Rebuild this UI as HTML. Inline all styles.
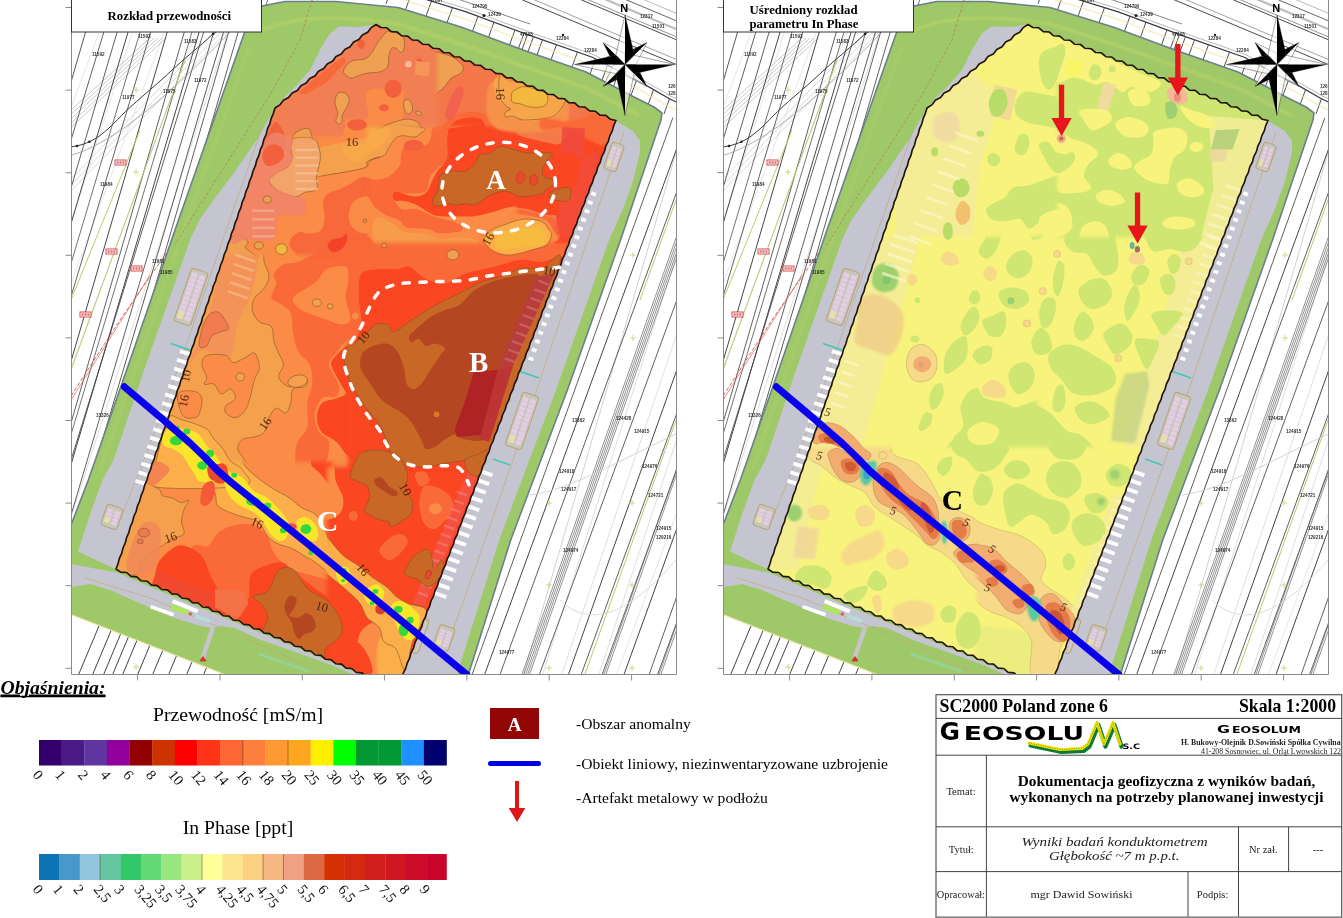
<!DOCTYPE html>
<html lang="pl"><head><meta charset="utf-8"><title>Wyniki badań konduktometrem</title>
<style>html,body{margin:0;padding:0;background:#fff}body{width:1343px;height:918px;overflow:hidden;font-family:"Liberation Serif",serif}svg{display:block}text{font-family:"Liberation Serif",serif}.sans{font-family:"Liberation Sans",sans-serif}</style>
</head><body>
<svg width="1343" height="918" viewBox="0 0 1343 918">
<defs>
<clipPath id="frameL"><rect x="71.5" y="0" width="605.0" height="674.5"/></clipPath>
<clipPath id="frameR"><rect x="723.5" y="0" width="605.0" height="674.5"/></clipPath>
<clipPath id="survL"><polygon points="376.0,24.5 616.0,120.5 397.5,689.0 116.0,569.0 275.0,108.0"/></clipPath>
<clipPath id="survR"><polygon points="1028.0,24.5 1268.0,120.5 1049.5,689.0 768.0,569.0 927.0,108.0"/></clipPath>
<filter id="b1" x="-20%" y="-20%" width="140%" height="140%"><feGaussianBlur stdDeviation="1"/></filter>
<filter id="b2" x="-20%" y="-20%" width="140%" height="140%"><feGaussianBlur stdDeviation="2"/></filter>
<filter id="b3" x="-30%" y="-30%" width="160%" height="160%"><feGaussianBlur stdDeviation="3.5"/></filter>
<filter id="b05" x="-5%" y="-5%" width="110%" height="110%"><feGaussianBlur stdDeviation="0.5"/></filter>
<filter id="b04" filterUnits="userSpaceOnUse" x="0" y="0" width="700" height="700"><feGaussianBlur stdDeviation="0.4"/></filter>
</defs>
<rect width="1343" height="918" fill="#fff"/>
<g clip-path="url(#frameL)">
<g transform="translate(0,0)" filter="url(#b04)">
<rect x="71.5" y="0" width="605.0" height="674.5" fill="#fff"/><g filter="url(#b05)"><path d="M75,0L-161.4,680" stroke="#d6d6d6" stroke-width="0.8" fill="none"/><path d="M111.3,0L-143.8,680" stroke="#dcdcdc" stroke-width="0.7" fill="none"/><path d="M142.8,0L-75.9,680" stroke="#dcdcdc" stroke-width="0.7" fill="none"/><path d="M176.3,0L-76.3,680" stroke="#dcdcdc" stroke-width="0.7" fill="none"/><path d="M207.4,0L-44.9,680" stroke="#dcdcdc" stroke-width="0.7" fill="none"/><path d="M238.3,0L18.4,680" stroke="#d6d6d6" stroke-width="0.8" fill="none"/><path d="M278.4,0L59.7,680" stroke="#d6d6d6" stroke-width="0.8" fill="none"/><path d="M317.6,0L86.2,680" stroke="#d6d6d6" stroke-width="0.8" fill="none"/><path d="M348.4,0L148.4,680" stroke="#d6d6d6" stroke-width="0.8" fill="none"/><path d="M385.1,0L163.5,680" stroke="#dcdcdc" stroke-width="0.7" fill="none"/><path d="M420,0L217.1,680" stroke="#d6d6d6" stroke-width="0.8" fill="none"/><path d="M451.7,0L232.1,680" stroke="#d6d6d6" stroke-width="0.8" fill="none"/><path d="M487.6,0L266.5,680" stroke="#d6d6d6" stroke-width="0.8" fill="none"/><path d="M526.7,0L310.4,680" stroke="#dcdcdc" stroke-width="0.7" fill="none"/><path d="M567.6,0L338.2,680" stroke="#d6d6d6" stroke-width="0.8" fill="none"/><path d="M605,0L409.4,680" stroke="#d6d6d6" stroke-width="0.8" fill="none"/><path d="M639.8,0L435.4,680" stroke="#cccccc" stroke-width="0.9" fill="none"/><path d="M682.3,0L429.4,680" stroke="#d6d6d6" stroke-width="0.8" fill="none"/><path d="M720.7,0L521.8,680" stroke="#cccccc" stroke-width="0.9" fill="none"/><path d="M757.9,0L540.9,680" stroke="#d6d6d6" stroke-width="0.8" fill="none"/><path d="M789.8,0L559.8,680" stroke="#d6d6d6" stroke-width="0.8" fill="none"/><path d="M822.2,0L597,680" stroke="#d6d6d6" stroke-width="0.8" fill="none"/><path d="M867.6,0L614.5,680" stroke="#dcdcdc" stroke-width="0.7" fill="none"/><path d="M60,120.0L150,38" stroke="#c4c4c4" stroke-width="0.9" fill="none"/><path d="M60,124.5L154,38" stroke="#c4c4c4" stroke-width="0.9" fill="none"/><path d="M60,129.0L158,38" stroke="#c4c4c4" stroke-width="0.9" fill="none"/><path d="M60,133.5L162,38" stroke="#c4c4c4" stroke-width="0.9" fill="none"/><path d="M60,138.0L166,38" stroke="#c4c4c4" stroke-width="0.9" fill="none"/><path d="M60,190L215,32" stroke="#cfcfcf" stroke-width="0.8" fill="none"/><path d="M60,196L221,32" stroke="#cfcfcf" stroke-width="0.8" fill="none"/><path d="M60,202L227,32" stroke="#cfcfcf" stroke-width="0.8" fill="none"/><path d="M94.9,0L-103.3,680" stroke="#5a5a5a" stroke-width="1.0" fill="none"/><path d="M113.6,0L-93.3,680" stroke="#454545" stroke-width="0.85" fill="none"/><path d="M126.6,0L-74.4,680" stroke="#454545" stroke-width="0.85" fill="none"/><path d="M137.6,0L-64.9,680" stroke="#454545" stroke-width="1.0" fill="none"/><path d="M149.6,0L-53.2,680" stroke="#5a5a5a" stroke-width="0.85" fill="none"/><path d="M160.3,0L-44.4,680" stroke="#454545" stroke-width="0.85" fill="none"/><path d="M176.6,0L-22.1,680" stroke="#454545" stroke-width="1.0" fill="none"/><path d="M193.6,0L-3.5,680" stroke="#454545" stroke-width="0.85" fill="none"/><path d="M201.6,0L-2.8,680" stroke="#5a5a5a" stroke-width="0.85" fill="none"/><path d="M208.6,0L7.2,680" stroke="#454545" stroke-width="1.0" fill="none"/><path d="M213.6,0L2.8,680" stroke="#454545" stroke-width="0.85" fill="none"/><path d="M223.2,0L22.3,680" stroke="#454545" stroke-width="0.85" fill="none"/><path d="M233,0L31.3,680" stroke="#5a5a5a" stroke-width="1.0" fill="none"/><path d="M237.9,0L41.6,680" stroke="#454545" stroke-width="0.85" fill="none"/><path d="M247.6,0L48.6,680" stroke="#454545" stroke-width="0.85" fill="none"/><path d="M256.6,0L49.3,680" stroke="#454545" stroke-width="1.0" fill="none"/><path d="M267.6,0L61.8,680" stroke="#5a5a5a" stroke-width="0.85" fill="none"/><path d="M690,0L447,680" stroke="#444" stroke-width="1.0" fill="none"/><path d="M703,0L453,680" stroke="#444" stroke-width="0.85" fill="none"/><path d="M715.3,0L470.1,680" stroke="#444" stroke-width="0.85" fill="none"/><path d="M731,0L482.6,680" stroke="#444" stroke-width="1.0" fill="none"/><path d="M747,0L498,680" stroke="#444" stroke-width="0.85" fill="none"/><path d="M787,0L537.4,680" stroke="#444" stroke-width="0.85" fill="none"/><path d="M808.4,0L566.5,680" stroke="#444" stroke-width="1.0" fill="none"/><path d="M828,0L579.2,680" stroke="#444" stroke-width="0.85" fill="none"/><path d="M847.7,0L600.2,680" stroke="#444" stroke-width="0.85" fill="none"/><path d="M868,0L622,680" stroke="#444" stroke-width="1.0" fill="none"/><path d="M888,0L647.2,680" stroke="#444" stroke-width="0.85" fill="none"/><path d="M905,0L655.6,680" stroke="#444" stroke-width="0.85" fill="none"/><path d="M760,0L520,680" stroke="#666" stroke-width="0.7" fill="none"/><path d="M761.9,0L521.9,680" stroke="#666" stroke-width="0.7" fill="none"/><path d="M763.8,0L523.8,680" stroke="#666" stroke-width="0.7" fill="none"/><path d="M765.7,0L525.7,680" stroke="#666" stroke-width="0.7" fill="none"/><path d="M767.6,0L527.6,680" stroke="#666" stroke-width="0.7" fill="none"/><path d="M842,0L602,680" stroke="#666" stroke-width="0.7" fill="none"/><path d="M843.9,0L603.9,680" stroke="#666" stroke-width="0.7" fill="none"/><path d="M897,0L657,680" stroke="#666" stroke-width="0.7" fill="none"/><path d="M898.9,0L658.9,680" stroke="#666" stroke-width="0.7" fill="none"/><path d="M530,495C570,490 620,460 676,434" stroke="#cfcfcf" stroke-width="0.9" fill="none"/><path d="M560,600C600,640 650,590 676,560" stroke="#d8d8d8" stroke-width="0.9" fill="none"/><path d="M71,300L140,130" stroke="#b9cc6a" stroke-width="1" fill="none"/><path d="M71,370L185,60" stroke="#b9cc6a" stroke-width="1" fill="none"/><path d="M100,674L250,260" stroke="#b9cc6a" stroke-width="1" fill="none"/><path d="M585,674L676,420" stroke="#b9cc6a" stroke-width="1" fill="none"/><path d="M640,300L676,200" stroke="#b9cc6a" stroke-width="1" fill="none"/><path d="M60,148C75,147 82,145 89.4,141.8C104,135 115,122 125.4,111.6C140,98 155,86 167.8,74C185,58 200,46 212,34.8L222,28" stroke="#3a3a3a" stroke-width="1" fill="none"/><circle cx="89.4" cy="141.8" r="1.3" fill="#222"/><circle cx="77" cy="146" r="1.3" fill="#222"/><circle cx="213" cy="34" r="1.3" fill="#222"/><path d="M60,158C105,150 160,105 230,32" stroke="#9a9a9a" stroke-width="0.8" fill="none"/><path d="M71,396L120,320L172,245L262,110L300,40L312,0" stroke="#c8584a" stroke-width="0.9" stroke-dasharray="4 2" fill="none"/><path d="M71,400L150,275" stroke="#d46a5a" stroke-width="0.7" fill="none"/></g><g filter="url(#b05)"><polygon points="336.0,-5.0 690.0,-5.0 690.0,125.0 662.0,113.0 636.0,98.0 586.0,72.0 523.0,50.0 461.0,27.0 398.0,7.5 336.0,1.5" fill="#fff"/><path d="M384.7,-13.3 L402.7,-7.8 L466.2,11.9 L528.4,34.9 L592.3,57.3 L643.6,83.9 L669.4,98.8 L696.7,111.5" stroke="#3a3a3a" stroke-width="1.2" fill="none"/><path d="M385.6,-16.2 L403.6,-10.7 L467.1,9 L529.4,32.1 L593.4,54.5 L645,81.3 L670.7,96.1 L698,108.8" stroke="#9a9a9a" stroke-width="0.7" fill="none"/><path d="M386,3.8l5.6,-15.4M405.5,9.8l5.6,-15.4M426,16.2l5.6,-15.4M447,22.7l5.6,-15.4M472.5,31.3l5.6,-15.4M488.5,37.2l5.6,-15.4M509.5,45l5.6,-15.4M518.5,48.3l5.6,-15.4M522,49.6l5.6,-15.4M528,51.7l5.6,-15.4M537,54.9l5.6,-15.4M551,59.8l5.6,-15.4M572,67.1l5.6,-15.4M590,74.1l5.6,-15.4M602,80.3l5.6,-15.4M613.5,86.3l5.6,-15.4M631,95.4l5.6,-15.4M648,104.9l5.6,-15.4M664,113.9l5.6,-15.4" stroke="#505050" stroke-width="1" fill="none"/><path d="M518,-2L688,69.4" stroke="#4a4a4a" stroke-width="1.0" fill="none"/><path d="M530,-2L700,69.4" stroke="#8a8a8a" stroke-width="0.8" fill="none"/><path d="M577,-2L747,69.4" stroke="#4a4a4a" stroke-width="1.0" fill="none"/><path d="M584,-2L754,69.4" stroke="#777" stroke-width="0.8" fill="none"/><path d="M602,-2L772,69.4" stroke="#bdbdbd" stroke-width="2.2" fill="none"/><path d="M622,-2L792,69.4" stroke="#555" stroke-width="0.9" fill="none"/><path d="M640,-2L810,69.4" stroke="#999" stroke-width="0.7" fill="none"/><path d="M455,-2L530,24" stroke="#666" stroke-width="0.8" fill="none"/><circle cx="484" cy="15.5" r="1.6" fill="#222"/><circle cx="563" cy="35" r="1.2" fill="#222"/><path d="M382.6,-6.6 L400.7,-1.1 L463.9,18.5 L526,41.5 L589.5,63.7 L640.3,90.1 L666.1,105 L693.8,117.8" stroke="#f0e6a8" stroke-width="1.6" fill="none" opacity="0.6"/></g><polygon points="60.0,560.0 72.0,522.5 88.3,480.0 95.5,459.5 133.6,350.0 175.0,230.0 244.0,34.0 252.0,16.0 262.0,6.0 285.0,1.5 336.0,1.5 398.0,7.5 461.0,27.0 523.0,50.0 586.0,72.0 636.0,98.0 654.0,107.0 662.0,113.0 661.0,120.0 620.5,240.0 567.4,390.0 539.0,465.0 510.7,540.0 468.2,675.0 455.0,710.0 60.0,710.0" fill="#9fc868" stroke="#6d7f8c" stroke-width="1.6" stroke-linejoin="round"/><path d="M262,30C300,14 350,16 398,24L461,44L523,66L586,88L640,116" stroke="#c6d86a" stroke-width="3.5" fill="none" opacity="0.45" filter="url(#b1)"/><path d="M250,45L180,240L100,470" stroke="#b4d070" stroke-width="3" fill="none" opacity="0.4" filter="url(#b1)"/><polygon points="60.0,610.0 71.0,614.5 225.0,674.5 260.0,700.0 60.0,700.0" fill="#fff"/><g filter="url(#b05)"><clipPath id="wedgeL"><polygon points="60.0,610.0 71.0,614.5 225.0,674.5 260.0,700.0 60.0,700.0"/></clipPath><path d="M78,676l30.2,-72M92,676l30.2,-72M103,676l30.2,-72M112,676l30.2,-72M122,676l30.2,-72M137,676l30.2,-72M152,676l30.2,-72M168,676l30.2,-72M186,676l30.2,-72M203,676l30.2,-72M220,676l30.2,-72M238,676l30.2,-72" stroke="#444" stroke-width="1" fill="none" clip-path="url(#wedgeL)"/><path d="M60,610L71,614.5L225,674.5" stroke="#e8e39a" stroke-width="1.2" fill="none"/></g><polygon points="275.0,108.0 116.7,569.5 100.0,562.0 78.0,551.5 89.7,515.4 102.5,480.0 113.8,459.5 144.1,370.0 190.0,240.0 200.0,219.0 215.0,198.0 236.0,170.0 256.7,140.0 268.5,119.0 281.0,100.5 295.5,86.5 310.0,70.0 321.0,48.0 329.5,34.0 339.0,26.5 359.0,27.0 376.0,24.5" fill="#c5c5d2"/><polygon points="616.0,120.5 397.5,689.0 440.0,710.0 456.8,675.0 499.3,540.0 527.5,465.0 556.0,390.0 609.1,240.0 623.0,209.0 633.0,181.0 640.0,152.5 640.0,141.0 633.0,131.0 619.0,122.7" fill="#c5c5d2"/><polygon points="60.0,562.0 116.7,572.5 160.0,591.0 398.0,690.0 420.0,712.0 400.0,712.0 360.0,677.5 330.0,664.5 291.0,650.5 261.0,640.0 235.0,628.0 220.8,626.0 212.8,628.0 200.7,626.0 180.6,620.0 164.5,614.0 146.5,606.0 130.0,599.0 110.0,590.0 90.0,584.0 60.0,589.0" fill="#c5c5d2"/><path d="M520,84L616,122" stroke="#c5c5d2" stroke-width="3" fill="none"/><g fill="none" stroke="#c2a877" stroke-width="0.8" opacity="0.9"><path d="M262,128L215,262L188,340L163,410L140,470L120,520"/><path d="M624,132L590,232L520,440L478,560L446,650"/><path d="M85,578L150,598L240,636L330,676"/></g><path d="M312,0L300,40L270,95L235,150L200,205L175,245" stroke="#b08a55" stroke-width="0.9" stroke-dasharray="3 2" fill="none"/><g transform="translate(191,297) rotate(-71)"><rect x="-28.0" y="-8.75" width="56" height="17.5" rx="3" fill="#c9c6c0" stroke="#b7a46a" stroke-width="1"/><rect x="-24.0" y="-6.8" width="48" height="5.75" fill="#e3cfe3"/><rect x="-24.0" y="1" width="48" height="5.75" fill="#e3cfe3"/><path d="M-19.2,-6.75V6.75M-14.4,-6.75V6.75M-9.6,-6.75V6.75M-4.8,-6.75V6.75M0,-6.75V6.75M4.8,-6.75V6.75M9.6,-6.75V6.75M14.4,-6.75V6.75M19.2,-6.75V6.75" stroke="#cdb2cf" stroke-width="0.5" fill="none"/><rect x="-24.0" y="-6.75" width="7.2" height="5.75" fill="#e6e0a8"/></g><g transform="translate(522,421) rotate(-71)"><rect x="-28.0" y="-8.5" width="56" height="17" rx="3" fill="#c9c6c0" stroke="#b7a46a" stroke-width="1"/><rect x="-24.0" y="-6.5" width="48" height="5.5" fill="#e3cfe3"/><rect x="-24.0" y="1" width="48" height="5.5" fill="#e3cfe3"/><path d="M-19.2,-6.5V6.5M-14.4,-6.5V6.5M-9.6,-6.5V6.5M-4.8,-6.5V6.5M0,-6.5V6.5M4.8,-6.5V6.5M9.6,-6.5V6.5M14.4,-6.5V6.5M19.2,-6.5V6.5" stroke="#cdb2cf" stroke-width="0.5" fill="none"/><rect x="-24.0" y="-6.5" width="7.2" height="5.5" fill="#e6e0a8"/></g><g transform="translate(614,157) rotate(-71)"><rect x="-14.0" y="-6.5" width="28" height="13" rx="3" fill="#c9c6c0" stroke="#b7a46a" stroke-width="1"/><rect x="-10.0" y="-4.5" width="20" height="3.5" fill="#e3cfe3"/><rect x="-10.0" y="1" width="20" height="3.5" fill="#e3cfe3"/><path d="M-6,-4.5V4.5M-2,-4.5V4.5M2,-4.5V4.5M6,-4.5V4.5" stroke="#cdb2cf" stroke-width="0.5" fill="none"/><rect x="-10.0" y="-4.5" width="6.0" height="3.5" fill="#e6e0a8"/></g><g transform="translate(112,517) rotate(-71)"><rect x="-11.0" y="-8.5" width="22" height="17" rx="3" fill="#c9c6c0" stroke="#b7a46a" stroke-width="1"/><rect x="-7.0" y="-6.5" width="14" height="5.5" fill="#e3cfe3"/><rect x="-7.0" y="1" width="14" height="5.5" fill="#e3cfe3"/><path d="M-3.5,-6.5V6.5M0,-6.5V6.5M3.5,-6.5V6.5" stroke="#cdb2cf" stroke-width="0.5" fill="none"/><rect x="-7.0" y="-6.5" width="5.2" height="5.5" fill="#e6e0a8"/></g><g transform="translate(444,638) rotate(-71)"><rect x="-12.0" y="-8.0" width="24" height="16" rx="3" fill="#c9c6c0" stroke="#b7a46a" stroke-width="1"/><rect x="-8.0" y="-6" width="16" height="5.0" fill="#e3cfe3"/><rect x="-8.0" y="1" width="16" height="5.0" fill="#e3cfe3"/><path d="M-4.8,-6.0V6.0M-1.6,-6.0V6.0M1.6,-6.0V6.0M4.8,-6.0V6.0" stroke="#cdb2cf" stroke-width="0.5" fill="none"/><rect x="-8.0" y="-6.0" width="4.8" height="5.0" fill="#e6e0a8"/></g><g transform="translate(420,636) rotate(-71)"><rect x="-18.0" y="-3.75" width="36" height="7.5" rx="3" fill="#c9c6c0" stroke="#b7a46a" stroke-width="1"/><rect x="-14.0" y="-1.8" width="28" height="0.75" fill="#e3cfe3"/><rect x="-14.0" y="1" width="28" height="0.75" fill="#e3cfe3"/><path d="M-10.5,-1.75V1.75M-7,-1.75V1.75M-3.5,-1.75V1.75M0,-1.75V1.75M3.5,-1.75V1.75M7,-1.75V1.75M10.5,-1.75V1.75" stroke="#cdb2cf" stroke-width="0.5" fill="none"/><rect x="-14.0" y="-1.75" width="5.2" height="0.75" fill="#e6e0a8"/></g><path d="M180,351.2l10,3.1" stroke="#fff" stroke-width="3.8" fill="none"/><path d="M177,359.8l10,3.1" stroke="#fff" stroke-width="3.8" fill="none"/><path d="M174.1,368.5l10,3.1" stroke="#fff" stroke-width="3.8" fill="none"/><path d="M171.1,377.1l10,3.1" stroke="#fff" stroke-width="3.8" fill="none"/><path d="M168.1,385.8l10,3.1" stroke="#fff" stroke-width="3.8" fill="none"/><path d="M165.2,394.4l10,3.1" stroke="#fff" stroke-width="3.8" fill="none"/><path d="M162.2,403l10,3.1" stroke="#fff" stroke-width="3.8" fill="none"/><path d="M159.2,411.7l10,3.1" stroke="#fff" stroke-width="3.8" fill="none"/><path d="M156.2,420.3l10,3.1" stroke="#fff" stroke-width="3.8" fill="none"/><path d="M153.3,429l10,3.1" stroke="#fff" stroke-width="3.8" fill="none"/><path d="M150.3,437.6l10,3.1" stroke="#fff" stroke-width="3.8" fill="none"/><path d="M147.3,446.2l10,3.1" stroke="#fff" stroke-width="3.8" fill="none"/><path d="M144.4,454.9l10,3.1" stroke="#fff" stroke-width="3.8" fill="none"/><path d="M141.4,463.5l10,3.1" stroke="#fff" stroke-width="3.8" fill="none"/><path d="M138.4,472.2l10,3.1" stroke="#fff" stroke-width="3.8" fill="none"/><path d="M135.4,480.8l10,3.1" stroke="#fff" stroke-width="3.8" fill="none"/><path d="M591.2,193l4.7,1.7" stroke="#fff" stroke-width="3.6" fill="none"/><path d="M587.9,201.7l4.7,1.7" stroke="#fff" stroke-width="3.6" fill="none"/><path d="M584.6,210.4l4.7,1.7" stroke="#fff" stroke-width="3.6" fill="none"/><path d="M581.3,219l4.7,1.7" stroke="#fff" stroke-width="3.6" fill="none"/><path d="M578,227.7l4.7,1.7" stroke="#fff" stroke-width="3.6" fill="none"/><path d="M574.7,236.4l4.7,1.7" stroke="#fff" stroke-width="3.6" fill="none"/><path d="M571.4,245.1l4.7,1.7" stroke="#fff" stroke-width="3.6" fill="none"/><path d="M568.1,253.8l4.7,1.7" stroke="#fff" stroke-width="3.6" fill="none"/><path d="M564.8,262.4l4.7,1.7" stroke="#fff" stroke-width="3.6" fill="none"/><path d="M561.5,271.1l4.7,1.7" stroke="#fff" stroke-width="3.6" fill="none"/><path d="M558.2,279.8l4.7,1.7" stroke="#fff" stroke-width="3.6" fill="none"/><path d="M554.9,288.5l4.7,1.7" stroke="#fff" stroke-width="3.6" fill="none"/><path d="M551.6,297.2l4.7,1.7" stroke="#fff" stroke-width="3.6" fill="none"/><path d="M548.3,305.8l4.7,1.7" stroke="#fff" stroke-width="3.6" fill="none"/><path d="M545,314.5l4.7,1.7" stroke="#fff" stroke-width="3.6" fill="none"/><path d="M541.7,323.2l4.7,1.7" stroke="#fff" stroke-width="3.6" fill="none"/><path d="M538.4,331.9l4.7,1.7" stroke="#fff" stroke-width="3.6" fill="none"/><path d="M535.1,340.6l4.7,1.7" stroke="#fff" stroke-width="3.6" fill="none"/><path d="M531.8,349.2l4.7,1.7" stroke="#fff" stroke-width="3.6" fill="none"/><path d="M528.5,357.9l4.7,1.7" stroke="#fff" stroke-width="3.6" fill="none"/><path d="M480.2,471l12.2,4.4" stroke="#fff" stroke-width="3.8" fill="none"/><path d="M476.9,479.7l12.2,4.4" stroke="#fff" stroke-width="3.8" fill="none"/><path d="M473.6,488.4l12.2,4.4" stroke="#fff" stroke-width="3.8" fill="none"/><path d="M470.3,497.1l12.2,4.4" stroke="#fff" stroke-width="3.8" fill="none"/><path d="M467,505.8l12.2,4.4" stroke="#fff" stroke-width="3.8" fill="none"/><path d="M463.7,514.5l12.2,4.4" stroke="#fff" stroke-width="3.8" fill="none"/><path d="M460.4,523.2l12.2,4.4" stroke="#fff" stroke-width="3.8" fill="none"/><path d="M457.1,531.9l12.2,4.4" stroke="#fff" stroke-width="3.8" fill="none"/><path d="M453.8,540.6l12.2,4.4" stroke="#fff" stroke-width="3.8" fill="none"/><path d="M450.5,549.3l12.2,4.4" stroke="#fff" stroke-width="3.8" fill="none"/><path d="M447.2,558l12.2,4.4" stroke="#fff" stroke-width="3.8" fill="none"/><path d="M443.9,566.7l12.2,4.4" stroke="#fff" stroke-width="3.8" fill="none"/><path d="M440.6,575.4l12.2,4.4" stroke="#fff" stroke-width="3.8" fill="none"/><path d="M437.3,584.1l12.2,4.4" stroke="#fff" stroke-width="3.8" fill="none"/><path d="M434,592.8l12.2,4.4" stroke="#fff" stroke-width="3.8" fill="none"/><path d="M171,343.5l20,7" stroke="#43c8b0" stroke-width="1.8" fill="none"/><path d="M519,371l20,7" stroke="#43c8b0" stroke-width="1.8" fill="none"/><path d="M493,459l17,6" stroke="#43c8b0" stroke-width="1.8" fill="none"/><path d="M150.5,606.6L173.6,614.7" stroke="#fff" stroke-width="3.6" fill="none"/><path d="M172.6,601.2L197.7,611.3" stroke="#fff" stroke-width="4" fill="none"/><path d="M171,606.5L187,612.5" stroke="#aee65a" stroke-width="5.5" fill="none"/><path d="M195,616L210,621.5" stroke="#aee6e0" stroke-width="3.5" fill="none" opacity="0.8"/><circle cx="190.3" cy="613.9" r="1.7" fill="#e06030"/><path d="M212.8,628L207,645L202.7,658" stroke="#c4c4c9" stroke-width="4.5" fill="none"/><path d="M203,656.5l-3,4.5 6,0z" fill="#d03030" stroke="#d03030" stroke-width="0.8"/><path d="M259,654l50,17.5" stroke="#8fdcc8" stroke-width="3" fill="none" opacity="0.7" stroke-dasharray="2 1"/><polygon points="376.0,24.5 616.0,120.5 397.5,689.0 116.0,569.0 275.0,108.0" fill="#d8d8d8"/><text x="92" y="56" font-size="4.6" fill="#1c1c1c" text-anchor="start" font-weight="bold" class="sans" opacity="0.9">11592</text><text x="138" y="38" font-size="4.6" fill="#1c1c1c" text-anchor="start" font-weight="bold" class="sans" opacity="0.9">11593</text><text x="184" y="43" font-size="4.6" fill="#1c1c1c" text-anchor="start" font-weight="bold" class="sans" opacity="0.9">11583</text><text x="194" y="82" font-size="4.6" fill="#1c1c1c" text-anchor="start" font-weight="bold" class="sans" opacity="0.9">11972</text><text x="122" y="99" font-size="4.6" fill="#1c1c1c" text-anchor="start" font-weight="bold" class="sans" opacity="0.9">11977</text><text x="163" y="93" font-size="4.6" fill="#1c1c1c" text-anchor="start" font-weight="bold" class="sans" opacity="0.9">11975</text><text x="100" y="186" font-size="4.6" fill="#1c1c1c" text-anchor="start" font-weight="bold" class="sans" opacity="0.9">11984</text><text x="160" y="274" font-size="4.6" fill="#1c1c1c" text-anchor="start" font-weight="bold" class="sans" opacity="0.9">11985</text><text x="152" y="263" font-size="4.6" fill="#1c1c1c" text-anchor="start" font-weight="bold" class="sans" opacity="0.9">11981</text><text x="96" y="417" font-size="4.6" fill="#1c1c1c" text-anchor="start" font-weight="bold" class="sans" opacity="0.9">13326</text><text x="561" y="491" font-size="4.6" fill="#1c1c1c" text-anchor="start" font-weight="bold" class="sans" opacity="0.9">124917</text><text x="559" y="473" font-size="4.6" fill="#1c1c1c" text-anchor="start" font-weight="bold" class="sans" opacity="0.9">124918</text><text x="563" y="552" font-size="4.6" fill="#1c1c1c" text-anchor="start" font-weight="bold" class="sans" opacity="0.9">124974</text><text x="572" y="422" font-size="4.6" fill="#1c1c1c" text-anchor="start" font-weight="bold" class="sans" opacity="0.9">13362</text><text x="616" y="420" font-size="4.6" fill="#1c1c1c" text-anchor="start" font-weight="bold" class="sans" opacity="0.9">124428</text><text x="634" y="433" font-size="4.6" fill="#1c1c1c" text-anchor="start" font-weight="bold" class="sans" opacity="0.9">124915</text><text x="642" y="468" font-size="4.6" fill="#1c1c1c" text-anchor="start" font-weight="bold" class="sans" opacity="0.9">124976</text><text x="648" y="497" font-size="4.6" fill="#1c1c1c" text-anchor="start" font-weight="bold" class="sans" opacity="0.9">124721</text><text x="656" y="530" font-size="4.6" fill="#1c1c1c" text-anchor="start" font-weight="bold" class="sans" opacity="0.9">124915</text><text x="656" y="539" font-size="4.6" fill="#1c1c1c" text-anchor="start" font-weight="bold" class="sans" opacity="0.9">129216</text><text x="499" y="654" font-size="4.6" fill="#1c1c1c" text-anchor="start" font-weight="bold" class="sans" opacity="0.9">124977</text><text x="472" y="8" font-size="4.6" fill="#1c1c1c" text-anchor="start" font-weight="bold" class="sans" opacity="0.9">124790</text><text x="520" y="36" font-size="4.6" fill="#1c1c1c" text-anchor="start" font-weight="bold" class="sans" opacity="0.9">47808</text><text x="488" y="16" font-size="4.6" fill="#1c1c1c" text-anchor="start" font-weight="bold" class="sans" opacity="0.9">12439</text><text x="556" y="40" font-size="4.6" fill="#1c1c1c" text-anchor="start" font-weight="bold" class="sans" opacity="0.9">12284</text><text x="584" y="52" font-size="4.6" fill="#1c1c1c" text-anchor="start" font-weight="bold" class="sans" opacity="0.9">12284</text><text x="607" y="60" font-size="4.6" fill="#1c1c1c" text-anchor="start" font-weight="bold" class="sans" opacity="0.9">12359</text><text x="430" y="2" font-size="4.6" fill="#1c1c1c" text-anchor="start" font-weight="bold" class="sans" opacity="0.9">47807</text><text x="640" y="18" font-size="4.6" fill="#1c1c1c" text-anchor="start" font-weight="bold" class="sans" opacity="0.9">12317</text><text x="652" y="28" font-size="4.6" fill="#1c1c1c" text-anchor="start" font-weight="bold" class="sans" opacity="0.9">11501</text><text x="668" y="88" font-size="4.6" fill="#1c1c1c" text-anchor="start" font-weight="bold" class="sans" opacity="0.9">126701</text><text x="668" y="95" font-size="4.6" fill="#1c1c1c" text-anchor="start" font-weight="bold" class="sans" opacity="0.9">128702</text><rect x="106" y="249" width="11" height="5" fill="#fff" stroke="#d23c3c" stroke-width="0.9"/><path d="M107.5,251.5h8" stroke="#e07070" stroke-width="2.4" stroke-dasharray="2.2 0.7" fill="none"/><rect x="131" y="266" width="11" height="5" fill="#fff" stroke="#d23c3c" stroke-width="0.9"/><path d="M132.5,268.5h8" stroke="#e07070" stroke-width="2.4" stroke-dasharray="2.2 0.7" fill="none"/><rect x="80" y="312" width="11" height="5" fill="#fff" stroke="#d23c3c" stroke-width="0.9"/><path d="M81.5,314.5h8" stroke="#e07070" stroke-width="2.4" stroke-dasharray="2.2 0.7" fill="none"/><rect x="115" y="160" width="11" height="5" fill="#fff" stroke="#d23c3c" stroke-width="0.9"/><path d="M116.5,162.5h8" stroke="#e07070" stroke-width="2.4" stroke-dasharray="2.2 0.7" fill="none"/><path d="M133,90h6M136,87v6M133,172h6M136,169v6M630,338h6M633,335v6M630,255h6M633,252v6M546,503h6M549,500v6M629,503h6M632,500v6M546,585h6M549,582v6M629,585h6M632,582v6M546,668h6M549,665v6M629,668h6M632,665v6M133,667h6M136,664v6" stroke="#bfd46a" stroke-width="0.8" fill="none"/>
</g>
<g clip-path="url(#survL)"><rect x="0" y="0" width="1343" height="700" fill="#f4703c"/><g filter="url(#b05)"><mask id="tL1" maskUnits="userSpaceOnUse" x="88" y="-12" width="364" height="164"><rect x="97" y="-3" width="346" height="146" fill="#fff" filter="url(#b2)"/></mask><g mask="url(#tL1)"><rect x="88" y="-12" width="364" height="164" fill="#f27e52"/><path d="M316.7,151.7C308.2,150.5 315.7,146.3 319.5,144.6C323.3,143 335.1,144.9 339.3,141.8C343.6,138.7 343.6,130 345,126.2C346.4,122.5 344,120.6 347.8,119.2C351.6,117.7 364.3,122.5 367.6,117.7C371,113 362,95.3 367.6,90.8C373.3,86.3 395.7,89.4 401.6,90.8C407.5,92.2 403.1,94.6 403.1,99.3C403.1,104 404.2,114.9 401.6,119.2C399,123.4 392.2,122.7 387.5,124.8C382.8,126.9 376.1,127.4 373.3,131.9C370.5,136.4 379.9,148.4 370.5,151.7C361,155 325.2,152.9 316.7,151.7Z" fill="#fa8c46" /><path d="M373.3,131.9C374.3,130 376.9,129.3 380.4,127.6C383.9,126 390.1,123.4 394.6,122C399,120.6 403.5,119.2 407.3,119.2C411.1,119.2 415,120.3 417.2,122C419.5,123.6 420.8,126.9 420.8,129.1C420.8,131.2 419.5,133.6 417.2,134.7C415,135.9 410.4,135.7 407.3,136.1C404.2,136.6 401.2,136.4 398.8,137.6C396.4,138.7 395,141.2 393.1,143.2C391.3,145.3 388.9,147.9 387.5,150C386.1,152.2 387.5,155 384.6,156C381.8,157 371.7,158.1 370.5,156C369.3,153.9 376.9,146.1 377.6,143.2C378.3,140.4 375.4,140.9 374.7,139C374,137.1 372.4,133.8 373.3,131.9Z" fill="#f0a052"  stroke="#7a5226" stroke-width="0.7" stroke-opacity="0.8"/><path d="M291.9,140.4C292.6,136.4 294.1,133.9 296.8,131.9C299.5,129.9 305.7,127.6 308.2,128.4C310.6,129.1 310.5,133 311.7,136.1C312.9,139.3 313.9,144.9 315.2,147.5C316.5,150.1 319.3,150.3 319.5,151.7C319.7,153.1 321.1,155.3 316.7,156C312.2,156.7 296.7,158.6 292.6,156C288.4,153.4 291.2,144.4 291.9,140.4Z" fill="#f0a052"  stroke="#7a5226" stroke-width="0.7" stroke-opacity="0.8"/></g><mask id="tL2" maskUnits="userSpaceOnUse" x="428" y="-12" width="284" height="154"><rect x="437" y="-3" width="266" height="136" fill="#fff" filter="url(#b2)"/></mask><g mask="url(#tL2)"><rect x="428" y="-12" width="284" height="154" fill="#f4774a"/><path d="M431.5,55.4C434.3,49 444,54.5 448.5,55.4C453,56.4 455.9,59 458.4,61.1C460.9,63.2 463.1,66 463.4,68.2C463.6,70.3 461.8,72.2 459.8,73.8C457.8,75.5 453.7,76.2 451.3,78.1C449,80 447.6,83 445.7,85.2C443.8,87.3 442.4,89.4 440,90.8C437.6,92.2 432.9,99.6 431.5,93.7C430.1,87.8 428.7,61.8 431.5,55.4Z" fill="#f0a052"  stroke="#7a5226" stroke-width="0.7" stroke-opacity="0.8"/><path d="M437.2,151.7C408.1,147.7 440.2,133.6 442.8,127.6C445.4,121.7 448.5,118.9 452.7,116.3C457,113.7 463.4,112.5 468.3,112.1C473.3,111.6 478.7,111.6 482.5,113.5C486.3,115.4 488.2,120.8 491,123.4C493.8,126 495.7,127.6 499.5,129.1C503.3,130.5 508.9,131.2 513.7,131.9C518.4,132.6 523.1,132.6 527.8,133.3C532.5,134 536.3,135.7 542,136.1C547.6,136.6 555.2,136.6 561.8,136.1C568.4,135.7 576,134.7 581.6,133.3C587.3,131.9 589.9,129.5 595.8,127.6C601.7,125.8 613.5,118 617.1,122C620.6,126 647,146.8 617.1,151.7C587.1,156.7 466.2,155.7 437.2,151.7Z" fill="#fa6937" /><path d="M445.7,151.7C421.1,148.7 447.1,138.3 448.5,133.3C449.9,128.4 450.9,124.6 454.2,122C457.5,119.4 463.8,118.2 468.3,117.7C472.8,117.3 478,117.5 481.1,119.2C484.1,120.8 484.1,125.3 486.7,127.6C489.3,130 492.6,131.9 496.7,133.3C500.7,134.7 506.1,135.4 510.8,136.1C515.5,136.9 520.3,136.9 525,137.6C529.7,138.3 533.2,139.7 539.2,140.4C545.1,141.1 553.3,141.8 560.4,141.8C567.5,141.8 575.7,139.9 581.6,140.4C587.5,140.9 593.4,142.8 595.8,144.6C598.2,146.5 620.8,150.5 595.8,151.7C570.8,152.9 470.2,154.8 445.7,151.7Z" fill="#fa4623" /><path d="M564.6,127.6 L585.9,126.2 L585.9,151.7 L563.2,151.7Z" fill="#ee5040"  opacity="0.8"/></g><mask id="tL3" maskUnits="userSpaceOnUse" x="88" y="128" width="294" height="142"><rect x="97" y="137" width="276" height="124" fill="#fff" filter="url(#b2)"/></mask><g mask="url(#tL3)"><rect x="88" y="128" width="294" height="142" fill="#fa8c46"/><path d="M319,148.5C322.5,145.9 331.5,145.2 341.6,142.8C351.8,140.5 373.2,135.8 380,134.3C386.9,132.9 382.3,130.6 382.7,134.3C383.2,138.1 385.3,152.5 382.7,157C380.1,161.5 370,159.6 367.1,161.2C364.3,162.9 368.8,165.3 365.7,166.9C362.7,168.6 355.6,169.7 348.7,171.2C341.9,172.6 329.8,174.5 324.6,175.4C319.5,176.4 318.3,179.7 317.6,176.8C316.9,174 320.2,163.1 320.4,158.4C320.6,153.7 315.4,151.1 319,148.5Z" fill="#f5a04e" /><path d="M341.6,148.5C342.1,145.9 349,146.6 355.8,145.7C362.7,144.7 378.2,141.7 382.7,142.8C387.2,144 385.3,150.4 382.7,152.7C380.1,155.1 372.1,155.6 367.1,157C362.2,158.4 357.2,162.7 353,161.2C348.7,159.8 341.2,151.1 341.6,148.5Z" fill="#fbae48"  opacity="0.7" filter="url(#b1)"/><path d="M290.7,239.2C292.1,236.6 296.3,233 299.2,232.1C302,231.1 304.1,233.7 307.6,233.5C311.2,233.2 317.6,233 320.4,230.7C323.2,228.3 324.2,224 324.6,219.3C325.1,214.6 322.8,206.6 323.2,202.3C323.7,198.1 324.9,195.9 327.5,193.8C330.1,191.7 335,191.2 338.8,189.6C342.6,187.9 345.9,186 350.1,183.9C354.4,181.8 358.9,177.3 364.3,176.8C369.7,176.4 379.7,176.6 382.7,181.1C385.8,185.6 384.4,200.7 382.7,203.7C381.1,206.8 375.9,200.7 372.8,199.5C369.7,198.3 367.6,196.2 364.3,196.7C361,197.1 355.6,199 353,202.3C350.4,205.6 348.7,212.2 348.7,216.5C348.7,220.7 350.4,225 353,227.8C355.6,230.7 359.3,233 364.3,233.5C369.3,234 379.7,224.3 382.7,230.7C385.8,237 400,264.9 382.7,271.7C365.5,278.6 295.1,273.1 279.3,271.7C263.5,270.3 284.5,265.4 287.8,263.2C291.1,261.1 298.7,261.6 299.2,259C299.6,256.4 292.1,251 290.7,247.6C289.2,244.3 289.2,241.7 290.7,239.2Z" fill="#f7673a" /><path d="M269.4,179.7C270.3,177.8 273.4,174.7 276.5,172.6C279.6,170.5 285.2,169.5 287.8,166.9C290.4,164.3 291.6,160.3 292.1,157C292.5,153.7 290.4,150.2 290.7,147.1C290.9,144 289.7,140 293.5,138.6C297.3,137.2 309.1,136.9 313.3,138.6C317.6,140.2 317.8,145.2 319,148.5C320.2,151.8 320.6,154.6 320.4,158.4C320.2,162.2 318.3,167.6 317.6,171.2C316.9,174.7 316.1,177.1 316.1,179.7C316.1,182.3 318,184.9 317.6,186.7C317.1,188.6 315.4,190 313.3,191C311.2,191.9 307.6,191.5 304.8,192.4C302,193.4 299.6,196.4 296.3,196.7C293,196.9 288.3,195 285,193.8C281.7,192.6 278.8,191.2 276.5,189.6C274.1,187.9 272,185.6 270.8,183.9C269.6,182.3 268.5,181.5 269.4,179.7Z" fill="#f2a46a"  stroke="#7a5226" stroke-width="0.7" stroke-opacity="0.8"/><path d="M232.6,236.3C236.1,230.7 239.9,236.8 242.5,237.7C245.1,238.7 247.7,240.3 248.2,242C248.6,243.6 244.6,245.8 245.3,247.6C246,249.5 250,251.2 252.4,253.3C254.8,255.4 257.8,257.3 259.5,260.4C261.1,263.5 268.7,269.8 262.3,271.7C255.9,273.6 226.2,277.6 221.2,271.7C216.3,265.8 229,242 232.6,236.3Z" fill="#f0a052"  stroke="#7a5226" stroke-width="0.7" stroke-opacity="0.8"/></g><mask id="tL4" maskUnits="userSpaceOnUse" x="358" y="118" width="174" height="152"><rect x="367" y="127" width="156" height="134" fill="#fff" filter="url(#b2)"/></mask><g mask="url(#tL4)"><rect x="358" y="118" width="174" height="152" fill="#fa8c46"/><path d="M357.2,168.2C359.1,165.9 364,164.7 368.5,162.6C373,160.5 379.6,159.5 384.1,155.5C388.6,151.5 389.3,142.7 395.4,138.5C401.5,134.2 414.5,131.4 420.9,130C427.3,128.6 432,128.6 433.7,130C435.3,131.4 432.2,135.9 430.8,138.5C429.4,141.1 427.5,145.1 425.2,145.6C422.8,146.1 419.7,141.8 416.7,141.3C413.6,140.9 409.3,140.6 406.7,142.7C404.1,144.9 402.3,150.3 401.1,154.1C399.9,157.9 401.8,161.6 399.7,165.4C397.5,169.2 392.6,174.4 388.3,176.7C384.1,179.1 379.4,179.6 374.2,179.6C369,179.6 360,178.6 357.2,176.7C354.3,174.9 355.3,170.6 357.2,168.2Z" fill="#fa8c46" /><path d="M357.2,176.7C360,174.1 369,179.6 374.2,179.6C379.4,179.6 384.1,179.1 388.3,176.7C392.6,174.4 397.5,169.2 399.7,165.4C401.8,161.6 399.9,157.9 401.1,154.1C402.3,150.3 404.1,144.9 406.7,142.7C409.3,140.6 413.6,140.9 416.7,141.3C419.7,141.8 422.8,146.1 425.2,145.6C427.5,145.1 429.4,141.6 430.8,138.5C432.2,135.4 430.3,129.1 433.7,127.2C437,125.3 448.3,122 450.7,127.2C453,132.4 449.7,151.7 447.8,158.3C445.9,164.9 442.2,164 439.3,166.8C436.5,169.7 432.7,172 430.8,175.3C428.9,178.6 429.2,183.8 428,186.7C426.8,189.5 428,191.1 423.7,192.3C419.5,193.5 407.7,193 402.5,193.7C397.3,194.4 393.5,194.9 392.6,196.6C391.6,198.2 395.2,201.5 396.8,203.7C398.5,205.8 399.2,208.4 402.5,209.3C405.8,210.3 411.5,208.1 416.7,209.3C421.9,210.5 428,214.5 433.7,216.4C439.3,218.3 445.9,219 450.7,220.7C455.4,222.3 460.6,224.4 462,226.3C463.4,228.2 462.9,230.8 459.2,232C455.4,233.2 444.5,233.9 439.3,233.4C434.1,232.9 433.4,230.1 428,229.2C422.6,228.2 411.5,229.2 406.7,227.7C402,226.3 403.2,222.8 399.7,220.7C396.1,218.5 389.7,217.3 385.5,215C381.2,212.6 377,209.3 374.2,206.5C371.3,203.7 371.3,199.9 368.5,198C365.7,196.1 359.1,198.7 357.2,195.2C355.3,191.6 354.3,179.3 357.2,176.7Z" fill="#fa6937" /><path d="M357.2,195.2C359.1,184.5 365.7,196.1 368.5,198C371.3,199.9 371.3,203.7 374.2,206.5C377,209.3 381.2,212.6 385.5,215C389.7,217.3 396.1,218.5 399.7,220.7C403.2,222.8 402,226.3 406.7,227.7C411.5,229.2 422.6,228.2 428,229.2C433.4,230.1 434.1,232.9 439.3,233.4C444.5,233.9 453.5,232 459.2,232C464.8,232 469.3,232.2 473.3,233.4C477.3,234.6 481.6,236.7 483.2,239.1C484.9,241.4 484.9,245.2 483.2,247.6C481.6,249.9 477.3,250.9 473.3,253.2C469.3,255.6 478.5,260.3 459.2,261.7C439.8,263.1 374.2,272.8 357.2,261.7C340.2,250.6 355.3,205.8 357.2,195.2Z" fill="#fa8c46" /><path d="M377,217.8C379.6,216.4 384.6,218.8 388.3,220.7C392.1,222.5 396.6,227.3 399.7,229.2C402.7,231 402,231 406.7,232C411.5,232.9 422.6,233.6 428,234.8C433.4,236 434.1,238.6 439.3,239.1C444.5,239.5 453.5,237.6 459.2,237.6C464.8,237.6 470,238.1 473.3,239.1C476.6,240 479,241 479,243.3C479,245.7 476.6,250.2 473.3,253.2C470,256.3 469.1,260.3 459.2,261.7C449.2,263.1 423.3,264.1 413.8,261.7C404.4,259.4 408.4,249.9 402.5,247.6C396.6,245.2 383.4,250.6 378.4,247.6C373.5,244.5 373,234.1 372.7,229.2C372.5,224.2 374.4,219.2 377,217.8Z" fill="#f5a04e"  opacity="0.8"/><path d="M357.2,234.8C359.1,230.6 365,234.1 368.5,236.2C372,238.4 372.7,245.7 378.4,247.6C384.1,249.5 396.6,245.2 402.5,247.6C408.4,249.9 421.4,259.4 413.8,261.7C406.3,264.1 366.6,266.2 357.2,261.7C347.7,257.2 355.3,239.1 357.2,234.8Z" fill="#fa6937" /><path d="M392.6,196.6C392.6,195 393.8,192.1 395.4,191.6C397.1,191.1 399,192.9 402.5,193.7C406,194.6 412.6,196.8 416.7,196.6C420.7,196.3 424.2,194.4 426.6,192.3C428.9,190.2 429.2,187.1 430.8,183.8C432.5,180.5 434.1,176 436.5,172.5C438.8,169 443.1,165.6 445,162.6C446.9,159.5 447.3,158.8 447.8,154.1C448.3,149.4 445.9,138.7 447.8,134.2C449.7,129.8 443.3,128.3 459.2,127.2C475,126 528.8,113.5 542.7,127.2C556.6,140.9 547.2,196.1 542.7,209.3C538.2,222.5 522.7,206.5 515.8,206.5C509,206.5 506.4,208.1 501.6,209.3C496.9,210.5 492.2,212.4 487.5,213.6C482.8,214.7 478,215.9 473.3,216.4C468.6,216.9 463.9,216.4 459.2,216.4C454.4,216.4 449.2,216.6 445,216.4C440.7,216.2 437.2,216.2 433.7,215C430.1,213.8 427,211.2 423.7,209.3C420.4,207.4 417.4,205.1 413.8,203.7C410.3,202.2 405.6,201.3 402.5,200.8C399.4,200.3 397.1,201.5 395.4,200.8C393.8,200.1 392.6,198.1 392.6,196.6Z" fill="#fa4623" /><path d="M357.2,127.2C367.8,120.3 410.5,126 420.9,127.2C431.3,128.3 420.7,132.6 419.5,134.2C418.3,135.9 416.7,136.8 413.8,137.1C411,137.3 405.6,135.4 402.5,135.7C399.4,135.9 397.8,136.4 395.4,138.5C393.1,140.6 390.2,145.6 388.3,148.4C386.4,151.2 386.4,153.8 384.1,155.5C381.7,157.1 376.8,157.1 374.2,158.3C371.6,159.5 369.7,161.2 368.5,162.6C367.3,164 369,165.9 367.1,166.8C365.2,167.8 358.8,174.9 357.2,168.2C355.5,161.6 346.5,134 357.2,127.2Z" fill="#f5a04e"  stroke="#7a5226" stroke-width="0.7" stroke-opacity="0.8"/><path d="M357.2,127.2C362.4,122.4 383.6,125.3 388.3,127.2C393.1,129.1 387.4,135 385.5,138.5C383.6,142 380.3,145.8 377,148.4C373.7,151 369,152.9 365.7,154.1C362.4,155.3 358.6,160 357.2,155.5C355.8,151 352,131.9 357.2,127.2Z" fill="#fbae48"  opacity="0.8" filter="url(#b1)"/><path d="M476.1,260C466,257.4 479.9,250.3 481.8,246.1C483.7,241.9 484.2,238.8 487.5,234.8C490.8,230.8 495.7,225.4 501.6,222.1C507.5,218.8 516,216.4 522.9,215C529.7,213.6 539.4,205.8 542.7,213.6C546,221.4 553.8,254 542.7,261.7C531.6,269.5 486.3,262.6 476.1,260Z" fill="#fa8c46" /></g><mask id="tL5" maskUnits="userSpaceOnUse" x="508" y="118" width="204" height="140"><rect x="517" y="127" width="186" height="122" fill="#fff" filter="url(#b2)"/></mask><g mask="url(#tL5)"><rect x="508" y="118" width="204" height="140" fill="#f57a4a"/><path d="M497.2,135.5C499.5,123.5 506.1,133.6 511.3,134.1C516.5,134.6 522.4,136.9 528.3,138.3C534.2,139.7 541.5,141.6 546.7,142.6C551.9,143.5 556.2,145.2 559.5,144C562.8,142.8 564.2,138.6 566.6,135.5C568.9,132.4 570.6,126.8 573.7,125.6C576.7,124.4 580.7,126.3 585,128.4C589.2,130.5 595.4,135.3 599.2,138.3C602.9,141.4 612.4,129.6 607.6,146.8C602.9,164.1 579.8,225.9 570.8,241.7C561.9,257.5 556.2,245.7 553.8,241.7C551.5,237.7 557.8,222.1 556.7,217.6C555.5,213.2 551.5,216.2 546.7,214.8C542,213.4 533.8,210.3 528.3,209.2C522.9,208 519.4,208.2 514.2,207.7C509,207.3 500,218.4 497.2,206.3C494.3,194.3 494.8,147.5 497.2,135.5Z" fill="#fa4623" /><path d="M497.2,207.7C500,202.3 509,208.6 514.2,209.2C519.4,209.7 522.9,210.1 528.3,211.3C533.8,212.5 542,214.5 546.7,216.2C551.5,218 555.2,217.6 556.7,221.9C558.1,226.1 565.2,238.4 555.2,241.7C545.3,245 506.8,247.4 497.2,241.7C487.5,236.1 494.3,213.2 497.2,207.7Z" fill="#fa6937" /><path d="M497.2,214.8C500,210.2 509,214 514.2,214.1C519.4,214.2 523.1,214.6 528.3,215.5C533.5,216.5 541.3,217.5 545.3,219.8C549.3,222 551,225.3 552.4,229C553.8,232.6 563,239.6 553.8,241.7C544.6,243.9 506.6,246.2 497.2,241.7C487.7,237.2 494.3,219.4 497.2,214.8Z" fill="#fa8c46" /></g><mask id="tL6" maskUnits="userSpaceOnUse" x="333" y="234" width="379" height="248"><rect x="342" y="243" width="361" height="230" fill="#fff" filter="url(#b2)"/></mask><g mask="url(#tL6)"><rect x="333" y="234" width="379" height="248" fill="#fa6937"/><path d="M361.2,274C364.3,269.2 371.9,270 377.9,269.2C383.9,268.4 391.9,269.6 397.1,269.2C402.3,268.8 404.3,265.2 409.1,266.8C413.9,268.4 419.9,276 425.9,278.8C431.8,281.6 438.6,284.3 445,283.5C451.4,282.8 457.8,276.4 464.2,274C470.6,271.6 477,270.8 483.4,269.2C489.8,267.6 496.1,266 502.5,264.4C508.9,262.8 515.3,260 521.7,259.6C528.1,259.2 534.5,262.4 540.9,262C547.3,261.6 556.1,256 560.1,257.2C564,258.4 575.2,242.4 564.8,269.2C554.5,295.9 511.3,383.4 497.7,417.7C484.2,452.1 512.1,465.7 483.4,475.3C454.6,484.8 351.6,497.6 325.2,475.3C298.8,452.9 323.6,362.6 325.2,341.1C326.8,319.5 331.6,344.3 334.8,345.9C338,347.5 341.2,351 344.4,350.6C347.6,350.2 351.2,348.3 354,343.5C356.8,338.7 360.4,329.5 361.2,321.9C362,314.3 358.8,305.9 358.8,297.9C358.8,289.9 358,278.8 361.2,274Z" fill="#fa4623" /></g><mask id="tL7" maskUnits="userSpaceOnUse" x="88" y="246" width="269" height="236"><rect x="97" y="255" width="251" height="218" fill="#fff" filter="url(#b2)"/></mask><g mask="url(#tL7)"><rect x="88" y="246" width="269" height="236" fill="#fa8c46"/><path d="M249.8,240.4C271.4,232.4 369.6,234 393.6,240.4C417.6,246.8 399.2,273.2 393.6,278.8C388,284.3 368,266.8 360.1,274C352.1,281.2 349.7,301.9 345.7,321.9C341.7,341.9 340.1,368.6 336.1,393.8C332.1,418.9 338.1,459.7 321.7,472.9C305.3,486 251.8,476.9 237.8,472.9C223.9,468.9 235,454.9 237.8,448.9C240.6,442.9 248.2,443.7 254.6,436.9C261,430.1 269,416.9 276.2,408.2C283.4,399.4 297.3,393.4 297.7,384.2C298.1,375 285,363.4 278.6,353C272.2,342.7 261.8,332.7 259.4,321.9C257,311.1 265.8,301.9 264.2,288.3C262.6,274.8 228.3,248.4 249.8,240.4Z" fill="#fa8c46" /><path d="M273.8,274C275,270.8 279.4,266.4 283.4,264.4C287.4,262.4 293,263.6 297.7,262C302.5,260.4 307.3,257.6 312.1,254.8C316.9,252 312.9,246.8 326.5,245.2C340.1,243.6 382.4,240.4 393.6,245.2C404.8,250 399.2,269.2 393.6,274C388,278.8 366,270 360.1,274C354.1,278 356.1,289.9 357.7,297.9C359.3,305.9 371.6,314.7 369.6,321.9C367.6,329.1 351.3,335.9 345.7,341.1C340.1,346.3 338.9,349 336.1,353C333.3,357 328.5,359.8 328.9,365C329.3,370.2 337.3,379 338.5,384.2C339.7,389.4 338.9,393.8 336.1,396.2C333.3,398.6 325.3,395.4 321.7,398.6C318.1,401.8 314.9,409.8 314.5,415.3C314.1,420.9 316.9,427.7 319.3,432.1C321.7,436.5 327.7,436.9 328.9,441.7C330.1,446.5 328.5,455.7 326.5,460.9C324.5,466.1 321.7,470.9 316.9,472.9C312.1,474.9 301.3,475.7 297.7,472.9C294.2,470.1 295.3,461.3 295.3,456.1C295.3,450.9 295.7,446.5 297.7,441.7C299.7,436.9 305.7,433.7 307.3,427.3C308.9,420.9 306.5,410.6 307.3,403.4C308.1,396.2 311.7,390.6 312.1,384.2C312.5,377.8 312.1,370.6 309.7,365C307.3,359.4 300.5,356.2 297.7,350.6C294.9,345.1 294.2,337.9 293,331.5C291.8,325.1 293,317.1 290.6,312.3C288.2,307.5 281.8,305.1 278.6,302.7C275.4,300.3 271.8,301.1 271.4,297.9C271,294.7 275.8,287.5 276.2,283.5C276.6,279.6 272.6,277.2 273.8,274Z" fill="#fa6937" /><path d="M393.6,269.2C389.6,239.6 375.2,269.6 369.6,271.6C364,273.6 361.6,276.8 360.1,281.2C358.5,285.5 358.5,291.5 360.1,297.9C361.6,304.3 370.4,313.5 369.6,319.5C368.8,325.5 359.3,329.5 355.3,333.9C351.3,338.3 348.9,342.3 345.7,345.9C342.5,349.4 338.5,352.2 336.1,355.4C333.7,358.6 330.5,360.2 331.3,365C332.1,369.8 338.5,379.4 340.9,384.2C343.3,389 346.5,391.4 345.7,393.8C344.9,396.2 340.1,397 336.1,398.6C332.1,400.2 324.9,400.2 321.7,403.4C318.5,406.6 316.9,413 316.9,417.7C316.9,422.5 318.5,428.1 321.7,432.1C324.9,436.1 332.1,438.1 336.1,441.7C340.1,445.3 342.5,450.5 345.7,453.7C348.9,456.9 351.3,460.5 355.3,460.9C359.3,461.3 363.2,458.1 369.6,456.1C376,454.1 389.6,480.1 393.6,448.9C397.6,417.7 397.6,298.7 393.6,269.2Z" fill="#fa4623" /><path d="M221.1,242.8C227.5,241.6 252.2,239.6 259.4,242.8C266.6,246 262.6,256.4 264.2,262C265.8,267.6 269,272 269,276.4C269,280.8 266.6,284.7 264.2,288.3C261.8,291.9 256.6,294.3 254.6,297.9C252.6,301.5 251.4,305.9 252.2,309.9C253,313.9 256.2,319.1 259.4,321.9C262.6,324.7 269,323.5 271.4,326.7C273.8,329.9 272.6,336.7 273.8,341.1C275,345.5 277,349 278.6,353C280.2,357 283.4,361 283.4,365C283.4,369 277.8,373.4 278.6,377C279.4,380.6 285,385.4 288.2,386.6C291.4,387.8 294.5,385.4 297.7,384.2C300.9,383 306.1,379 307.3,379.4C308.5,379.8 307.3,385 304.9,386.6C302.5,388.2 295.3,386.2 293,389C290.6,391.8 291.8,399.4 290.6,403.4C289.4,407.4 288.2,412.2 285.8,413C283.4,413.8 279,407.4 276.2,408.2C273.4,409 271,413.8 269,417.7C267,421.7 266.6,428.9 264.2,432.1C261.8,435.3 258.2,435.7 254.6,436.9C251,438.1 245.4,437.3 242.6,439.3C239.8,441.3 237.4,445.3 237.8,448.9C238.2,452.5 243,456.5 245,460.9C247,465.3 266.6,472.9 249.8,475.3C233,477.7 149.2,512.8 144.4,475.3C139.6,437.7 208.3,288.7 221.1,250C233.8,211.3 214.7,244 221.1,242.8Z" fill="#f5a04e"  stroke="#7a5226" stroke-width="0.7" stroke-opacity="0.8"/><path d="M227.8,245.2C235.8,233.6 252.3,240.4 257,245.2C261.7,250 257,265.2 255.8,274C254.6,282.8 252.8,289.9 249.8,297.9C246.8,305.9 240.6,313.1 237.8,321.9C235,330.7 235,345.1 233,350.6C231,356.2 231,355.4 225.9,355.4C220.7,355.4 207.9,349.4 201.9,350.6C195.9,351.8 188.7,368.6 189.9,362.6C191.1,356.6 202.8,334.3 209.1,314.7C215.4,295.1 219.8,256.8 227.8,245.2Z" fill="#f4915a"  opacity="0.9"/></g><mask id="tL8" maskUnits="userSpaceOnUse" x="88" y="453" width="254" height="259"><rect x="97" y="462" width="236" height="241" fill="#fff" filter="url(#b2)"/></mask><g mask="url(#tL8)"><rect x="88" y="453" width="254" height="259" fill="#fa8c46"/><path d="M147.9,445.2C189.5,428.4 327.7,406.9 363.6,445.2C399.5,483.5 405.1,636.9 363.6,675.3C322.1,713.6 155.9,696.8 114.4,675.3C72.8,653.7 108.8,584.2 114.4,545.9C120,507.5 106.4,462 147.9,445.2Z" fill="#fa8c46" /><path d="M207.8,545.9C212.6,543.1 214.6,535.1 219.8,531.5C225,527.9 233,525.1 239,524.3C245,523.5 251,524.7 255.8,526.7C260.6,528.7 264.9,532.3 267.7,536.3C270.5,540.3 270.1,546.3 272.5,550.6C274.9,555 278.9,559.4 282.1,562.6C285.3,565.8 282.1,566.2 291.7,569.8C301.3,573.4 327.7,578.6 339.6,584.2C351.6,589.8 359.6,588.2 363.6,603.4C367.6,618.5 391.6,663.3 363.6,675.3C335.6,687.2 227.8,688.8 195.9,675.3C163.9,661.7 172.7,614.9 171.9,593.8C171.1,572.6 185.1,556.2 191.1,548.3C197.1,540.3 203,548.7 207.8,545.9Z" fill="#fa6937" /><path d="M325.3,445.2C334,442.4 357.2,426.8 363.6,445.2C370,463.6 366,537.5 363.6,555.4C361.2,573.4 353.2,555.4 349.2,553C345.2,550.6 342,546.3 339.6,541.1C337.2,535.9 334.8,529.1 334.8,521.9C334.8,514.7 340.4,503.9 339.6,497.9C338.8,491.9 333.2,489.9 330.1,485.9C326.9,482 323.7,478 320.5,474C317.3,470 310.1,466.8 310.9,462C311.7,457.2 316.5,448 325.3,445.2Z" fill="#fa4623" /><path d="M251,574.6C254.2,569 262.6,567 267.7,565C272.9,563 278.1,561.8 282.1,562.6C286.1,563.4 288.1,567 291.7,569.8C295.3,572.6 299.7,576.2 303.7,579.4C307.7,582.6 311.3,585.8 315.7,589C320.1,592.2 325.3,594.2 330.1,598.6C334.8,603 341.2,609 344.4,615.3C347.6,621.7 346,632.5 349.2,636.9C352.4,641.3 361.2,635.3 363.6,641.7C366,648.1 385.2,669.7 363.6,675.3C342,680.8 255,685.2 234.2,675.3C213.4,665.3 236.6,628.1 239,615.3C241.4,602.6 246.6,605.4 248.6,598.6C250.6,591.8 247.8,580.2 251,574.6Z" fill="#fa4623" /><path d="M159.9,445.2C172.3,442 220.2,442 234.2,445.2C248.2,448.4 240.2,459.2 243.8,464.4C247.4,469.6 251,472.4 255.8,476.4C260.6,480.4 266.9,484.7 272.5,488.3C278.1,491.9 284.5,494.7 289.3,497.9C294.1,501.1 296.9,504.7 301.3,507.5C305.7,510.3 311.7,511.1 315.7,514.7C319.7,518.3 322.9,523.9 325.3,529.1C327.7,534.3 327.7,541.1 330.1,545.9C332.4,550.6 334,553.8 339.6,557.8C345.2,561.8 359.6,563.4 363.6,569.8C367.6,576.2 367.6,593.8 363.6,596.2C359.6,598.6 345.2,587.8 339.6,584.2C334,580.6 334,578.2 330.1,574.6C326.1,571 320.1,565.8 315.7,562.6C311.3,559.4 307.7,557.8 303.7,555.4C299.7,553 296.1,550.2 291.7,548.3C287.3,546.3 281.3,545.5 277.3,543.5C273.3,541.5 270.9,539.9 267.7,536.3C264.5,532.7 262.2,525.1 258.2,521.9C254.2,518.7 248.6,518.7 243.8,517.1C239,515.5 233.8,514.3 229.4,512.3C225,510.3 219.8,508.3 217.4,505.1C215,501.9 217,497.1 215,493.1C213,489.1 209.4,482.4 205.4,481.2C201.4,480 196.7,486.7 191.1,485.9C185.5,485.1 177.1,480 171.9,476.4C166.7,472.8 161.9,469.6 159.9,464.4C157.9,459.2 147.5,448.4 159.9,445.2Z" fill="#fbae48"  stroke="#7a5226" stroke-width="0.7" stroke-opacity="0.8"/><path d="M159.9,445.2C163.1,443.2 175.5,442.8 181.5,445.2C187.5,447.6 191.9,455.6 195.9,459.6C199.8,463.6 204.6,466.4 205.4,469.2C206.2,472 203,474.8 200.6,476.4C198.3,478 194.3,479.6 191.1,478.8C187.9,478 184.7,474 181.5,471.6C178.3,469.2 175.1,466.8 171.9,464.4C168.7,462 164.3,460.4 162.3,457.2C160.3,454 156.7,447.2 159.9,445.2Z" fill="#f7e62a" /><path d="M334.8,569.8C336,567.4 341.2,565 344.4,565C347.6,565 350.8,567.4 354,569.8C357.2,572.2 362,575.8 363.6,579.4C365.2,583 366.8,590.6 363.6,591.4C360.4,592.2 348.8,586.2 344.4,584.2C340,582.2 338.8,581.8 337.2,579.4C335.6,577 333.6,572.2 334.8,569.8Z" fill="#f7e62a" /><path d="M349.2,474C351.2,470.4 361.2,459.6 363.6,462C366,464.4 365.6,484.7 363.6,488.3C361.6,491.9 354,485.9 351.6,483.5C349.2,481.2 347.2,477.6 349.2,474Z" fill="#c96728"  stroke="#7a5226" stroke-width="0.7" stroke-opacity="0.8"/></g><mask id="tL9" maskUnits="userSpaceOnUse" x="318" y="458" width="394" height="254"><rect x="327" y="467" width="376" height="236" fill="#fff" filter="url(#b2)"/></mask><g mask="url(#tL9)"><rect x="318" y="458" width="394" height="254" fill="#fa4623"/><path d="M324,445.2C350.3,442 463.8,432.4 491.7,445.2C519.7,458 501.3,493.1 491.7,521.9C482.1,550.6 450.2,605 434.2,617.7C418.2,630.5 410.2,608.6 395.9,598.6C381.5,588.6 359.1,571 347.9,557.8C336.7,544.7 330,527.1 328.8,519.5C327.6,511.9 338.3,515.9 340.7,512.3C343.1,508.7 343.9,503.1 343.1,497.9C342.3,492.7 337.5,486.7 335.9,481.2C334.3,475.6 335.5,470.4 333.5,464.4C331.6,458.4 297.6,448.4 324,445.2Z" fill="#fa4623" /><path d="M295.2,445.2C300,432.4 317.6,442 324,445.2C330.4,448.4 331.6,458.4 333.5,464.4C335.5,470.4 334.3,475.6 335.9,481.2C337.5,486.7 342.3,492.7 343.1,497.9C343.9,503.1 343.1,508.7 340.7,512.3C338.3,515.9 333.1,518.7 328.8,519.5C324.4,520.3 320,516.7 314.4,517.1C308.8,517.5 298.4,533.9 295.2,521.9C292,509.9 290.4,458 295.2,445.2Z" fill="#fa8c46" /><path d="M362.3,629.7C365.5,626.5 372.7,621.3 376.7,622.5C380.7,623.7 382.3,632.5 386.3,636.9C390.3,641.3 397.5,642.5 400.6,648.9C403.8,655.3 410.2,670.9 405.4,675.3C400.6,679.7 380.7,677.7 371.9,675.3C363.1,672.9 355.1,666.5 352.7,660.9C350.3,655.3 355.9,646.9 357.5,641.7C359.1,636.5 359.1,632.9 362.3,629.7Z" fill="#fa8c46" /><path d="M379.1,639.3C381.1,633.7 387.5,639.7 391.1,641.7C394.7,643.7 398.3,645.7 400.6,651.3C403,656.9 409,671.3 405.4,675.3C401.8,679.3 383.5,681.2 379.1,675.3C374.7,669.3 377.1,644.9 379.1,639.3Z" fill="#fbae48"  filter="url(#b1)"/><path d="M328.8,639.3C332,632.9 342.3,635.7 347.9,636.9C353.5,638.1 358.3,641.7 362.3,646.5C366.3,651.3 371.1,660.9 371.9,665.7C372.7,670.5 374.3,673.7 367.1,675.3C359.9,676.9 335.1,681.2 328.8,675.3C322.4,669.3 325.6,645.7 328.8,639.3Z" fill="#fa4623" /><path d="M295.2,509.9C298.4,502.3 308.8,514.7 314.4,519.5C320,524.3 324,532.7 328.8,538.7C333.5,544.7 338.3,551 343.1,555.4C347.9,559.8 352.7,561.4 357.5,565C362.3,568.6 367.1,573.4 371.9,577C376.7,580.6 382.3,583.4 386.3,586.6C390.3,589.8 392.3,593.4 395.9,596.2C399.4,599 403,601.4 407.8,603.4C412.6,605.4 421.8,605.8 424.6,608.2C427.4,610.6 426.6,612.2 424.6,617.7C422.6,623.3 415.8,632.9 412.6,641.7C409.4,650.5 408.2,669.3 405.4,670.5C402.6,671.7 399.4,653.7 395.9,648.9C392.3,644.1 386.7,645.3 383.9,641.7C381.1,638.1 381.9,631.3 379.1,627.3C376.3,623.3 370.3,621.7 367.1,617.7C363.9,613.8 363.1,607.8 359.9,603.4C356.7,599 352.3,595.4 347.9,591.4C343.5,587.4 338.3,583 333.5,579.4C328.8,575.8 325.6,572.2 319.2,569.8C312.8,567.4 299.2,575 295.2,565C291.2,555 292,517.5 295.2,509.9Z" fill="#fbae48"  stroke="#7a5226" stroke-width="0.7" stroke-opacity="0.8"/><path d="M295.2,519.5C297.6,516.3 306.4,517.9 309.6,519.5C312.8,521.1 314,525.9 314.4,529.1C314.8,532.3 314,536.7 312,538.7C310,540.7 305.2,541.1 302.4,541.1C299.6,541.1 296.4,542.3 295.2,538.7C294,535.1 292.8,522.7 295.2,519.5Z" fill="#f7e62a" /></g><path d="M302.5,89.4C308.2,83.7 332.2,64.1 339.3,59.7C346.4,55.2 345.5,60.6 345,62.5C344.5,64.4 339.3,67.9 336.5,71C333.7,74.1 331.3,78.1 328,80.9C324.7,83.7 320.4,85.9 316.7,88C312.9,90.1 307.7,93.4 305.3,93.7C303,93.9 296.8,95.1 302.5,89.4Z" fill="#f7673a" /><path d="M262.8,150C260.1,147.2 266.4,138 268.5,133.3C270.6,128.6 273,122 275.6,122C278.2,122 282.5,128.6 284.1,133.3C285.6,138 288.3,147.2 284.8,150C281.2,152.8 265.5,152.8 262.8,150Z" fill="#f2603e" /><path d="M343.6,72.4C342.9,70.3 344.7,67.3 346.4,65.3C348.1,63.3 350.4,61.4 353.5,60.4C356.6,59.3 361.7,60.3 364.8,59C367.9,57.7 369.8,55.3 371.9,52.6C374,49.9 375.7,45.5 377.6,42.7C379.5,39.8 381.6,37.5 383.2,35.6C384.9,33.7 385.4,31.8 387.5,31.3C389.6,30.9 393.4,31.8 396,32.7C398.6,33.7 401.6,34.9 403.1,37C404.5,39.1 404.7,42.9 404.5,45.5C404.2,48.1 403.1,52.1 401.6,52.6C400.2,53.1 397.6,49 396,48.3C394.3,47.6 392.9,47.1 391.7,48.3C390.5,49.5 389.6,52.3 388.9,55.4C388.2,58.5 388.9,64 387.5,66.7C386.1,69.5 383.7,70.6 380.4,71.7C377.1,72.8 371.4,72.4 367.6,73.1C363.9,73.8 360.6,75.1 357.7,75.9C354.9,76.8 353,78.7 350.7,78.1C348.3,77.5 344.3,74.5 343.6,72.4Z" fill="#f0a052"  stroke="#7a5226" stroke-width="0.7" stroke-opacity="0.8"/><path d="M335.1,99.3C335.5,97.1 337,94 338.6,92.9C340.3,91.9 343.2,91.9 345,92.9C346.8,94 349,96.8 349.2,99.3C349.5,101.8 347.6,105.2 346.4,107.8C345.2,110.4 342.9,112.7 342.2,114.9C341.4,117.1 342.7,119.7 342.2,121.3C341.6,122.8 339.7,124.2 338.6,124.1C337.5,124 335.9,122.3 335.8,120.6C335.7,118.8 337.9,115.8 337.9,113.5C337.9,111.1 336.3,108.8 335.8,106.4C335.3,104 334.6,101.6 335.1,99.3Z" fill="#f0a052"  stroke="#7a5226" stroke-width="0.7" stroke-opacity="0.8"/><path d="M403.8,102.2C404.2,100.5 406,99.1 407.3,99.3C408.6,99.6 410.7,101.7 411.6,103.6C412.4,105.5 412.9,108.9 412.3,110.7C411.7,112.4 409.3,114.4 408,114.2C406.7,114 405.2,111.2 404.5,109.2C403.8,107.2 403.3,103.8 403.8,102.2Z" fill="#f0a052"  stroke="#7a5226" stroke-width="0.7" stroke-opacity="0.8"/><path d="M415.8,111.4C416.3,110.9 419.1,111.5 420.1,112.1C421,112.7 421.9,114.4 421.5,114.9C421,115.4 418.2,115.5 417.2,114.9C416.3,114.3 415.3,111.8 415.8,111.4Z" fill="#f0a052"  stroke="#7a5226" stroke-width="0.7" stroke-opacity="0.8"/><ellipse cx="393.1" cy="88.7" rx="8.498583569405099" ry="9.206798866855525" fill="#f2603c" /><ellipse cx="357" cy="124.8" rx="9.91501416430595" ry="5.6657223796034" fill="#f2603c" /><ellipse cx="383.9" cy="107.8" rx="4.957507082152975" ry="3.5410764872521248" fill="#f2603c" /><ellipse cx="361.3" cy="44.1" rx="3.5410764872521248" ry="4.957507082152975" fill="#f2603c" /><ellipse cx="419.3" cy="63.2" rx="3.5410764872521248" ry="4.957507082152975" fill="#f2603c" /><ellipse cx="413.7" cy="145.4" rx="9.91501416430595" ry="5.6657223796034" fill="#f2603c" /><path d="M415.8,61.1 L430,62.5 L428.6,76.7 L415.1,74.5Z" fill="#f8965a" /><ellipse cx="408.4" cy="64.2" rx="3.2" ry="3.2" fill="#f6b9a0" /><path d="M445.7,112.1C446.8,107.3 451.8,95.1 454.2,90.8C456.5,86.6 458.3,86.1 459.8,86.6C461.4,87 464.3,88.5 463.4,93.7C462.4,98.8 456.9,113.5 454.2,117.7C451.4,122 448.5,120.1 447.1,119.2C445.7,118.2 444.5,116.8 445.7,112.1Z" fill="#f05c50"  opacity="0.8"/><path d="M488.2,88C489.3,82.8 491.9,82.9 493.8,80.9C495.7,78.9 496.2,75.9 499.5,75.9C502.8,75.9 508.5,79.6 513.7,80.9C518.8,82.2 524.5,82.1 530.7,83.7C536.8,85.4 544.3,88 550.5,90.8C556.6,93.7 564.5,96 567.5,100.7C570.4,105.5 569.4,114.5 568.2,119.2C567,123.8 567.6,126.1 560.4,128.4C553.2,130.6 535.6,132.6 525,132.6C514.4,132.6 503,131.8 496.7,128.4C490.3,124.9 488.2,118.8 486.7,112.1C485.3,105.3 487,93.2 488.2,88Z" fill="#f5914a"  filter="url(#b1)"/><path d="M493.8,82.3C494.3,79 496.7,76.7 499.5,76.7C502.3,76.7 506.6,81.1 510.8,82.3C515.1,83.5 518.8,82.1 525,83.7C531.1,85.4 541,89.6 547.6,92.2C554.3,94.8 562,96.7 564.6,99.3C567.2,101.9 564.4,105.2 563.2,107.8C562,110.4 559.7,113 557.6,114.9C555.4,116.8 553.6,118.3 550.5,119.2C547.4,120 543.4,119.5 539.2,119.9C534.9,120.2 528.8,121.6 525,121.3C521.2,120.9 519.6,118.3 516.5,117.7C513.4,117.1 508.7,118.7 506.6,117.7C504.4,116.8 503,113.5 503.7,112.1C504.4,110.7 511.1,110.7 510.8,109.2C510.6,107.8 504.7,105.7 502.3,103.6C500,101.4 498.1,100 496.7,96.5C495.2,92.9 493.4,85.6 493.8,82.3Z" fill="#f6a54c"  filter="url(#b05)"/><path d="M499.5,76.7C499.4,78.3 498.5,82.8 498.8,86.6C499,90.3 499.6,96 500.9,99.3C502.2,102.6 504.9,104.7 506.6,106.4C508.2,108.1 511.1,108.3 510.8,109.2C510.6,110.2 506,110.8 505.2,112.1C504.3,113.4 504.4,116.3 505.9,117C507.3,117.7 510.9,115.8 513.7,116.3C516.4,116.8 517.9,119.4 522.2,119.9C526.4,120.3 534,119.7 539.2,119.2C544.3,118.6 549.5,118.2 553.3,116.3C557.1,114.4 559.8,110.4 561.8,107.8C563.8,105.2 564.8,101.9 565.4,100.7" fill="none" stroke="#6b3a1c" stroke-width="0.7" stroke-opacity="0.7" stroke-linejoin="round"/><path d="M511.5,95.1C511.8,93.2 511.6,92.2 513.7,90.8C515.7,89.4 519.8,86.8 523.6,86.6C527.3,86.3 532.5,88.2 536.3,89.4C540.1,90.6 544.3,91.8 546.2,93.7C548.1,95.5 548.1,98.6 547.6,100.7C547.2,102.9 546.2,105.3 543.4,106.4C540.6,107.5 534.7,107.6 530.7,107.1C526.6,106.6 522.4,104.4 519.3,103.6C516.3,102.7 513.5,103.6 512.2,102.2C510.9,100.7 511.3,97 511.5,95.1Z" fill="#f2b840"  stroke="#7a5226" stroke-width="0.7" stroke-opacity="0.8"/><path d="M265.9,140C275.8,123.9 287.9,138.6 292.1,140C296.2,141.4 290.7,145.4 290.7,148.5C290.7,151.6 292.5,155.3 292.1,158.4C291.6,161.5 290.4,164.3 287.8,166.9C285.2,169.5 279.6,171.6 276.5,174C273.4,176.4 269.4,178.5 269.4,181.1C269.4,183.7 272,187 276.5,189.6C281,192.2 291.6,195 296.3,196.7C301,198.3 303.6,196.4 304.8,199.5C306,202.6 307.6,212.2 303.4,215.1C299.2,217.9 284.3,212.5 279.3,216.5C274.4,220.5 279.1,235.4 273.7,239.2C268.2,242.9 253.6,239.6 246.7,239.2C239.9,238.7 229.4,252.8 232.6,236.3C235.8,219.8 255.9,156.1 265.9,140Z" fill="#f08468"  opacity="0.9"/><path d="M317.6,177.1C318.7,176.8 319.5,176.4 324.6,175.4C329.8,174.5 341.9,172.8 348.7,171.4C355.6,170.1 362.5,168.9 365.7,167.2C368.9,165.5 365.5,162.9 367.8,161.2C370.2,159.6 378,157.9 380,157.3" fill="none" stroke="#6b3a1c" stroke-width="0.7" stroke-opacity="0.7" stroke-linejoin="round"/><path d="M327.5,244.8C328,242.9 330.8,240.3 333.1,239.2C335.5,238 339.5,238.7 341.6,237.7C343.8,236.8 344.9,233.2 345.9,233.5C346.8,233.7 347.8,236.8 347.3,239.2C346.8,241.5 344.9,245.5 343.1,247.6C341.2,249.8 338.1,251.4 336,251.9C333.9,252.4 331.7,251.7 330.3,250.5C328.9,249.3 327,246.7 327.5,244.8Z" fill="#f4432a" /><path d="M262.3,157C262.1,154.2 263.3,150.6 265.2,148.5C267,146.4 270.8,144.2 273.7,144.2C276.5,144.2 280.5,146.4 282.2,148.5C283.8,150.6 284.5,154.4 283.6,157C282.6,159.6 279.3,162.7 276.5,164.1C273.7,165.5 268.9,166.7 266.6,165.5C264.2,164.3 262.6,159.8 262.3,157Z" fill="#f2603c" /><ellipse cx="267.3" cy="199.5" rx="4" ry="3.6" fill="#f0a052"  stroke="#7a5226" stroke-width="0.7" stroke-opacity="0.8"/><ellipse cx="258.8" cy="245.5" rx="4.4" ry="3.6" fill="#f0a052"  stroke="#7a5226" stroke-width="0.7" stroke-opacity="0.8"/><ellipse cx="281.4" cy="249.1" rx="5.8" ry="5.4" fill="#f2b840"  stroke="#7a5226" stroke-width="0.7" stroke-opacity="0.8"/><path d="M295.3,149.9 L318.3,149.9" fill="none" stroke="#f7c9a2" stroke-width="2.6" opacity="0.55" stroke-linejoin="round"/><path d="M295.3,157.7 L318.3,157.7" fill="none" stroke="#f7c9a2" stroke-width="2.6" opacity="0.55" stroke-linejoin="round"/><path d="M295.3,165.5 L318.3,165.5" fill="none" stroke="#f7c9a2" stroke-width="2.6" opacity="0.55" stroke-linejoin="round"/><path d="M295.3,173.3 L318.3,173.3" fill="none" stroke="#f7c9a2" stroke-width="2.6" opacity="0.55" stroke-linejoin="round"/><path d="M295.3,181.1 L318.3,181.1" fill="none" stroke="#f7c9a2" stroke-width="2.6" opacity="0.55" stroke-linejoin="round"/><path d="M295.3,188.9 L318.3,188.9" fill="none" stroke="#f7c9a2" stroke-width="2.6" opacity="0.55" stroke-linejoin="round"/><path d="M252.4,210.8 L274.4,210.8" fill="none" stroke="#f9c0a8" stroke-width="2.6" opacity="0.5" stroke-linejoin="round"/><path d="M252.4,219.3 L274.4,219.3" fill="none" stroke="#f9c0a8" stroke-width="2.6" opacity="0.5" stroke-linejoin="round"/><path d="M252.4,227.8 L274.4,227.8" fill="none" stroke="#f9c0a8" stroke-width="2.6" opacity="0.5" stroke-linejoin="round"/><path d="M252.4,236.3 L274.4,236.3" fill="none" stroke="#f9c0a8" stroke-width="2.6" opacity="0.5" stroke-linejoin="round"/><path d="M432.9,203.7C432,202.4 432.9,199.9 433.7,198C434.4,196.1 436.4,194.7 437.2,192.3C438,190 438.3,186.4 438.6,183.8C439,181.2 438.3,178.6 439.3,176.7C440.4,174.9 442.6,173.4 445,172.5C447.3,171.5 450.2,171.3 453.5,171.1C456.8,170.8 461.5,172 464.8,171.1C468.1,170.1 471.2,167.5 473.3,165.4C475.4,163.3 476.4,160.2 477.6,158.3C478.7,156.4 478.7,154.8 480.4,154.1C482,153.4 485.1,154.8 487.5,154.1C489.8,153.4 492.4,151.1 494.6,149.8C496.7,148.5 497.6,146.5 500.2,146.3C502.8,146.1 506.8,147.5 510.1,148.4C513.4,149.3 516.8,150.8 520.1,151.5C523.4,152.3 526.7,152.9 530,153.1C533.2,153.3 535.9,152.4 539.6,152.5C543.3,152.7 551.2,152.5 552.4,153.9C553.5,155.4 548.3,158.4 546.7,161C545,163.6 542.9,166.9 542.4,169.5C542,172.1 542.2,174.9 543.9,176.6C545.5,178.3 550.7,178.3 552.4,179.4C554,180.6 554.7,182 553.8,183.7C552.8,185.3 548.6,187.7 546.7,189.3C544.8,191 545.2,192.5 542.4,193.6C539.7,194.7 533.9,195.7 530,196.1C526,196.6 521.9,197.2 518.6,196.6C515.3,195.9 513,193.1 510.1,192.3C507.3,191.5 504.5,191.4 501.6,191.6C498.8,191.9 495.5,192.9 493.1,193.7C490.8,194.6 489.4,195.4 487.5,196.6C485.6,197.8 484.2,199.4 481.8,200.8C479.5,202.2 476.1,204.6 473.3,205.1C470.5,205.5 467.6,203.7 464.8,203.7C462,203.7 459.2,205.1 456.3,205.1C453.5,205.1 450.7,203.5 447.8,203.7C445,203.8 441.8,205.8 439.3,205.8C436.8,205.8 433.9,205 432.9,203.7Z" fill="#c96728"  stroke="#7a5226" stroke-width="0.7" stroke-opacity="0.8"/><ellipse cx="520.1" cy="177.5" rx="4" ry="6" fill="#e84a28" transform="rotate(10 520.056657223796 177.45042492917847)" /><ellipse cx="533.5" cy="179.6" rx="4" ry="5.6" fill="#e84a28" transform="rotate(5 533.5127478753541 179.57507082152975)" /><path d="M486.3,245C484.4,242.5 483.5,240.3 484.6,237.6C485.8,235 489.8,231.3 493.1,229.2C496.4,227 500.7,226.3 504.5,224.9C508.3,223.5 511.8,221.6 515.8,220.7C519.8,219.7 523.8,218.9 528.3,219.1C532.7,219.3 538.9,220 542.4,221.9C546,223.8 548,228.3 549.5,230.4C551,232.6 552,232.5 551.5,235C551,237.4 549.9,242.5 546.5,245C543.2,247.5 537.4,248.3 531.5,250C525.7,251.6 517.3,254.5 511.4,254.9C505.6,255.4 500.6,254.2 496.4,252.5C492.2,250.9 488.3,247.5 486.3,245Z" fill="#fbae48"  stroke="#7a5226" stroke-width="0.7" stroke-opacity="0.8"/><path d="M494.6,243.3C494.6,240.7 498.1,235.8 501.6,233.4C505.2,231 509.9,230.1 515.8,229.2C521.7,228.2 532.1,226.8 537.1,227.7C542,228.7 544.8,232 545.6,234.8C546.3,237.6 546.3,242.6 541.3,244.7C536.3,246.9 522.4,246.9 515.8,247.6C509.2,248.3 505.2,249.7 501.6,249C498.1,248.3 494.6,245.9 494.6,243.3Z" fill="#f5c040"  opacity="0.8" filter="url(#b1)"/><ellipse cx="452.8" cy="254.9" rx="6" ry="5" fill="#f0a052"  stroke="#7a5226" stroke-width="0.7" stroke-opacity="0.8"/><ellipse cx="365" cy="220.7" rx="1.8" ry="1.8" fill="#fa8c46"  stroke="#7a5226" stroke-width="0.7" stroke-opacity="0.8"/><ellipse cx="384.1" cy="245.4" rx="2.5" ry="2.5" fill="#fa8c46"  stroke="#7a5226" stroke-width="0.7" stroke-opacity="0.8"/><path d="M542.5,118.5C547.2,117.1 561.4,122.3 570.8,121.3C580.3,120.4 591.4,112.8 599.2,112.8C606.9,112.8 616.1,115.9 617.6,121.3C619,126.8 613.1,142.6 607.6,145.4C602.2,148.2 592.3,141.2 585,138.3C577.7,135.5 570.8,129.8 563.7,128.4C556.7,127 546,131.5 542.5,129.8C539,128.2 537.8,119.9 542.5,118.5Z" fill="#fa6937"  filter="url(#b1)"/><path d="M562.3,127 L585,128.4 L583.6,156.7 L575.1,158.2 L573.7,152.5 L568,151.1 L560.9,153.9Z" fill="#ee4a3e"  opacity="0.85"/><path d="M585,156.7C588.3,154.9 601,145.6 599.2,158.2C597.3,170.7 580.7,219.5 573.7,231.8C566.6,244.1 558.8,237 556.7,231.8C554.5,226.6 558.1,207.7 560.9,200.7C563.7,193.6 570.6,194.5 573.7,189.3C576.7,184.1 577.4,174.9 579.3,169.5C581.2,164.1 581.7,158.6 585,156.7Z" fill="#f0503c"  opacity="0.7" filter="url(#b1)"/><path d="M549.6,193.6C550.6,192.2 553.6,190.4 556.7,189.3C559.7,188.3 565.6,186.5 568,187.2C570.3,187.9 570.8,191.3 570.8,193.6C570.8,195.8 570.3,199.5 568,200.7C565.6,201.8 559.6,201.1 556.7,200.7C553.7,200.2 551.5,199 550.3,197.8C549.1,196.6 548.5,195 549.6,193.6Z" fill="#c96728"  stroke="#7a5226" stroke-width="0.7" stroke-opacity="0.8"/><ellipse cx="520.5" cy="177.7" rx="4" ry="6" fill="#e84a28" transform="rotate(10 520.5382436260624 177.7053824362606)" stroke="#c03a20" stroke-width="0.6"/><ellipse cx="533.7" cy="180.1" rx="4" ry="5.4" fill="#e84a28" transform="rotate(5 533.7110481586402 180.11331444759207)" stroke="#c03a20" stroke-width="0.6"/><path d="M558.9,267.3C566,238.5 547.1,269.1 540.9,269.2C534.7,269.3 528.1,266.8 521.7,268C515.3,269.2 508.9,274.2 502.5,276.4C496.1,278.6 489.8,278.8 483.4,281.2C477,283.5 469.8,287.9 464.2,290.7C458.6,293.5 454.6,295.5 449.8,297.9C445,300.3 439.8,302.7 435.4,305.1C431,307.5 427.9,309.5 423.5,312.3C419.1,315.1 413.1,319.1 409.1,321.9C405.1,324.7 402.3,327.5 399.5,329.1C396.7,330.7 394.3,332.3 392.3,331.5C390.3,330.7 390.3,325.5 387.5,324.3C384.7,323.1 379.1,322.7 375.5,324.3C371.9,325.9 369.5,330.7 365.9,333.9C362.4,337.1 357.6,340.7 354,343.5C350.4,346.3 346,347.5 344.4,350.6C342.8,353.8 343.6,357.8 344.4,362.6C345.2,367.4 347.2,374.2 349.2,379.4C351.2,384.6 353.6,389 356.4,393.8C359.2,398.6 362.4,403.4 365.9,408.2C369.5,413 374.7,417.7 377.9,422.5C381.1,427.3 383.1,432.1 385.1,436.9C387.1,441.7 387.9,447.3 389.9,451.3C391.9,455.3 393.9,458.5 397.1,460.9C400.3,463.3 404.3,464.7 409.1,465.7C413.9,466.7 419.9,467.3 425.9,466.9C431.8,466.5 439,464.3 445,463.3C451,462.3 457,461.7 461.8,460.9C466.6,460.1 469.8,458.5 473.8,458.5C477.8,458.5 481.8,463.7 485.8,460.9C489.8,458.1 485.6,474 497.7,441.7C509.9,409.4 551.7,296 558.9,267.3Z" fill="#c96728"  stroke="#7a5226" stroke-width="0.7" stroke-opacity="0.8"/><path d="M361.2,355.4C362.4,351.8 364.7,350.2 368.3,348.3C371.9,346.3 378.7,343.9 382.7,343.5C386.7,343.1 389.5,343.9 392.3,345.9C395.1,347.9 397.5,351.4 399.5,355.4C401.5,359.4 403.1,365 404.3,369.8C405.5,374.6 405.1,381 406.7,384.2C408.3,387.4 411.5,389 413.9,389C416.3,389 418.3,387.4 421.1,384.2C423.9,381 427.5,374.6 430.6,369.8C433.8,365 437.8,359 440.2,355.4C442.6,351.8 445.8,350.2 445,348.3C444.2,346.3 438.6,343.9 435.4,343.5C432.2,343.1 428.7,346.7 425.9,345.9C423.1,345.1 421.1,339.3 418.7,338.7C416.3,338.1 413.1,342.7 411.5,342.3C409.9,341.9 408.3,338.5 409.1,336.3C409.9,334.1 412.7,332.3 416.3,329.1C419.9,325.9 425.9,320.3 430.6,317.1C435.4,313.9 440.2,311.9 445,309.9C449.8,307.9 454.6,308.3 459.4,305.1C464.2,301.9 468.2,294.7 473.8,290.7C479.4,286.7 486.6,283.5 493,281.2C499.3,278.8 506.1,277.6 512.1,276.4C518.1,275.2 524.5,274.2 528.9,274C533.3,273.8 537.7,273.2 538.5,275.2C539.3,277.2 540.5,269.8 533.7,285.9C526.9,302.1 504.1,357 497.7,372.2C491.4,387.4 496.9,369.4 495.3,377C493.8,384.6 490.2,407.4 488.2,417.7C486.2,428.1 487.4,435.7 483.4,439.3C479.4,442.9 469,440.1 464.2,439.3C459.4,438.5 457.8,434.5 454.6,434.5C451.4,434.5 448.2,437.3 445,439.3C441.8,441.3 438.6,444.9 435.4,446.5C432.2,448.1 428.3,450.1 425.9,448.9C423.5,447.7 423.5,443.7 421.1,439.3C418.7,434.9 414.7,426.9 411.5,422.5C408.3,418.1 405.5,415.7 401.9,413C398.3,410.2 393.5,408.2 389.9,405.8C386.3,403.4 383.5,402.2 380.3,398.6C377.1,395 373.9,389 370.7,384.2C367.5,379.4 362.8,374.6 361.2,369.8C359.6,365 360,359 361.2,355.4Z" fill="#b44623" /><path d="M473.8,372.2 L497.7,369.8 L495.3,384.2 L485.8,434.5 L457,436.9 L454.6,429.7 L464.2,403.4Z" fill="#af2328" /><path d="M536.1,276.4 L554.1,274 L513.3,365 L497.7,369.8Z" fill="#b83c3c" /><path d="M497.7,369.8 L513.3,365 L489.4,441.7 L479.8,439.3Z" fill="#bc3530" /><path d="M538,280.7 L549,284.7" fill="none" stroke="#d67a70" stroke-width="2.4" opacity="0.55" stroke-linejoin="round"/><path d="M534.3,289.3 L545.3,293.3" fill="none" stroke="#d67a70" stroke-width="2.4" opacity="0.55" stroke-linejoin="round"/><path d="M530.6,297.9 L541.6,301.9" fill="none" stroke="#d67a70" stroke-width="2.4" opacity="0.55" stroke-linejoin="round"/><path d="M526.9,306.6 L537.9,310.6" fill="none" stroke="#d67a70" stroke-width="2.4" opacity="0.55" stroke-linejoin="round"/><path d="M523.1,315.2 L534.1,319.2" fill="none" stroke="#d67a70" stroke-width="2.4" opacity="0.55" stroke-linejoin="round"/><path d="M519.4,323.8 L530.4,327.8" fill="none" stroke="#d67a70" stroke-width="2.4" opacity="0.55" stroke-linejoin="round"/><path d="M515.7,332.4 L526.7,336.4" fill="none" stroke="#d67a70" stroke-width="2.4" opacity="0.55" stroke-linejoin="round"/><path d="M512,341.1 L523,345.1" fill="none" stroke="#d67a70" stroke-width="2.4" opacity="0.55" stroke-linejoin="round"/><path d="M508.3,349.7 L519.3,353.7" fill="none" stroke="#d67a70" stroke-width="2.4" opacity="0.55" stroke-linejoin="round"/><path d="M504.6,358.3 L515.6,362.3" fill="none" stroke="#d67a70" stroke-width="2.4" opacity="0.55" stroke-linejoin="round"/><ellipse cx="436.6" cy="414.2" rx="2.8" ry="2.8" fill="#dc7828" /><path d="M293,297.9C293.8,295.1 298.5,293.5 302.5,290.7C306.5,287.9 312.9,284.7 316.9,281.2C320.9,277.6 321.7,271.6 326.5,269.2C331.3,266.8 342.1,264.8 345.7,266.8C349.3,268.8 348.1,276 348.1,281.2C348.1,286.3 345.3,291.5 345.7,297.9C346.1,304.3 351.3,315.1 350.5,319.5C349.7,323.9 344.9,324.3 340.9,324.3C336.9,324.3 331.3,321.1 326.5,319.5C321.7,317.9 316.9,316.7 312.1,314.7C307.3,312.7 300.9,310.3 297.7,307.5C294.5,304.7 292.2,300.7 293,297.9Z" fill="#fa8c46" /><ellipse cx="316.9" cy="302.7" rx="4.6" ry="3.8" fill="#f5a04e"  stroke="#7a5226" stroke-width="0.7" stroke-opacity="0.8"/><ellipse cx="330.1" cy="306.3" rx="2.8" ry="2.6" fill="#f5a04e"  stroke="#7a5226" stroke-width="0.7" stroke-opacity="0.8"/><ellipse cx="355.3" cy="315.9" rx="3.5" ry="3.5" fill="#fa8c46" /><ellipse cx="297.7" cy="381.1" rx="10" ry="6" fill="#f5a04e" transform="rotate(-12 297.7450275581117 381.0807572489815)"  stroke="#7a5226" stroke-width="0.7" stroke-opacity="0.8"/><path d="M209.1,314.7C211.9,311.9 215.9,311.1 218.7,312.3C221.5,313.5 224.3,319.1 225.9,321.9C227.5,324.7 229,327.5 228.3,329.1C227.5,330.7 223.9,330.3 221.1,331.5C218.3,332.7 213.9,333.9 211.5,336.3C209.1,338.7 208.7,344.3 206.7,345.9C204.7,347.5 200.3,348.7 199.5,345.9C198.7,343.1 200.3,334.3 201.9,329.1C203.5,323.9 206.3,317.5 209.1,314.7Z" fill="#f27c50"  stroke="#7a5226" stroke-width="0.7" stroke-opacity="0.8"/><path d="M204.3,384.2C203.1,383 207.1,380.2 206.7,377C206.3,373.8 201.9,368.6 201.9,365C201.9,361.4 202.7,357 206.7,355.4C210.7,353.8 221.5,354.2 225.9,355.4C230.2,356.6 229.8,362.2 233,362.6C236.2,363 241.4,359.4 245,357.8C248.6,356.2 252.2,351.4 254.6,353C257,354.6 259.4,363 259.4,367.4C259.4,371.8 256.2,374.2 254.6,379.4C253,384.6 251.4,393.4 249.8,398.6C248.2,403.8 247.4,407.4 245,410.6C242.6,413.8 238.6,417.3 235.4,417.7C232.2,418.1 227.5,414.9 225.9,413C224.3,411 224.3,408.2 225.9,405.8C227.5,403.4 234.6,401.4 235.4,398.6C236.2,395.8 233,389.8 230.6,389C228.3,388.2 223.9,394.6 221.1,393.8C218.3,393 216.7,385.8 213.9,384.2C211.1,382.6 205.5,385.4 204.3,384.2Z" fill="#fa8c46"  stroke="#7a5226" stroke-width="0.7" stroke-opacity="0.8"/><ellipse cx="240.2" cy="377" rx="4.2" ry="4" fill="#f5a04e"  stroke="#7a5226" stroke-width="0.7" stroke-opacity="0.8"/><path d="M177.9,393.8C179.9,389.8 190.7,390.6 194.7,391.4C198.7,392.2 201.1,395 201.9,398.6C202.7,402.2 200.7,409.8 199.5,413C198.3,416.1 197.5,417.3 194.7,417.7C191.9,418.1 185.5,419.3 182.7,415.3C179.9,411.4 175.9,397.8 177.9,393.8Z" fill="#fa8c46"  stroke="#7a5226" stroke-width="0.7" stroke-opacity="0.8"/><path d="M235.4,254.8 L255.4,261.8" fill="none" stroke="#f9cfa0" stroke-width="2.6" opacity="0.45" stroke-linejoin="round"/><path d="M233.5,263.9 L253.5,270.9" fill="none" stroke="#f9cfa0" stroke-width="2.6" opacity="0.45" stroke-linejoin="round"/><path d="M231.6,273 L251.6,280" fill="none" stroke="#f9cfa0" stroke-width="2.6" opacity="0.45" stroke-linejoin="round"/><path d="M229.7,282.1 L249.7,289.1" fill="none" stroke="#f9cfa0" stroke-width="2.6" opacity="0.45" stroke-linejoin="round"/><path d="M227.8,291.2 L247.8,298.2" fill="none" stroke="#f9cfa0" stroke-width="2.6" opacity="0.45" stroke-linejoin="round"/><path d="M169.1,416.6C172.1,413.5 176.1,418.2 180.4,419.4C184.6,420.6 190.1,422 194.6,423.7C199,425.3 204.2,427 207.3,429.3C210.4,431.7 210.4,434.5 213,437.8C215.6,441.1 220.1,445.4 222.9,449.2C225.7,452.9 226.7,456.9 230,460.5C233.3,464 240.6,466.1 242.7,470.4C244.8,474.6 258.1,483.4 242.7,486C227.4,488.6 165.1,490.2 150.7,486C136.3,481.7 154.4,468.5 156.3,460.5C158.2,452.5 159.9,445.1 162,437.8C164.1,430.5 166,419.6 169.1,416.6Z" fill="#fbae48"  stroke="#7a5226" stroke-width="0.7" stroke-opacity="0.8"/><path d="M162,437.8C162.5,435 165.8,431.2 167.6,429.3C169.5,427.4 170.7,426.5 173.3,426.5C175.9,426.5 179.5,428.4 183.2,429.3C187,430.3 192.9,430.7 196,432.2C199,433.6 199.8,435.5 201.6,437.8C203.5,440.2 205.2,443.7 207.3,446.3C209.4,448.9 212.3,450.8 214.4,453.4C216.5,456 217.5,458.8 220.1,461.9C222.7,465 227.4,468.5 230,471.8C232.6,475.1 240.4,480.1 235.6,481.7C230.9,483.4 208.5,482.9 201.6,481.7C194.8,480.5 196.9,477.7 194.6,474.6C192.2,471.6 189.6,466.6 187.5,463.3C185.4,460 184.2,457.2 181.8,454.8C179.5,452.5 176.1,450.6 173.3,449.2C170.5,447.7 166.7,448.2 164.8,446.3C162.9,444.4 161.5,440.7 162,437.8Z" fill="#f7e62a" /><ellipse cx="176.1" cy="440.7" rx="6.373937677053824" ry="4.674220963172805" fill="#35d83a" filter="url(#b05)"/><ellipse cx="186.8" cy="431.4" rx="3.3994334277620397" ry="2.8328611898017" fill="#35d83a" filter="url(#b05)"/><ellipse cx="210.1" cy="453.4" rx="3.96600566572238" ry="3.68271954674221" fill="#35d83a" filter="url(#b05)"/><ellipse cx="202.4" cy="465.4" rx="4.81586402266289" ry="4.2492917847025495" fill="#35d83a" filter="url(#b05)"/><ellipse cx="178.3" cy="427.2" rx="1.558073654390935" ry="1.41643059490085" fill="#35d83a" filter="url(#b05)"/><path d="M215.8,467.6C217,464.5 219.6,463.3 221.5,463.3C223.4,463.3 226.2,464.5 227.1,467.6C228.1,470.6 229.3,479.4 227.1,481.7C225,484.1 216.3,484.1 214.4,481.7C212.5,479.4 214.6,470.6 215.8,467.6Z" fill="#f0482c" /><path d="M155.1,574.6C156.3,569.4 156.3,565 159.9,560.2C163.5,555.4 171.5,547.9 176.7,545.9C181.9,543.9 186.7,546.3 191.1,548.3C195.5,550.2 199.8,553.4 203,557.8C206.2,562.2 208.2,570.2 210.2,574.6C212.2,579 213.4,581 215,584.2C216.6,587.4 218.2,588.2 219.8,593.8C221.4,599.4 228.6,614.5 224.6,617.7C220.6,620.9 204.6,616.1 195.9,613C187.1,609.8 179.1,602.2 171.9,598.6C164.7,595 155.5,595.4 152.7,591.4C149.9,587.4 153.9,579.8 155.1,574.6Z" fill="#fa4623" /><path d="M156.3,571 L212.6,593.8 L215,608.2 L195.9,603.4 L153.9,586.6Z" fill="#ee4a32"  opacity="0.8"/><path d="M215,589 L243.8,591.4 L248.6,603.4 L239,617.7 L215,608.2Z" fill="#f4734a"  opacity="0.9"/><path d="M114.4,545.9C118,531.9 128.8,495.5 135.9,485.9C143.1,476.4 153.1,486.7 157.5,488.3C161.9,489.9 159.9,493.9 162.3,495.5C164.7,497.1 168.7,496.7 171.9,497.9C175.1,499.1 178.7,502.3 181.5,502.7C184.3,503.1 188.3,499.1 188.7,500.3C189.1,501.5 185.1,506.3 183.9,509.9C182.7,513.5 181.5,517.9 181.5,521.9C181.5,525.9 185.5,531.1 183.9,533.9C182.3,536.7 175.5,536.7 171.9,538.7C168.3,540.7 165.5,543.9 162.3,545.9C159.1,547.9 156.3,547.9 152.7,550.6C149.1,553.4 143.5,558.6 140.7,562.6C137.9,566.6 140.3,573.4 135.9,574.6C131.6,575.8 118,574.6 114.4,569.8C110.8,565 110.8,559.8 114.4,545.9Z" fill="#f5a04e"  stroke="#7a5226" stroke-width="0.7" stroke-opacity="0.8"/><path d="M138.3,529.1C142.3,521.9 146.7,521.9 150.3,521.9C153.9,521.9 158.3,524.3 159.9,529.1C161.5,533.9 161.1,543.9 159.9,550.6C158.7,557.4 156.7,565.8 152.7,569.8C148.7,573.8 140.3,575.4 135.9,574.6C131.6,573.8 126,572.6 126.4,565C126.8,557.4 134.3,536.3 138.3,529.1Z" fill="#f0875a"  opacity="0.8"/><ellipse cx="143.9" cy="532.7" rx="5.5" ry="4.5" fill="#ee7a50"  stroke="#7a5226" stroke-width="0.7" stroke-opacity="0.8"/><ellipse cx="140.3" cy="541.5" rx="3" ry="2.4" fill="#ee7a50"  stroke="#7a5226" stroke-width="0.7" stroke-opacity="0.8"/><path d="M147.9,464.4C150.3,461.6 156.3,461.2 159.9,462C163.5,462.8 169.1,466.4 169.5,469.2C169.9,472 165.1,476 162.3,478.8C159.5,481.6 155.5,485.9 152.7,485.9C149.9,485.9 146.3,482.4 145.5,478.8C144.7,475.2 145.5,467.2 147.9,464.4Z" fill="#f27a55"  opacity="0.8"/><path d="M224.6,481.2C225.4,477.6 231,474.4 234.2,474C237.4,473.6 240.6,476 243.8,478.8C247,481.6 249.4,487.5 253.4,490.7C257.4,493.9 263.8,495.1 267.7,497.9C271.7,500.7 274.1,503.9 277.3,507.5C280.5,511.1 284.9,515.5 286.9,519.5C288.9,523.5 290.1,527.9 289.3,531.5C288.5,535.1 284.9,540.3 282.1,541.1C279.3,541.9 275.7,539.5 272.5,536.3C269.3,533.1 266.1,525.9 263,521.9C259.8,517.9 257.4,515.1 253.4,512.3C249.4,509.5 243,507.9 239,505.1C235,502.3 231.8,499.5 229.4,495.5C227,491.5 223.8,484.7 224.6,481.2Z" fill="#f7e62a" /><path d="M296.5,521.9C297.3,519.5 300.9,517.1 303.7,517.1C306.5,517.1 310.9,519.5 313.3,521.9C315.7,524.3 317.7,528.3 318.1,531.5C318.5,534.7 317.7,539.9 315.7,541.1C313.7,542.3 308.9,540.3 306.1,538.7C303.3,537.1 300.5,534.3 298.9,531.5C297.3,528.7 295.7,524.3 296.5,521.9Z" fill="#f7e62a" /><ellipse cx="201.8" cy="465.6" rx="4.313443565780014" ry="3.3549005511622334" fill="#35d83a" filter="url(#b05)"/><ellipse cx="210.2" cy="453.6" rx="3.5945363048166787" ry="2.8756290438533427" fill="#35d83a" filter="url(#b05)"/><ellipse cx="253.4" cy="501.5" rx="7.1890726096333575" ry="4.313443565780014" fill="#35d83a" filter="url(#b05)"/><ellipse cx="267.7" cy="505.6" rx="3.5945363048166787" ry="2.8756290438533427" fill="#35d83a" filter="url(#b05)"/><ellipse cx="283.3" cy="530.3" rx="3.3549005511622334" ry="2.8756290438533427" fill="#35d83a" filter="url(#b05)"/><ellipse cx="234.2" cy="475.2" rx="2.8756290438533427" ry="2.3963575365444525" fill="#35d83a" filter="url(#b05)"/><ellipse cx="306.1" cy="529.1" rx="5.271986580397796" ry="4.792715073088905" fill="#35d83a" filter="url(#b05)"/><ellipse cx="346.8" cy="569.8" rx="2.8756290438533427" ry="2.3963575365444525" fill="#35d83a" filter="url(#b05)"/><ellipse cx="342" cy="580.6" rx="2.3963575365444525" ry="1.9170860292355618" fill="#35d83a" filter="url(#b05)"/><ellipse cx="310.9" cy="550.6" rx="2.3963575365444525" ry="1.9170860292355618" fill="#35d83a" filter="url(#b05)"/><path d="M207.8,466.8C209.4,464.4 217,463.2 219.8,464.4C222.6,465.6 224.6,471.2 224.6,474C224.6,476.8 222.2,480.4 219.8,481.2C217.4,482 212.2,481.2 210.2,478.8C208.2,476.4 206.2,469.2 207.8,466.8Z" fill="#e64a2e" /><path d="M203,485.9C205,482.4 210.6,480 212.6,481.2C214.6,482.4 215.8,489.1 215,493.1C214.2,497.1 210.2,503.5 207.8,505.1C205.4,506.7 201.4,505.9 200.6,502.7C199.8,499.5 201,489.5 203,485.9Z" fill="#f25a38" /><ellipse cx="291.7" cy="526.7" rx="5" ry="3.5" fill="#f0503a" /><path d="M253.4,596.2C254.2,593.8 263.8,595.4 267.7,591.4C271.7,587.4 274.1,576.2 277.3,572.2C280.5,568.2 283.7,567.4 286.9,567.4C290.1,567.4 293.7,569.4 296.5,572.2C299.3,575 301.3,581 303.7,584.2C306.1,587.4 308.1,589.4 310.9,591.4C313.7,593.4 317.3,594.2 320.5,596.2C323.7,598.2 326.9,599.8 330.1,603.4C333.2,607 337.6,613 339.6,617.7C341.6,622.5 342.8,628.1 342,632.1C341.2,636.1 337.6,638.9 334.8,641.7C332,644.5 327.7,644.9 325.3,648.9C322.9,652.9 330.4,666.9 320.5,665.7C310.5,664.5 274.1,649.7 265.3,641.7C256.6,633.7 268.1,623.7 267.7,617.7C267.3,611.8 265.3,609.4 263,605.8C260.6,602.2 252.6,598.6 253.4,596.2Z" fill="#c96728"  stroke="#7a5226" stroke-width="0.7" stroke-opacity="0.8"/><path d="M284.5,605.8C284.9,602.6 287.3,597.4 289.3,596.2C291.3,595 295.7,596.6 296.5,598.6C297.3,600.6 295.3,605.4 294.1,608.2C292.9,611 288.5,613.8 289.3,615.3C290.1,616.9 296.1,618.1 298.9,617.7C301.7,617.3 303.7,613 306.1,613C308.5,613 311.7,615.3 313.3,617.7C314.9,620.1 316.1,624.9 315.7,627.3C315.3,629.7 312.9,630.9 310.9,632.1C308.9,633.3 305.7,633.3 303.7,634.5C301.7,635.7 300.5,639.7 298.9,639.3C297.3,638.9 295.3,634.9 294.1,632.1C292.9,629.3 292.9,625.3 291.7,622.5C290.5,619.7 288.1,618.1 286.9,615.3C285.7,612.6 284.1,609 284.5,605.8Z" fill="#b44623" /><path d="M419.8,497.9C420.6,493.9 421.4,487.5 424.6,485.9C427.8,484.3 434.6,486.3 439,488.3C443.4,490.3 448.6,493.9 451,497.9C453.4,501.9 454.6,508.3 453.4,512.3C452.2,516.3 447,519.1 443.8,521.9C440.6,524.7 437.4,528.7 434.2,529.1C431,529.5 427,527.5 424.6,524.3C422.2,521.1 420.6,514.3 419.8,509.9C419,505.5 419,501.9 419.8,497.9Z" fill="#fa6937" /><ellipse cx="435.4" cy="508.7" rx="6.5" ry="5.5" fill="#fa8c46" /><path d="M379.1,550.6C379.1,547.1 385.1,541.5 388.7,538.7C392.3,535.9 397.5,533.5 400.6,533.9C403.8,534.3 407.8,537.9 407.8,541.1C407.8,544.3 403.8,549.8 400.6,553C397.5,556.2 392.3,560.6 388.7,560.2C385.1,559.8 379.1,554.2 379.1,550.6Z" fill="#fa6937" /><ellipse cx="353.2" cy="515.9" rx="4.5" ry="5" fill="#fa6937" /><path d="M415,474C415.8,471.6 422.2,470.4 424.6,471.6C427,472.8 430.2,478.8 429.4,481.2C428.6,483.5 422.2,487.1 419.8,485.9C417.4,484.7 414.2,476.4 415,474Z" fill="#fa6937" /><path d="M467.7,471.6 L482.1,466.8 L424.6,605.8 L412.6,603.4Z" fill="#f2554a"  opacity="0.75"/><path d="M457,491.9 L467,495.4" fill="none" stroke="#f79a90" stroke-width="2.4" opacity="0.4" stroke-linejoin="round"/><path d="M453.7,500.3 L463.7,503.8" fill="none" stroke="#f79a90" stroke-width="2.4" opacity="0.4" stroke-linejoin="round"/><path d="M450.5,508.7 L460.5,512.2" fill="none" stroke="#f79a90" stroke-width="2.4" opacity="0.4" stroke-linejoin="round"/><path d="M447.3,517.1 L457.3,520.6" fill="none" stroke="#f79a90" stroke-width="2.4" opacity="0.4" stroke-linejoin="round"/><path d="M444,525.5 L454,529" fill="none" stroke="#f79a90" stroke-width="2.4" opacity="0.4" stroke-linejoin="round"/><path d="M440.8,533.9 L450.8,537.4" fill="none" stroke="#f79a90" stroke-width="2.4" opacity="0.4" stroke-linejoin="round"/><path d="M437.6,542.3 L447.6,545.8" fill="none" stroke="#f79a90" stroke-width="2.4" opacity="0.4" stroke-linejoin="round"/><path d="M434.3,550.6 L444.3,554.1" fill="none" stroke="#f79a90" stroke-width="2.4" opacity="0.4" stroke-linejoin="round"/><path d="M431.1,559 L441.1,562.5" fill="none" stroke="#f79a90" stroke-width="2.4" opacity="0.4" stroke-linejoin="round"/><path d="M427.8,567.4 L437.8,570.9" fill="none" stroke="#f79a90" stroke-width="2.4" opacity="0.4" stroke-linejoin="round"/><path d="M424.6,575.8 L434.6,579.3" fill="none" stroke="#f79a90" stroke-width="2.4" opacity="0.4" stroke-linejoin="round"/><path d="M421.4,584.2 L431.4,587.7" fill="none" stroke="#f79a90" stroke-width="2.4" opacity="0.4" stroke-linejoin="round"/><path d="M418.1,592.6 L428.1,596.1" fill="none" stroke="#f79a90" stroke-width="2.4" opacity="0.4" stroke-linejoin="round"/><path d="M350.3,476.4C349.9,473.2 353.1,466 355.1,462C357.1,458 358.3,454.4 362.3,452.4C366.3,450.4 373.5,449.6 379.1,450C384.7,450.4 391.9,452.8 395.9,454.8C399.8,456.8 401,458.4 403,462C405,465.6 407.4,472 407.8,476.4C408.2,480.8 404.6,483.9 405.4,488.3C406.2,492.7 411.8,498.3 412.6,502.7C413.4,507.1 412.2,511.5 410.2,514.7C408.2,517.9 403.8,519.9 400.6,521.9C397.5,523.9 393.1,526.7 391.1,526.7C389.1,526.7 390.7,523.1 388.7,521.9C386.7,520.7 382.3,520.7 379.1,519.5C375.9,518.3 371.9,516.3 369.5,514.7C367.1,513.1 364.7,512.7 364.7,509.9C364.7,507.1 369.1,501.9 369.5,497.9C369.9,493.9 369.1,488.7 367.1,485.9C365.1,483.1 360.3,482.8 357.5,481.2C354.7,479.6 350.7,479.6 350.3,476.4Z" fill="#c96728"  stroke="#7a5226" stroke-width="0.7" stroke-opacity="0.8"/><path d="M374.3,480C375.1,478.6 379.1,476.6 381.5,477.6C383.9,478.6 386.3,483.7 388.7,485.9C391.1,488.1 394.5,489.1 395.9,490.7C397.3,492.3 397.9,494.7 397.1,495.5C396.3,496.3 393.3,496.3 391.1,495.5C388.9,494.7 386.3,492.3 383.9,490.7C381.5,489.1 378.3,487.7 376.7,485.9C375.1,484.1 373.5,481.4 374.3,480Z" fill="#b44623" /><path d="M405.4,574.6C403.8,572.2 406.2,568.2 407.8,565C409.4,561.8 411.8,558 415,555.4C418.2,552.8 424.2,549 427,549.4C429.8,549.8 430.6,554.4 431.8,557.8C433,561.2 432.6,569.4 434.2,569.8C435.8,570.2 439.8,560.2 441.4,560.2C443,560.2 444.6,566.2 443.8,569.8C443,573.4 439.4,579 436.6,581.8C433.8,584.6 430.2,587 427,586.6C423.8,586.2 421,581.4 417.4,579.4C413.8,577.4 407,577 405.4,574.6Z" fill="#c96728"  stroke="#7a5226" stroke-width="0.7" stroke-opacity="0.8"/><ellipse cx="428.2" cy="574.6" rx="2.6" ry="4.6" fill="#e64a2e" transform="rotate(20 428.2051282051282 574.6105919003115)" stroke="#b03a20" stroke-width="0.6"/><path d="M465.3,459.6C466.9,456.8 472.9,456.4 477.3,454.8C481.7,453.2 489.3,446.4 491.7,450C494.1,453.6 494.1,472 491.7,476.4C489.3,480.8 481.3,477.2 477.3,476.4C473.3,475.6 469.7,474.4 467.7,471.6C465.7,468.8 463.8,462.4 465.3,459.6Z" fill="#c96728"  stroke="#7a5226" stroke-width="0.7" stroke-opacity="0.8"/><path d="M335.9,569.8C337.1,567 345.5,565.8 347.9,567.4C350.3,569 351.5,576.6 350.3,579.4C349.1,582.2 343.1,585.8 340.7,584.2C338.3,582.6 334.7,572.6 335.9,569.8Z" fill="#f7e62a" /><path d="M367.1,589C369.1,586.6 373.9,583.8 376.7,584.2C379.5,584.6 383.1,588.6 383.9,591.4C384.7,594.2 383.5,598.6 381.5,601C379.5,603.4 374.7,606.2 371.9,605.8C369.1,605.4 365.5,601.4 364.7,598.6C363.9,595.8 365.1,591.4 367.1,589Z" fill="#f7e62a" /><path d="M391.1,605.8C392.3,603 397.1,600.6 400.6,601C404.2,601.4 409.4,605.4 412.6,608.2C415.8,611 419.4,613 419.8,617.7C420.2,622.5 417.4,633.3 415,636.9C412.6,640.5 408.2,640.5 405.4,639.3C402.6,638.1 400.2,633.3 398.3,629.7C396.3,626.1 394.7,621.7 393.5,617.7C392.3,613.8 389.9,608.6 391.1,605.8Z" fill="#f7e62a" /><ellipse cx="304.8" cy="529.1" rx="4.313443565780014" ry="3.8341720584711236" fill="#35d83a" filter="url(#b05)"/><ellipse cx="310.8" cy="553" rx="2.3963575365444525" ry="2.156721782890007" fill="#35d83a" filter="url(#b05)"/><ellipse cx="344.3" cy="569.8" rx="2.156721782890007" ry="1.9170860292355618" fill="#35d83a" filter="url(#b05)"/><ellipse cx="343.1" cy="580.6" rx="1.9170860292355618" ry="1.6774502755811167" fill="#35d83a" filter="url(#b05)"/><ellipse cx="375.5" cy="591.4" rx="2.8756290438533427" ry="2.3963575365444525" fill="#35d83a" filter="url(#b05)"/><ellipse cx="371.9" cy="603.4" rx="2.3963575365444525" ry="2.156721782890007" fill="#35d83a" filter="url(#b05)"/><ellipse cx="398.3" cy="609.4" rx="4.313443565780014" ry="3.3549005511622334" fill="#35d83a" filter="url(#b05)"/><ellipse cx="410.2" cy="620.1" rx="3.5945363048166787" ry="3.3549005511622334" fill="#35d83a" filter="url(#b05)"/><ellipse cx="403.5" cy="630.2" rx="4.792715073088905" ry="6.230529595015576" fill="#35d83a" filter="url(#b05)"/><ellipse cx="380.3" cy="609.4" rx="5" ry="5" fill="#d8402a" /></g></g><polygon points="376.0,24.5 380.9,27.5 386.8,27.8 391.3,31.6 397.2,32.0 401.7,35.8 407.7,36.1 412.2,40.0 418.1,40.3 422.6,44.2 428.5,44.5 433.0,48.3 439.0,48.7 443.5,52.5 449.4,52.8 453.9,56.7 459.8,57.0 464.3,60.9 470.3,61.2 474.8,65.0 480.7,65.4 485.2,69.2 491.1,69.5 495.6,73.4 501.6,73.7 506.1,77.6 512.0,77.9 516.5,81.7 522.4,82.1 527.0,85.9 532.9,86.2 537.4,90.1 543.3,90.4 547.8,94.3 553.7,94.6 558.3,98.4 564.2,98.7 568.7,102.6 574.6,102.9 579.1,106.8 585.0,107.1 589.6,110.9 595.5,111.3 600.0,115.1 605.9,115.4 610.4,119.3 616.0,120.5 613.7,125.6 612.3,130.9 609.8,135.9 608.3,141.3 605.8,146.2 604.4,151.6 601.8,156.6 600.4,162.0 597.8,166.9 596.4,172.3 593.9,177.2 592.4,182.6 589.9,187.6 588.5,193.0 585.9,197.9 584.5,203.3 582.0,208.3 580.5,213.6 578.0,218.6 576.6,224.0 574.0,228.9 572.6,234.3 570.0,239.3 568.6,244.6 566.1,249.6 564.6,255.0 562.1,259.9 560.7,265.3 558.1,270.3 556.7,275.7 554.1,280.6 552.7,286.0 550.2,290.9 548.7,296.3 546.2,301.3 544.8,306.7 542.2,311.6 540.8,317.0 538.3,322.0 536.8,327.3 534.3,332.3 532.9,337.7 530.3,342.6 528.9,348.0 526.3,353.0 524.9,358.3 522.4,363.3 520.9,368.7 518.4,373.6 517.0,379.0 514.4,384.0 513.0,389.4 510.4,394.3 509.0,399.7 506.5,404.6 505.0,410.0 502.5,415.0 501.1,420.4 498.5,425.3 497.1,430.7 494.6,435.7 493.1,441.0 490.6,446.0 489.2,451.4 486.6,456.3 485.2,461.7 482.6,466.7 481.2,472.0 478.7,477.0 477.2,482.4 474.7,487.3 473.3,492.7 470.7,497.7 469.3,503.1 466.7,508.0 465.3,513.4 462.8,518.3 461.3,523.7 458.8,528.7 457.4,534.1 454.8,539.0 453.4,544.4 450.9,549.4 449.4,554.7 446.9,559.7 445.5,565.1 442.9,570.0 441.5,575.4 438.9,580.4 437.5,585.7 435.0,590.7 433.5,596.1 431.0,601.0 429.6,606.4 427.0,611.4 425.6,616.8 423.0,621.7 421.6,627.1 419.1,632.0 417.6,637.4 415.1,642.4 413.7,647.8 411.1,652.7 409.7,658.1 407.2,663.1 405.7,668.4 403.2,673.4 401.8,678.8 399.2,683.7 397.5,689.0 392.8,685.9 386.9,685.5 382.5,681.6 376.7,681.1 372.3,677.2 366.4,676.8 362.0,672.9 356.2,672.4 351.8,668.5 345.9,668.1 341.6,664.1 335.7,663.7 331.3,659.8 325.5,659.3 321.1,655.4 315.2,655.0 310.9,651.0 305.0,650.6 300.6,646.7 294.8,646.2 290.4,642.3 284.5,641.9 280.2,637.9 274.3,637.5 269.9,633.6 264.1,633.1 259.7,629.2 253.8,628.8 249.4,624.9 243.6,624.4 239.2,620.5 233.3,620.1 229.0,616.1 223.1,615.7 218.7,611.8 212.9,611.3 208.5,607.4 202.6,607.0 198.3,603.0 192.4,602.6 188.0,598.7 182.2,598.2 177.8,594.3 171.9,593.9 167.6,589.9 161.7,589.5 157.3,585.6 151.5,585.1 147.1,581.2 141.2,580.8 136.8,576.9 131.0,576.4 126.6,572.5 120.7,572.1 116.0,569.0 118.0,563.8 119.4,558.4 121.7,553.4 123.0,548.0 125.3,542.9 126.6,537.5 128.9,532.4 130.2,527.0 132.5,521.9 133.8,516.5 136.1,511.5 137.4,506.1 139.7,501.0 141.1,495.6 143.3,490.5 144.7,485.1 147.0,480.0 148.3,474.6 150.6,469.5 151.9,464.1 154.2,459.1 155.5,453.7 157.8,448.6 159.1,443.2 161.4,438.1 162.7,432.7 165.0,427.6 166.4,422.2 168.6,417.2 170.0,411.8 172.2,406.7 173.6,401.3 175.9,396.2 177.2,390.8 179.5,385.7 180.8,380.3 183.1,375.3 184.4,369.9 186.7,364.8 188.0,359.4 190.3,354.3 191.7,348.9 193.9,343.8 195.3,338.4 197.5,333.3 198.9,327.9 201.2,322.9 202.5,317.5 204.8,312.4 206.1,307.0 208.4,301.9 209.7,296.5 212.0,291.4 213.3,286.0 215.6,281.0 216.9,275.6 219.2,270.5 220.6,265.1 222.8,260.0 224.2,254.6 226.5,249.5 227.8,244.1 230.1,239.0 231.4,233.6 233.7,228.6 235.0,223.2 237.3,218.1 238.6,212.7 240.9,207.6 242.2,202.2 244.5,197.1 245.9,191.7 248.1,186.7 249.5,181.3 251.7,176.2 253.1,170.8 255.4,165.7 256.7,160.3 259.0,155.2 260.3,149.8 262.6,144.8 263.9,139.4 266.2,134.3 267.5,128.9 269.8,123.8 271.2,118.4 273.4,113.3 275.0,108.0 279.8,104.9 283.3,100.2 288.6,97.6 292.1,92.9 297.4,90.4 300.9,85.7 306.2,83.1 309.7,78.4 315.0,75.9 318.5,71.2 323.8,68.6 327.2,63.9 332.5,61.3 336.0,56.6 341.3,54.1 344.8,49.4 350.1,46.8 353.6,42.1 358.9,39.6 362.4,34.9 367.7,32.3 371.2,27.6" fill="none" stroke="#22150e" stroke-width="1.65" stroke-linejoin="round"/><path d="M124.4,386.8 L160,417 L190,443 L205,457.5 L218,471 L232,483 L316,550.5 L466.8,674.5" fill="none" stroke="#0a00ee" stroke-width="7" stroke-linecap="round" stroke-linejoin="round"/><ellipse cx="498.5" cy="187.5" rx="57" ry="45" fill="none" stroke="#fff" stroke-width="3.5" stroke-dasharray="6.3 10.5" stroke-linecap="round" transform="rotate(-8 498.5 186)"/><path d="M559.6,267.3C556.5,267.6 547.2,268.5 540.9,269.2C534.6,269.9 528.1,270.8 521.7,271.6C515.3,272.4 508.5,273.2 502.5,274C496.5,274.8 491.4,275.4 485.8,276.4C480.2,277.4 474.6,279.2 469,280C463.4,280.8 457.8,280.9 452.2,281.2C446.6,281.4 441,281.4 435.4,281.6C429.8,281.8 424.3,282 418.7,282.4C413.1,282.7 407.1,282.8 401.9,283.5C396.7,284.3 391.5,285.5 387.5,287.1C383.5,288.7 380.9,289.7 377.9,293.1C374.9,296.5 372.3,301.9 369.5,307.5C366.7,313.1 364.1,321.1 361.2,326.7C358.2,332.3 354.4,336.7 351.6,341.1C348.8,345.5 345.6,349 344.4,353C343.2,357 343.2,359.4 344.4,365C345.6,370.6 349,380.2 351.6,386.6C354.2,393 357,398.2 360,403.4C362.9,408.6 366.3,413.4 369.5,417.7C372.7,422.1 376.3,425.3 379.1,429.7C381.9,434.1 383.7,439.7 386.3,444.1C388.9,448.5 390.9,452.7 394.7,456.1C398.5,459.5 403.9,462.7 409.1,464.5C414.3,466.3 420.3,466.7 425.9,466.9C431.4,467.1 437.4,465.7 442.6,465.7C447.8,465.7 453.4,465.5 457,466.9C460.6,468.3 462.2,471.1 464.2,474.1C466.2,477.1 468.2,483 469,484.8" fill="none" stroke="#fff" stroke-width="3.5" stroke-dasharray="6.3 10.5" stroke-linecap="round"/><text x="496" y="189" font-size="27" fill="#fff" text-anchor="middle" font-weight="bold" >A</text><text x="478.6" y="372.3" font-size="29" fill="#fff" text-anchor="middle" font-weight="bold" >B</text><text x="327.6" y="531" font-size="30" fill="#fff" text-anchor="middle" font-weight="bold" >C</text><text transform="translate(352,141.8) rotate(0)" font-size="12.5" fill="#3a1a08" text-anchor="middle" dominant-baseline="central" opacity="0.9">16</text><text transform="translate(500.2,93.7) rotate(88)" font-size="12.5" fill="#3a1a08" text-anchor="middle" dominant-baseline="central" opacity="0.9">16</text><text transform="translate(488.2,239) rotate(-60)" font-size="12.5" fill="#3a1a08" text-anchor="middle" dominant-baseline="central" opacity="0.9">16</text><text transform="translate(363.5,337.5) rotate(-50)" font-size="12.5" fill="#3a1a08" text-anchor="middle" dominant-baseline="central" opacity="0.9">10</text><text transform="translate(549.3,271) rotate(10)" font-size="12.5" fill="#3a1a08" text-anchor="middle" dominant-baseline="central" opacity="0.9">10</text><text transform="translate(265.4,423.7) rotate(-55)" font-size="12.5" fill="#3a1a08" text-anchor="middle" dominant-baseline="central" opacity="0.9">16</text><text transform="translate(184,401) rotate(-80)" font-size="12.5" fill="#3a1a08" text-anchor="middle" dominant-baseline="central" opacity="0.9">16</text><text transform="translate(186,376) rotate(-80)" font-size="12.5" fill="#3a1a08" text-anchor="middle" dominant-baseline="central" opacity="0.9">10</text><text transform="translate(170.7,537.5) rotate(-20)" font-size="12.5" fill="#3a1a08" text-anchor="middle" dominant-baseline="central" opacity="0.9">16</text><text transform="translate(257,523) rotate(25)" font-size="12.5" fill="#3a1a08" text-anchor="middle" dominant-baseline="central" opacity="0.9">16</text><text transform="translate(321.7,607) rotate(15)" font-size="12.5" fill="#3a1a08" text-anchor="middle" dominant-baseline="central" opacity="0.9">10</text><text transform="translate(405.4,489.5) rotate(60)" font-size="12.5" fill="#3a1a08" text-anchor="middle" dominant-baseline="central" opacity="0.9">10</text><text transform="translate(362.8,569.8) rotate(50)" font-size="12.5" fill="#3a1a08" text-anchor="middle" dominant-baseline="central" opacity="0.9">16</text><polygon points="646.9,42.6 625.0,53.5 625.0,64.5 636.0,64.5" fill="#fff" fill-opacity="0.55" stroke="#333" stroke-width="0.45"/><polygon points="646.9,42.6 625.0,53.5 625.0,64.5" fill="#000"/><polygon points="646.9,86.4 636.0,64.5 625.0,64.5 625.0,75.5" fill="#fff" fill-opacity="0.55" stroke="#333" stroke-width="0.45"/><polygon points="646.9,86.4 636.0,64.5 625.0,64.5" fill="#000"/><polygon points="603.1,86.4 625.0,75.5 625.0,64.5 614.0,64.5" fill="#fff" fill-opacity="0.55" stroke="#333" stroke-width="0.45"/><polygon points="603.1,86.4 625.0,75.5 625.0,64.5" fill="#000"/><polygon points="603.1,42.6 614.0,64.5 625.0,64.5 625.0,53.5" fill="#fff" fill-opacity="0.55" stroke="#333" stroke-width="0.45"/><polygon points="603.1,42.6 614.0,64.5 625.0,64.5" fill="#000"/><polygon points="625.0,15.0 615.8,55.3 625.0,64.5 634.2,55.3" fill="#fff" fill-opacity="0.55" stroke="#333" stroke-width="0.45"/><polygon points="625.0,15.0 634.2,55.3 625.0,64.5" fill="#000"/><polygon points="674.5,64.5 634.2,55.3 625.0,64.5 634.2,73.7" fill="#fff" fill-opacity="0.55" stroke="#333" stroke-width="0.45"/><polygon points="674.5,64.5 634.2,73.7 625.0,64.5" fill="#000"/><polygon points="625.0,115.5 634.2,73.7 625.0,64.5 615.8,73.7" fill="#fff" fill-opacity="0.55" stroke="#333" stroke-width="0.45"/><polygon points="625.0,115.5 615.8,73.7 625.0,64.5" fill="#000"/><polygon points="574.5,64.5 615.8,73.7 625.0,64.5 615.8,55.3" fill="#fff" fill-opacity="0.55" stroke="#333" stroke-width="0.45"/><polygon points="574.5,64.5 615.8,55.3 625.0,64.5" fill="#000"/><text x="624.3" y="12.100000000000001" font-size="11" font-weight="bold" class="sans" text-anchor="middle" fill="#000">N</text>
</g>
<path d="M71.5,0V674.5H676.5V0" fill="none" stroke="#8a8a8a" stroke-width="1"/><path d="M65.5,7.5H71.5M65.5,90.1H71.5M65.5,172.7H71.5M65.5,255.3H71.5M65.5,337.9H71.5M65.5,420.5H71.5M65.5,503.1H71.5M65.5,585.7H71.5M65.5,668.3H71.5M137.6,674.5V680.5M219.9,674.5V680.5M302.3,674.5V680.5M384.6,674.5V680.5M466.9,674.5V680.5M549.2,674.5V680.5M631.6,674.5V680.5" stroke="#8a8a8a" stroke-width="1" fill="none"/><rect x="71.5" y="-1" width="190" height="33" fill="#fff" stroke="#333" stroke-width="1"/><text x="169.3" y="20.2" font-size="12.5" fill="#000" text-anchor="middle" font-weight="bold" textLength="123.5" lengthAdjust="spacingAndGlyphs" >Rozkład przewodności</text>
<g clip-path="url(#frameR)">
<g transform="translate(652,0)" filter="url(#b04)">
<rect x="71.5" y="0" width="605.0" height="674.5" fill="#fff"/><g filter="url(#b05)"><path d="M75,0L-161.4,680" stroke="#d6d6d6" stroke-width="0.8" fill="none"/><path d="M111.3,0L-143.8,680" stroke="#dcdcdc" stroke-width="0.7" fill="none"/><path d="M142.8,0L-75.9,680" stroke="#dcdcdc" stroke-width="0.7" fill="none"/><path d="M176.3,0L-76.3,680" stroke="#dcdcdc" stroke-width="0.7" fill="none"/><path d="M207.4,0L-44.9,680" stroke="#dcdcdc" stroke-width="0.7" fill="none"/><path d="M238.3,0L18.4,680" stroke="#d6d6d6" stroke-width="0.8" fill="none"/><path d="M278.4,0L59.7,680" stroke="#d6d6d6" stroke-width="0.8" fill="none"/><path d="M317.6,0L86.2,680" stroke="#d6d6d6" stroke-width="0.8" fill="none"/><path d="M348.4,0L148.4,680" stroke="#d6d6d6" stroke-width="0.8" fill="none"/><path d="M385.1,0L163.5,680" stroke="#dcdcdc" stroke-width="0.7" fill="none"/><path d="M420,0L217.1,680" stroke="#d6d6d6" stroke-width="0.8" fill="none"/><path d="M451.7,0L232.1,680" stroke="#d6d6d6" stroke-width="0.8" fill="none"/><path d="M487.6,0L266.5,680" stroke="#d6d6d6" stroke-width="0.8" fill="none"/><path d="M526.7,0L310.4,680" stroke="#dcdcdc" stroke-width="0.7" fill="none"/><path d="M567.6,0L338.2,680" stroke="#d6d6d6" stroke-width="0.8" fill="none"/><path d="M605,0L409.4,680" stroke="#d6d6d6" stroke-width="0.8" fill="none"/><path d="M639.8,0L435.4,680" stroke="#cccccc" stroke-width="0.9" fill="none"/><path d="M682.3,0L429.4,680" stroke="#d6d6d6" stroke-width="0.8" fill="none"/><path d="M720.7,0L521.8,680" stroke="#cccccc" stroke-width="0.9" fill="none"/><path d="M757.9,0L540.9,680" stroke="#d6d6d6" stroke-width="0.8" fill="none"/><path d="M789.8,0L559.8,680" stroke="#d6d6d6" stroke-width="0.8" fill="none"/><path d="M822.2,0L597,680" stroke="#d6d6d6" stroke-width="0.8" fill="none"/><path d="M867.6,0L614.5,680" stroke="#dcdcdc" stroke-width="0.7" fill="none"/><path d="M60,120.0L150,38" stroke="#c4c4c4" stroke-width="0.9" fill="none"/><path d="M60,124.5L154,38" stroke="#c4c4c4" stroke-width="0.9" fill="none"/><path d="M60,129.0L158,38" stroke="#c4c4c4" stroke-width="0.9" fill="none"/><path d="M60,133.5L162,38" stroke="#c4c4c4" stroke-width="0.9" fill="none"/><path d="M60,138.0L166,38" stroke="#c4c4c4" stroke-width="0.9" fill="none"/><path d="M60,190L215,32" stroke="#cfcfcf" stroke-width="0.8" fill="none"/><path d="M60,196L221,32" stroke="#cfcfcf" stroke-width="0.8" fill="none"/><path d="M60,202L227,32" stroke="#cfcfcf" stroke-width="0.8" fill="none"/><path d="M94.9,0L-103.3,680" stroke="#5a5a5a" stroke-width="1.0" fill="none"/><path d="M113.6,0L-93.3,680" stroke="#454545" stroke-width="0.85" fill="none"/><path d="M126.6,0L-74.4,680" stroke="#454545" stroke-width="0.85" fill="none"/><path d="M137.6,0L-64.9,680" stroke="#454545" stroke-width="1.0" fill="none"/><path d="M149.6,0L-53.2,680" stroke="#5a5a5a" stroke-width="0.85" fill="none"/><path d="M160.3,0L-44.4,680" stroke="#454545" stroke-width="0.85" fill="none"/><path d="M176.6,0L-22.1,680" stroke="#454545" stroke-width="1.0" fill="none"/><path d="M193.6,0L-3.5,680" stroke="#454545" stroke-width="0.85" fill="none"/><path d="M201.6,0L-2.8,680" stroke="#5a5a5a" stroke-width="0.85" fill="none"/><path d="M208.6,0L7.2,680" stroke="#454545" stroke-width="1.0" fill="none"/><path d="M213.6,0L2.8,680" stroke="#454545" stroke-width="0.85" fill="none"/><path d="M223.2,0L22.3,680" stroke="#454545" stroke-width="0.85" fill="none"/><path d="M233,0L31.3,680" stroke="#5a5a5a" stroke-width="1.0" fill="none"/><path d="M237.9,0L41.6,680" stroke="#454545" stroke-width="0.85" fill="none"/><path d="M247.6,0L48.6,680" stroke="#454545" stroke-width="0.85" fill="none"/><path d="M256.6,0L49.3,680" stroke="#454545" stroke-width="1.0" fill="none"/><path d="M267.6,0L61.8,680" stroke="#5a5a5a" stroke-width="0.85" fill="none"/><path d="M690,0L447,680" stroke="#444" stroke-width="1.0" fill="none"/><path d="M703,0L453,680" stroke="#444" stroke-width="0.85" fill="none"/><path d="M715.3,0L470.1,680" stroke="#444" stroke-width="0.85" fill="none"/><path d="M731,0L482.6,680" stroke="#444" stroke-width="1.0" fill="none"/><path d="M747,0L498,680" stroke="#444" stroke-width="0.85" fill="none"/><path d="M787,0L537.4,680" stroke="#444" stroke-width="0.85" fill="none"/><path d="M808.4,0L566.5,680" stroke="#444" stroke-width="1.0" fill="none"/><path d="M828,0L579.2,680" stroke="#444" stroke-width="0.85" fill="none"/><path d="M847.7,0L600.2,680" stroke="#444" stroke-width="0.85" fill="none"/><path d="M868,0L622,680" stroke="#444" stroke-width="1.0" fill="none"/><path d="M888,0L647.2,680" stroke="#444" stroke-width="0.85" fill="none"/><path d="M905,0L655.6,680" stroke="#444" stroke-width="0.85" fill="none"/><path d="M760,0L520,680" stroke="#666" stroke-width="0.7" fill="none"/><path d="M761.9,0L521.9,680" stroke="#666" stroke-width="0.7" fill="none"/><path d="M763.8,0L523.8,680" stroke="#666" stroke-width="0.7" fill="none"/><path d="M765.7,0L525.7,680" stroke="#666" stroke-width="0.7" fill="none"/><path d="M767.6,0L527.6,680" stroke="#666" stroke-width="0.7" fill="none"/><path d="M842,0L602,680" stroke="#666" stroke-width="0.7" fill="none"/><path d="M843.9,0L603.9,680" stroke="#666" stroke-width="0.7" fill="none"/><path d="M897,0L657,680" stroke="#666" stroke-width="0.7" fill="none"/><path d="M898.9,0L658.9,680" stroke="#666" stroke-width="0.7" fill="none"/><path d="M530,495C570,490 620,460 676,434" stroke="#cfcfcf" stroke-width="0.9" fill="none"/><path d="M560,600C600,640 650,590 676,560" stroke="#d8d8d8" stroke-width="0.9" fill="none"/><path d="M71,300L140,130" stroke="#b9cc6a" stroke-width="1" fill="none"/><path d="M71,370L185,60" stroke="#b9cc6a" stroke-width="1" fill="none"/><path d="M100,674L250,260" stroke="#b9cc6a" stroke-width="1" fill="none"/><path d="M585,674L676,420" stroke="#b9cc6a" stroke-width="1" fill="none"/><path d="M640,300L676,200" stroke="#b9cc6a" stroke-width="1" fill="none"/><path d="M60,148C75,147 82,145 89.4,141.8C104,135 115,122 125.4,111.6C140,98 155,86 167.8,74C185,58 200,46 212,34.8L222,28" stroke="#3a3a3a" stroke-width="1" fill="none"/><circle cx="89.4" cy="141.8" r="1.3" fill="#222"/><circle cx="77" cy="146" r="1.3" fill="#222"/><circle cx="213" cy="34" r="1.3" fill="#222"/><path d="M60,158C105,150 160,105 230,32" stroke="#9a9a9a" stroke-width="0.8" fill="none"/><path d="M71,396L120,320L172,245L262,110L300,40L312,0" stroke="#c8584a" stroke-width="0.9" stroke-dasharray="4 2" fill="none"/><path d="M71,400L150,275" stroke="#d46a5a" stroke-width="0.7" fill="none"/></g><g filter="url(#b05)"><polygon points="336.0,-5.0 690.0,-5.0 690.0,125.0 662.0,113.0 636.0,98.0 586.0,72.0 523.0,50.0 461.0,27.0 398.0,7.5 336.0,1.5" fill="#fff"/><path d="M384.7,-13.3 L402.7,-7.8 L466.2,11.9 L528.4,34.9 L592.3,57.3 L643.6,83.9 L669.4,98.8 L696.7,111.5" stroke="#3a3a3a" stroke-width="1.2" fill="none"/><path d="M385.6,-16.2 L403.6,-10.7 L467.1,9 L529.4,32.1 L593.4,54.5 L645,81.3 L670.7,96.1 L698,108.8" stroke="#9a9a9a" stroke-width="0.7" fill="none"/><path d="M386,3.8l5.6,-15.4M405.5,9.8l5.6,-15.4M426,16.2l5.6,-15.4M447,22.7l5.6,-15.4M472.5,31.3l5.6,-15.4M488.5,37.2l5.6,-15.4M509.5,45l5.6,-15.4M518.5,48.3l5.6,-15.4M522,49.6l5.6,-15.4M528,51.7l5.6,-15.4M537,54.9l5.6,-15.4M551,59.8l5.6,-15.4M572,67.1l5.6,-15.4M590,74.1l5.6,-15.4M602,80.3l5.6,-15.4M613.5,86.3l5.6,-15.4M631,95.4l5.6,-15.4M648,104.9l5.6,-15.4M664,113.9l5.6,-15.4" stroke="#505050" stroke-width="1" fill="none"/><path d="M518,-2L688,69.4" stroke="#4a4a4a" stroke-width="1.0" fill="none"/><path d="M530,-2L700,69.4" stroke="#8a8a8a" stroke-width="0.8" fill="none"/><path d="M577,-2L747,69.4" stroke="#4a4a4a" stroke-width="1.0" fill="none"/><path d="M584,-2L754,69.4" stroke="#777" stroke-width="0.8" fill="none"/><path d="M602,-2L772,69.4" stroke="#bdbdbd" stroke-width="2.2" fill="none"/><path d="M622,-2L792,69.4" stroke="#555" stroke-width="0.9" fill="none"/><path d="M640,-2L810,69.4" stroke="#999" stroke-width="0.7" fill="none"/><path d="M455,-2L530,24" stroke="#666" stroke-width="0.8" fill="none"/><circle cx="484" cy="15.5" r="1.6" fill="#222"/><circle cx="563" cy="35" r="1.2" fill="#222"/><path d="M382.6,-6.6 L400.7,-1.1 L463.9,18.5 L526,41.5 L589.5,63.7 L640.3,90.1 L666.1,105 L693.8,117.8" stroke="#f0e6a8" stroke-width="1.6" fill="none" opacity="0.6"/></g><polygon points="60.0,560.0 72.0,522.5 88.3,480.0 95.5,459.5 133.6,350.0 175.0,230.0 244.0,34.0 252.0,16.0 262.0,6.0 285.0,1.5 336.0,1.5 398.0,7.5 461.0,27.0 523.0,50.0 586.0,72.0 636.0,98.0 654.0,107.0 662.0,113.0 661.0,120.0 620.5,240.0 567.4,390.0 539.0,465.0 510.7,540.0 468.2,675.0 455.0,710.0 60.0,710.0" fill="#9fc868" stroke="#6d7f8c" stroke-width="1.6" stroke-linejoin="round"/><path d="M262,30C300,14 350,16 398,24L461,44L523,66L586,88L640,116" stroke="#c6d86a" stroke-width="3.5" fill="none" opacity="0.45" filter="url(#b1)"/><path d="M250,45L180,240L100,470" stroke="#b4d070" stroke-width="3" fill="none" opacity="0.4" filter="url(#b1)"/><polygon points="60.0,610.0 71.0,614.5 225.0,674.5 260.0,700.0 60.0,700.0" fill="#fff"/><g filter="url(#b05)"><clipPath id="wedgeR"><polygon points="60.0,610.0 71.0,614.5 225.0,674.5 260.0,700.0 60.0,700.0"/></clipPath><path d="M78,676l30.2,-72M92,676l30.2,-72M103,676l30.2,-72M112,676l30.2,-72M122,676l30.2,-72M137,676l30.2,-72M152,676l30.2,-72M168,676l30.2,-72M186,676l30.2,-72M203,676l30.2,-72M220,676l30.2,-72M238,676l30.2,-72" stroke="#444" stroke-width="1" fill="none" clip-path="url(#wedgeR)"/><path d="M60,610L71,614.5L225,674.5" stroke="#e8e39a" stroke-width="1.2" fill="none"/></g><polygon points="275.0,108.0 116.7,569.5 100.0,562.0 78.0,551.5 89.7,515.4 102.5,480.0 113.8,459.5 144.1,370.0 190.0,240.0 200.0,219.0 215.0,198.0 236.0,170.0 256.7,140.0 268.5,119.0 281.0,100.5 295.5,86.5 310.0,70.0 321.0,48.0 329.5,34.0 339.0,26.5 359.0,27.0 376.0,24.5" fill="#c5c5d2"/><polygon points="616.0,120.5 397.5,689.0 440.0,710.0 456.8,675.0 499.3,540.0 527.5,465.0 556.0,390.0 609.1,240.0 623.0,209.0 633.0,181.0 640.0,152.5 640.0,141.0 633.0,131.0 619.0,122.7" fill="#c5c5d2"/><polygon points="60.0,562.0 116.7,572.5 160.0,591.0 398.0,690.0 420.0,712.0 400.0,712.0 360.0,677.5 330.0,664.5 291.0,650.5 261.0,640.0 235.0,628.0 220.8,626.0 212.8,628.0 200.7,626.0 180.6,620.0 164.5,614.0 146.5,606.0 130.0,599.0 110.0,590.0 90.0,584.0 60.0,589.0" fill="#c5c5d2"/><path d="M520,84L616,122" stroke="#c5c5d2" stroke-width="3" fill="none"/><g fill="none" stroke="#c2a877" stroke-width="0.8" opacity="0.9"><path d="M262,128L215,262L188,340L163,410L140,470L120,520"/><path d="M624,132L590,232L520,440L478,560L446,650"/><path d="M85,578L150,598L240,636L330,676"/></g><path d="M312,0L300,40L270,95L235,150L200,205L175,245" stroke="#b08a55" stroke-width="0.9" stroke-dasharray="3 2" fill="none"/><g transform="translate(191,297) rotate(-71)"><rect x="-28.0" y="-8.75" width="56" height="17.5" rx="3" fill="#c9c6c0" stroke="#b7a46a" stroke-width="1"/><rect x="-24.0" y="-6.8" width="48" height="5.75" fill="#e3cfe3"/><rect x="-24.0" y="1" width="48" height="5.75" fill="#e3cfe3"/><path d="M-19.2,-6.75V6.75M-14.4,-6.75V6.75M-9.6,-6.75V6.75M-4.8,-6.75V6.75M0,-6.75V6.75M4.8,-6.75V6.75M9.6,-6.75V6.75M14.4,-6.75V6.75M19.2,-6.75V6.75" stroke="#cdb2cf" stroke-width="0.5" fill="none"/><rect x="-24.0" y="-6.75" width="7.2" height="5.75" fill="#e6e0a8"/></g><g transform="translate(522,421) rotate(-71)"><rect x="-28.0" y="-8.5" width="56" height="17" rx="3" fill="#c9c6c0" stroke="#b7a46a" stroke-width="1"/><rect x="-24.0" y="-6.5" width="48" height="5.5" fill="#e3cfe3"/><rect x="-24.0" y="1" width="48" height="5.5" fill="#e3cfe3"/><path d="M-19.2,-6.5V6.5M-14.4,-6.5V6.5M-9.6,-6.5V6.5M-4.8,-6.5V6.5M0,-6.5V6.5M4.8,-6.5V6.5M9.6,-6.5V6.5M14.4,-6.5V6.5M19.2,-6.5V6.5" stroke="#cdb2cf" stroke-width="0.5" fill="none"/><rect x="-24.0" y="-6.5" width="7.2" height="5.5" fill="#e6e0a8"/></g><g transform="translate(614,157) rotate(-71)"><rect x="-14.0" y="-6.5" width="28" height="13" rx="3" fill="#c9c6c0" stroke="#b7a46a" stroke-width="1"/><rect x="-10.0" y="-4.5" width="20" height="3.5" fill="#e3cfe3"/><rect x="-10.0" y="1" width="20" height="3.5" fill="#e3cfe3"/><path d="M-6,-4.5V4.5M-2,-4.5V4.5M2,-4.5V4.5M6,-4.5V4.5" stroke="#cdb2cf" stroke-width="0.5" fill="none"/><rect x="-10.0" y="-4.5" width="6.0" height="3.5" fill="#e6e0a8"/></g><g transform="translate(112,517) rotate(-71)"><rect x="-11.0" y="-8.5" width="22" height="17" rx="3" fill="#c9c6c0" stroke="#b7a46a" stroke-width="1"/><rect x="-7.0" y="-6.5" width="14" height="5.5" fill="#e3cfe3"/><rect x="-7.0" y="1" width="14" height="5.5" fill="#e3cfe3"/><path d="M-3.5,-6.5V6.5M0,-6.5V6.5M3.5,-6.5V6.5" stroke="#cdb2cf" stroke-width="0.5" fill="none"/><rect x="-7.0" y="-6.5" width="5.2" height="5.5" fill="#e6e0a8"/></g><g transform="translate(444,638) rotate(-71)"><rect x="-12.0" y="-8.0" width="24" height="16" rx="3" fill="#c9c6c0" stroke="#b7a46a" stroke-width="1"/><rect x="-8.0" y="-6" width="16" height="5.0" fill="#e3cfe3"/><rect x="-8.0" y="1" width="16" height="5.0" fill="#e3cfe3"/><path d="M-4.8,-6.0V6.0M-1.6,-6.0V6.0M1.6,-6.0V6.0M4.8,-6.0V6.0" stroke="#cdb2cf" stroke-width="0.5" fill="none"/><rect x="-8.0" y="-6.0" width="4.8" height="5.0" fill="#e6e0a8"/></g><g transform="translate(420,636) rotate(-71)"><rect x="-18.0" y="-3.75" width="36" height="7.5" rx="3" fill="#c9c6c0" stroke="#b7a46a" stroke-width="1"/><rect x="-14.0" y="-1.8" width="28" height="0.75" fill="#e3cfe3"/><rect x="-14.0" y="1" width="28" height="0.75" fill="#e3cfe3"/><path d="M-10.5,-1.75V1.75M-7,-1.75V1.75M-3.5,-1.75V1.75M0,-1.75V1.75M3.5,-1.75V1.75M7,-1.75V1.75M10.5,-1.75V1.75" stroke="#cdb2cf" stroke-width="0.5" fill="none"/><rect x="-14.0" y="-1.75" width="5.2" height="0.75" fill="#e6e0a8"/></g><path d="M180,351.2l10,3.1" stroke="#fff" stroke-width="3.8" fill="none"/><path d="M177,359.8l10,3.1" stroke="#fff" stroke-width="3.8" fill="none"/><path d="M174.1,368.5l10,3.1" stroke="#fff" stroke-width="3.8" fill="none"/><path d="M171.1,377.1l10,3.1" stroke="#fff" stroke-width="3.8" fill="none"/><path d="M168.1,385.8l10,3.1" stroke="#fff" stroke-width="3.8" fill="none"/><path d="M165.2,394.4l10,3.1" stroke="#fff" stroke-width="3.8" fill="none"/><path d="M162.2,403l10,3.1" stroke="#fff" stroke-width="3.8" fill="none"/><path d="M159.2,411.7l10,3.1" stroke="#fff" stroke-width="3.8" fill="none"/><path d="M156.2,420.3l10,3.1" stroke="#fff" stroke-width="3.8" fill="none"/><path d="M153.3,429l10,3.1" stroke="#fff" stroke-width="3.8" fill="none"/><path d="M150.3,437.6l10,3.1" stroke="#fff" stroke-width="3.8" fill="none"/><path d="M147.3,446.2l10,3.1" stroke="#fff" stroke-width="3.8" fill="none"/><path d="M144.4,454.9l10,3.1" stroke="#fff" stroke-width="3.8" fill="none"/><path d="M141.4,463.5l10,3.1" stroke="#fff" stroke-width="3.8" fill="none"/><path d="M138.4,472.2l10,3.1" stroke="#fff" stroke-width="3.8" fill="none"/><path d="M135.4,480.8l10,3.1" stroke="#fff" stroke-width="3.8" fill="none"/><path d="M591.2,193l4.7,1.7" stroke="#fff" stroke-width="3.6" fill="none"/><path d="M587.9,201.7l4.7,1.7" stroke="#fff" stroke-width="3.6" fill="none"/><path d="M584.6,210.4l4.7,1.7" stroke="#fff" stroke-width="3.6" fill="none"/><path d="M581.3,219l4.7,1.7" stroke="#fff" stroke-width="3.6" fill="none"/><path d="M578,227.7l4.7,1.7" stroke="#fff" stroke-width="3.6" fill="none"/><path d="M574.7,236.4l4.7,1.7" stroke="#fff" stroke-width="3.6" fill="none"/><path d="M571.4,245.1l4.7,1.7" stroke="#fff" stroke-width="3.6" fill="none"/><path d="M568.1,253.8l4.7,1.7" stroke="#fff" stroke-width="3.6" fill="none"/><path d="M564.8,262.4l4.7,1.7" stroke="#fff" stroke-width="3.6" fill="none"/><path d="M561.5,271.1l4.7,1.7" stroke="#fff" stroke-width="3.6" fill="none"/><path d="M558.2,279.8l4.7,1.7" stroke="#fff" stroke-width="3.6" fill="none"/><path d="M554.9,288.5l4.7,1.7" stroke="#fff" stroke-width="3.6" fill="none"/><path d="M551.6,297.2l4.7,1.7" stroke="#fff" stroke-width="3.6" fill="none"/><path d="M548.3,305.8l4.7,1.7" stroke="#fff" stroke-width="3.6" fill="none"/><path d="M545,314.5l4.7,1.7" stroke="#fff" stroke-width="3.6" fill="none"/><path d="M541.7,323.2l4.7,1.7" stroke="#fff" stroke-width="3.6" fill="none"/><path d="M538.4,331.9l4.7,1.7" stroke="#fff" stroke-width="3.6" fill="none"/><path d="M535.1,340.6l4.7,1.7" stroke="#fff" stroke-width="3.6" fill="none"/><path d="M531.8,349.2l4.7,1.7" stroke="#fff" stroke-width="3.6" fill="none"/><path d="M528.5,357.9l4.7,1.7" stroke="#fff" stroke-width="3.6" fill="none"/><path d="M480.2,471l12.2,4.4" stroke="#fff" stroke-width="3.8" fill="none"/><path d="M476.9,479.7l12.2,4.4" stroke="#fff" stroke-width="3.8" fill="none"/><path d="M473.6,488.4l12.2,4.4" stroke="#fff" stroke-width="3.8" fill="none"/><path d="M470.3,497.1l12.2,4.4" stroke="#fff" stroke-width="3.8" fill="none"/><path d="M467,505.8l12.2,4.4" stroke="#fff" stroke-width="3.8" fill="none"/><path d="M463.7,514.5l12.2,4.4" stroke="#fff" stroke-width="3.8" fill="none"/><path d="M460.4,523.2l12.2,4.4" stroke="#fff" stroke-width="3.8" fill="none"/><path d="M457.1,531.9l12.2,4.4" stroke="#fff" stroke-width="3.8" fill="none"/><path d="M453.8,540.6l12.2,4.4" stroke="#fff" stroke-width="3.8" fill="none"/><path d="M450.5,549.3l12.2,4.4" stroke="#fff" stroke-width="3.8" fill="none"/><path d="M447.2,558l12.2,4.4" stroke="#fff" stroke-width="3.8" fill="none"/><path d="M443.9,566.7l12.2,4.4" stroke="#fff" stroke-width="3.8" fill="none"/><path d="M440.6,575.4l12.2,4.4" stroke="#fff" stroke-width="3.8" fill="none"/><path d="M437.3,584.1l12.2,4.4" stroke="#fff" stroke-width="3.8" fill="none"/><path d="M434,592.8l12.2,4.4" stroke="#fff" stroke-width="3.8" fill="none"/><path d="M171,343.5l20,7" stroke="#43c8b0" stroke-width="1.8" fill="none"/><path d="M519,371l20,7" stroke="#43c8b0" stroke-width="1.8" fill="none"/><path d="M493,459l17,6" stroke="#43c8b0" stroke-width="1.8" fill="none"/><path d="M150.5,606.6L173.6,614.7" stroke="#fff" stroke-width="3.6" fill="none"/><path d="M172.6,601.2L197.7,611.3" stroke="#fff" stroke-width="4" fill="none"/><path d="M171,606.5L187,612.5" stroke="#aee65a" stroke-width="5.5" fill="none"/><path d="M195,616L210,621.5" stroke="#aee6e0" stroke-width="3.5" fill="none" opacity="0.8"/><circle cx="190.3" cy="613.9" r="1.7" fill="#e06030"/><path d="M212.8,628L207,645L202.7,658" stroke="#c4c4c9" stroke-width="4.5" fill="none"/><path d="M203,656.5l-3,4.5 6,0z" fill="#d03030" stroke="#d03030" stroke-width="0.8"/><path d="M259,654l50,17.5" stroke="#8fdcc8" stroke-width="3" fill="none" opacity="0.7" stroke-dasharray="2 1"/><polygon points="376.0,24.5 616.0,120.5 397.5,689.0 116.0,569.0 275.0,108.0" fill="#d8d8d8"/><text x="92" y="56" font-size="4.6" fill="#1c1c1c" text-anchor="start" font-weight="bold" class="sans" opacity="0.9">11592</text><text x="138" y="38" font-size="4.6" fill="#1c1c1c" text-anchor="start" font-weight="bold" class="sans" opacity="0.9">11593</text><text x="184" y="43" font-size="4.6" fill="#1c1c1c" text-anchor="start" font-weight="bold" class="sans" opacity="0.9">11583</text><text x="194" y="82" font-size="4.6" fill="#1c1c1c" text-anchor="start" font-weight="bold" class="sans" opacity="0.9">11972</text><text x="122" y="99" font-size="4.6" fill="#1c1c1c" text-anchor="start" font-weight="bold" class="sans" opacity="0.9">11977</text><text x="163" y="93" font-size="4.6" fill="#1c1c1c" text-anchor="start" font-weight="bold" class="sans" opacity="0.9">11975</text><text x="100" y="186" font-size="4.6" fill="#1c1c1c" text-anchor="start" font-weight="bold" class="sans" opacity="0.9">11984</text><text x="160" y="274" font-size="4.6" fill="#1c1c1c" text-anchor="start" font-weight="bold" class="sans" opacity="0.9">11985</text><text x="152" y="263" font-size="4.6" fill="#1c1c1c" text-anchor="start" font-weight="bold" class="sans" opacity="0.9">11981</text><text x="96" y="417" font-size="4.6" fill="#1c1c1c" text-anchor="start" font-weight="bold" class="sans" opacity="0.9">13326</text><text x="561" y="491" font-size="4.6" fill="#1c1c1c" text-anchor="start" font-weight="bold" class="sans" opacity="0.9">124917</text><text x="559" y="473" font-size="4.6" fill="#1c1c1c" text-anchor="start" font-weight="bold" class="sans" opacity="0.9">124918</text><text x="563" y="552" font-size="4.6" fill="#1c1c1c" text-anchor="start" font-weight="bold" class="sans" opacity="0.9">124974</text><text x="572" y="422" font-size="4.6" fill="#1c1c1c" text-anchor="start" font-weight="bold" class="sans" opacity="0.9">13362</text><text x="616" y="420" font-size="4.6" fill="#1c1c1c" text-anchor="start" font-weight="bold" class="sans" opacity="0.9">124428</text><text x="634" y="433" font-size="4.6" fill="#1c1c1c" text-anchor="start" font-weight="bold" class="sans" opacity="0.9">124915</text><text x="642" y="468" font-size="4.6" fill="#1c1c1c" text-anchor="start" font-weight="bold" class="sans" opacity="0.9">124976</text><text x="648" y="497" font-size="4.6" fill="#1c1c1c" text-anchor="start" font-weight="bold" class="sans" opacity="0.9">124721</text><text x="656" y="530" font-size="4.6" fill="#1c1c1c" text-anchor="start" font-weight="bold" class="sans" opacity="0.9">124915</text><text x="656" y="539" font-size="4.6" fill="#1c1c1c" text-anchor="start" font-weight="bold" class="sans" opacity="0.9">129216</text><text x="499" y="654" font-size="4.6" fill="#1c1c1c" text-anchor="start" font-weight="bold" class="sans" opacity="0.9">124977</text><text x="472" y="8" font-size="4.6" fill="#1c1c1c" text-anchor="start" font-weight="bold" class="sans" opacity="0.9">124790</text><text x="520" y="36" font-size="4.6" fill="#1c1c1c" text-anchor="start" font-weight="bold" class="sans" opacity="0.9">47808</text><text x="488" y="16" font-size="4.6" fill="#1c1c1c" text-anchor="start" font-weight="bold" class="sans" opacity="0.9">12439</text><text x="556" y="40" font-size="4.6" fill="#1c1c1c" text-anchor="start" font-weight="bold" class="sans" opacity="0.9">12284</text><text x="584" y="52" font-size="4.6" fill="#1c1c1c" text-anchor="start" font-weight="bold" class="sans" opacity="0.9">12284</text><text x="607" y="60" font-size="4.6" fill="#1c1c1c" text-anchor="start" font-weight="bold" class="sans" opacity="0.9">12359</text><text x="430" y="2" font-size="4.6" fill="#1c1c1c" text-anchor="start" font-weight="bold" class="sans" opacity="0.9">47807</text><text x="640" y="18" font-size="4.6" fill="#1c1c1c" text-anchor="start" font-weight="bold" class="sans" opacity="0.9">12317</text><text x="652" y="28" font-size="4.6" fill="#1c1c1c" text-anchor="start" font-weight="bold" class="sans" opacity="0.9">11501</text><text x="668" y="88" font-size="4.6" fill="#1c1c1c" text-anchor="start" font-weight="bold" class="sans" opacity="0.9">126701</text><text x="668" y="95" font-size="4.6" fill="#1c1c1c" text-anchor="start" font-weight="bold" class="sans" opacity="0.9">128702</text><rect x="106" y="249" width="11" height="5" fill="#fff" stroke="#d23c3c" stroke-width="0.9"/><path d="M107.5,251.5h8" stroke="#e07070" stroke-width="2.4" stroke-dasharray="2.2 0.7" fill="none"/><rect x="131" y="266" width="11" height="5" fill="#fff" stroke="#d23c3c" stroke-width="0.9"/><path d="M132.5,268.5h8" stroke="#e07070" stroke-width="2.4" stroke-dasharray="2.2 0.7" fill="none"/><rect x="80" y="312" width="11" height="5" fill="#fff" stroke="#d23c3c" stroke-width="0.9"/><path d="M81.5,314.5h8" stroke="#e07070" stroke-width="2.4" stroke-dasharray="2.2 0.7" fill="none"/><rect x="115" y="160" width="11" height="5" fill="#fff" stroke="#d23c3c" stroke-width="0.9"/><path d="M116.5,162.5h8" stroke="#e07070" stroke-width="2.4" stroke-dasharray="2.2 0.7" fill="none"/><path d="M133,90h6M136,87v6M133,172h6M136,169v6M630,338h6M633,335v6M630,255h6M633,252v6M546,503h6M549,500v6M629,503h6M632,500v6M546,585h6M549,582v6M629,585h6M632,582v6M546,668h6M549,665v6M629,668h6M632,665v6M133,667h6M136,664v6" stroke="#bfd46a" stroke-width="0.8" fill="none"/>
</g>
<g clip-path="url(#survR)"><rect x="0" y="0" width="1343" height="700" fill="#f8f37c"/><g filter="url(#b05)"><mask id="tR1" maskUnits="userSpaceOnUse" x="688" y="-12" width="384" height="264"><rect x="697" y="-3" width="366" height="246" fill="#fff" filter="url(#b2)"/></mask><g mask="url(#tR1)"><rect x="688" y="-12" width="384" height="264" fill="#f8f37c"/><path d="M927.6,108.7 L971.9,71.5 L1000.6,99.1 L979.1,168.6 L971.9,245.3 L895.2,245.3 L895.2,192.5Z" fill="#f3ec98"  opacity="0.9"/><path d="M1089.3,120.6C1091.7,118.3 1099.3,118.3 1103.7,115.9C1108.1,113.5 1111.7,110.3 1115.7,106.3C1119.7,102.3 1123.7,93.1 1127.7,91.9C1131.6,90.7 1135.6,95.9 1139.6,99.1C1143.6,102.3 1147.6,107.5 1151.6,111.1C1155.6,114.7 1161.6,110.3 1163.6,120.6C1165.6,131 1166,165.4 1163.6,173.4C1161.2,181.4 1153.2,171 1149.2,168.6C1145.2,166.2 1143.2,161.4 1139.6,159C1136,156.6 1131.6,154.2 1127.7,154.2C1123.7,154.2 1119.3,157.4 1115.7,159C1112.1,160.6 1109.3,164.2 1106.1,163.8C1102.9,163.4 1098.9,159.8 1096.5,156.6C1094.1,153.4 1091.3,148.2 1091.7,144.6C1092.1,141 1099.3,137.4 1098.9,135C1098.5,132.6 1090.9,132.6 1089.3,130.2C1087.7,127.8 1086.9,123 1089.3,120.6Z" fill="#cfe672" /><path d="M1137.2,159C1138.8,156.2 1144.8,154.6 1149.2,154.2C1153.6,153.8 1161.2,151.8 1163.6,156.6C1166,161.4 1166,179 1163.6,183C1161.2,186.9 1153.2,182.6 1149.2,180.6C1145.2,178.6 1141.6,174.6 1139.6,171C1137.6,167.4 1135.6,161.8 1137.2,159Z" fill="#f8f37c" /><path d="M1005.4,197.3C1008.2,194.9 1008.6,189.7 1012.6,187.7C1016.6,185.7 1023.4,186.9 1029.4,185.3C1035.4,183.8 1043,179.8 1048.6,178.2C1054.2,176.6 1059,174.2 1063,175.8C1066.9,177.4 1068.1,184.9 1072.5,187.7C1076.9,190.5 1084.9,189.3 1089.3,192.5C1093.7,195.7 1094.5,203.7 1098.9,206.9C1103.3,210.1 1110.9,211.3 1115.7,211.7C1120.5,212.1 1123.7,208.1 1127.7,209.3C1131.6,210.5 1138,215.3 1139.6,218.9C1141.2,222.5 1140,226.5 1137.2,230.9C1134.4,235.3 1134.4,242.9 1122.9,245.3C1111.3,247.7 1076.5,248.5 1067.7,245.3C1059,242.1 1071.7,230.9 1070.1,226.1C1068.5,221.3 1062.6,217.7 1058.2,216.5C1053.8,215.3 1048.6,216.9 1043.8,218.9C1039,220.9 1033.4,228.5 1029.4,228.5C1025.4,228.5 1023.8,220.1 1019.8,218.9C1015.8,217.7 1010.2,221.3 1005.4,221.3C1000.6,221.3 994.3,220.9 991.1,218.9C987.9,216.9 985.5,212.1 986.3,209.3C987.1,206.5 992.7,204.1 995.9,202.1C999,200.1 1002.6,199.7 1005.4,197.3Z" fill="#cfe672" /></g><mask id="tR2" maskUnits="userSpaceOnUse" x="1048" y="-12" width="307" height="264"><rect x="1057" y="-3" width="289" height="246" fill="#fff" filter="url(#b2)"/></mask><g mask="url(#tR2)"><rect x="1048" y="-12" width="307" height="264" fill="#cfe672"/><path d="M1055.2,34.4C1064,30.8 1093.9,52 1107.9,58.3C1121.9,64.7 1130.3,68.7 1139.1,72.7C1147.9,76.7 1158.7,79.1 1160.6,82.3C1162.6,85.5 1155.9,91.1 1151.1,91.9C1146.3,92.7 1136.7,87.1 1131.9,87.1C1127.1,87.1 1126.3,92.7 1122.3,91.9C1118.3,91.1 1112.3,83.5 1107.9,82.3C1103.5,81.1 1099.1,84.7 1095.9,84.7C1092.8,84.7 1092.4,83.5 1088.8,82.3C1085.2,81.1 1080,77.9 1074.4,77.5C1068.8,77.1 1058.4,87.1 1055.2,79.9C1052,72.7 1046.4,38 1055.2,34.4Z" fill="#f8f37c" /><path d="M1055.2,135C1058.4,127 1068.8,138.2 1074.4,139.8C1080,141.4 1084.8,142.2 1088.8,144.6C1092.8,147 1098.3,151 1098.3,154.2C1098.3,157.4 1091.2,160.2 1088.8,163.8C1086.4,167.4 1083.6,171.8 1084,175.8C1084.4,179.8 1092,184.9 1091.2,187.7C1090.4,190.5 1085.2,192.5 1079.2,192.5C1073.2,192.5 1059.2,197.3 1055.2,187.7C1051.2,178.2 1052,143 1055.2,135Z" fill="#f8f37c" /><path d="M1081.6,228.5C1083.6,224.5 1089.6,221.7 1093.5,221.3C1097.5,220.9 1103.1,222.1 1105.5,226.1C1107.9,230.1 1111.9,242.1 1107.9,245.3C1103.9,248.5 1086,248.1 1081.6,245.3C1077.2,242.5 1079.6,232.5 1081.6,228.5Z" fill="#f8f37c" /><path d="M1055.2,204.5C1057.2,200.9 1064.4,204.5 1067.2,206.9C1070,209.3 1072,215.3 1072,218.9C1072,222.5 1070,226.9 1067.2,228.5C1064.4,230.1 1057.2,232.5 1055.2,228.5C1053.2,224.5 1053.2,208.1 1055.2,204.5Z" fill="#f8f37c" /><path d="M1208.6,115.9 L1268.5,120.6 L1227.7,245.3 L1199,245.3 L1213.4,187.7Z" fill="#f3ec98"  opacity="0.9"/></g><mask id="tR3" maskUnits="userSpaceOnUse" x="688" y="228" width="364" height="234"><rect x="697" y="237" width="346" height="216" fill="#fff" filter="url(#b2)"/></mask><g mask="url(#tR3)"><rect x="688" y="228" width="364" height="234" fill="#f8f37c"/><path d="M886.3,225.2 L924.6,225.2 L895.9,325.9 L859.9,455.3 L809.6,455.3Z" fill="#f3ec98"  opacity="0.9"/><path d="M1038.4,309.1C1040,305.5 1045,301.5 1049.2,299.5C1053.4,297.5 1061.2,292.7 1063.6,297.1C1066,301.5 1066,320.7 1063.6,325.9C1061.2,331 1053.2,329 1049.2,328.3C1045.2,327.5 1041.4,324.3 1039.6,321.1C1037.8,317.9 1036.8,312.7 1038.4,309.1Z" fill="#cfe672" /><path d="M1049.2,349.8C1051.2,346.6 1061.2,344.2 1063.6,347.4C1066,350.6 1065.6,365.8 1063.6,369C1061.6,372.2 1054,369.8 1051.6,366.6C1049.2,363.4 1047.2,353 1049.2,349.8Z" fill="#cfe672" /><path d="M1054,265.9C1055.2,260.8 1062,258.4 1063.6,263.5C1065.2,268.7 1064.8,291.9 1063.6,297.1C1062.4,302.3 1058,299.9 1056.4,294.7C1054.8,289.5 1052.8,271.1 1054,265.9Z" fill="#cfe672" /><path d="M960.6,407.3C961.4,401.7 964.9,396.1 967.7,393C970.5,389.8 974.5,387.4 977.3,388.2C980.1,389 980.1,395.3 984.5,397.7C988.9,400.1 998.5,400.9 1003.7,402.5C1008.9,404.1 1011.3,407.3 1015.7,407.3C1020.1,407.3 1025.3,403.7 1030.1,402.5C1034.8,401.3 1040.8,398.9 1044.4,400.1C1048,401.3 1048.4,407.7 1051.6,409.7C1054.8,411.7 1061.6,404.5 1063.6,412.1C1065.6,419.7 1082,448.1 1063.6,455.3C1045.2,462.4 971.7,458.1 953.4,455.3C935,452.5 951.8,443.3 953.4,438.5C955,433.7 961.8,431.7 963,426.5C964.2,421.3 959.8,412.9 960.6,407.3Z" fill="#cfe672" /><path d="M978.5,251.6C978.1,248.4 982.3,244 984.5,239.6C986.7,235.2 988.9,227.6 991.7,225.2C994.5,222.8 999.7,223.6 1001.3,225.2C1002.9,226.8 1002.1,230.8 1001.3,234.8C1000.5,238.8 998.9,245.2 996.5,249.2C994.1,253.2 989.9,258.4 986.9,258.8C983.9,259.2 978.9,254.8 978.5,251.6Z" fill="#cfe672" /><path d="M1027.7,225.2C1030.1,222.8 1044,223.2 1046.8,225.2C1049.6,227.2 1046.8,234.8 1044.4,237.2C1042,239.6 1035.2,241.6 1032.4,239.6C1029.7,237.6 1025.3,227.6 1027.7,225.2Z" fill="#cfe672" /><path d="M942.6,225.2C944,223.2 951.6,223.4 953.4,225.2C955.2,227 954.8,234 953.4,236C952,238 946.8,239 945,237.2C943.2,235.4 941.2,227.2 942.6,225.2Z" fill="#cfe672" /></g><mask id="tR4" maskUnits="userSpaceOnUse" x="1028" y="228" width="327" height="234"><rect x="1037" y="237" width="309" height="216" fill="#fff" filter="url(#b2)"/></mask><g mask="url(#tR4)"><rect x="1028" y="228" width="327" height="234" fill="#f8f37c"/><path d="M1187.7,225.2 L1230.9,225.2 L1139.8,455.3 L1120.6,455.3 L1154.2,349.8Z" fill="#f3ec98"  opacity="0.9"/><path d="M1064.3,239.6C1065.1,235.2 1069.7,227.6 1077.5,225.2C1085.3,222.8 1104.7,222.4 1111.1,225.2C1117.5,228 1114.7,236.4 1115.9,242C1117.1,247.6 1118.3,254 1118.3,258.8C1118.3,263.5 1118.3,267.9 1115.9,270.7C1113.5,273.5 1107.5,276.3 1103.9,275.5C1100.3,274.7 1097.1,269.5 1094.3,265.9C1091.5,262.4 1090.7,256.4 1087.1,254C1083.5,251.6 1076.5,254 1072.7,251.6C1068.9,249.2 1063.5,244 1064.3,239.6Z" fill="#cfe672" /><path d="M1015.2,251.6C1017.6,248 1026.8,253.6 1029.6,256.4C1032.4,259.2 1032.4,264.7 1032,268.3C1031.6,271.9 1030,276.3 1027.2,277.9C1024.4,279.5 1017.2,282.3 1015.2,277.9C1013.2,273.5 1012.8,255.2 1015.2,251.6Z" fill="#cfe672" /><path d="M1015.2,364.2C1017.6,359.6 1026.4,363.4 1029.6,365.4C1032.8,367.4 1034.4,372.4 1034.4,376.2C1034.4,380 1032.8,385.4 1029.6,388.2C1026.4,391 1017.6,396.9 1015.2,393C1012.8,389 1012.8,368.8 1015.2,364.2Z" fill="#cfe672" /><path d="M1015.2,407.3C1018.4,398.9 1028.8,404.1 1034.4,404.9C1040,405.7 1044.8,409.3 1048.8,412.1C1052.8,414.9 1055.1,418.5 1058.3,421.7C1061.5,424.9 1063.9,428.9 1067.9,431.3C1071.9,433.7 1078.3,432.1 1082.3,436.1C1086.3,440.1 1103.1,452.1 1091.9,455.3C1080.7,458.5 1028,463.2 1015.2,455.3C1002.4,447.3 1012,415.7 1015.2,407.3Z" fill="#cfe672" /><path d="M1144.6,225.2C1153.8,222.4 1192.9,222.4 1202.1,225.2C1211.3,228 1202.1,237.6 1199.7,242C1197.3,246.4 1192.9,250.4 1187.7,251.6C1182.6,252.8 1174.2,249.2 1168.6,249.2C1163,249.2 1157.8,252.8 1154.2,251.6C1150.6,250.4 1148.6,246.4 1147,242C1145.4,237.6 1135.4,228 1144.6,225.2Z" fill="#cfe672" /><path d="M1015.2,225.2C1020,223.2 1039.6,223.2 1044,225.2C1048.4,227.2 1044,234.8 1041.6,237.2C1039.2,239.6 1034,239.6 1029.6,239.6C1025.2,239.6 1017.6,239.6 1015.2,237.2C1012.8,234.8 1010.4,227.2 1015.2,225.2Z" fill="#cfe672" /></g><mask id="tR5" maskUnits="userSpaceOnUse" x="688" y="438" width="304" height="274"><rect x="697" y="447" width="286" height="256" fill="#fff" filter="url(#b2)"/></mask><g mask="url(#tR5)"><rect x="688" y="438" width="304" height="274" fill="#f8f37c"/><path d="M813.5,435.2 L829.1,435.2 L797.9,569.4 L766.8,569.4Z" fill="#f3ec98"  opacity="0.8"/><path d="M951.3,444.8C952.1,441.6 952.9,436.8 960.9,435.2C968.9,433.6 992.4,432 999.2,435.2C1006,438.4 1003.2,449.2 1001.6,454.4C1000,459.6 993.6,463.6 989.6,466.4C985.6,469.2 981.6,472.4 977.7,471.2C973.7,470 969.3,462 965.7,459.2C962.1,456.4 958.5,456.8 956.1,454.4C953.7,452 950.5,448 951.3,444.8Z" fill="#cfe672" /><path d="M1001.6,461.6C1003.2,459.2 1011.6,457.2 1013.6,459.2C1015.6,461.2 1015.2,471.2 1013.6,473.5C1012,475.9 1006,475.5 1004,473.5C1002,471.6 1000,464 1001.6,461.6Z" fill="#cfe672" /><path d="M1004,490.3C1005.2,485.5 1012,483.1 1013.6,487.9C1015.2,492.7 1014.8,514.3 1013.6,519.1C1012.4,523.9 1008,521.5 1006.4,516.7C1004.8,511.9 1002.8,495.1 1004,490.3Z" fill="#cfe672" /><path d="M809.9,447.2C813.1,443.2 816.7,437.2 829.1,435.2C841.5,433.2 873.4,432 884.2,435.2C895,438.4 888.2,449.6 893.8,454.4C899.4,459.2 911.4,459.2 917.7,464C924.1,468.8 928.1,477.1 932.1,483.1C936.1,489.1 936.9,495.1 941.7,499.9C946.5,504.7 955.3,508.7 960.9,511.9C966.5,515.1 970.5,515.1 975.3,519.1C980.1,523.1 983.2,531.5 989.6,535.9C996,540.2 1009.6,530.3 1013.6,545.4C1017.6,560.6 1016.8,615.7 1013.6,626.9C1010.4,638.1 1000,618.1 994.4,612.5C988.8,606.9 984.8,599 980.1,593.4C975.3,587.8 969.7,583.8 965.7,579C961.7,574.2 960.1,569 956.1,564.6C952.1,560.2 946.5,555.8 941.7,552.6C936.9,549.4 931.3,548.2 927.3,545.4C923.3,542.6 921.7,539 917.7,535.9C913.8,532.7 908.2,529.5 903.4,526.3C898.6,523.1 893.8,519.9 889,516.7C884.2,513.5 878.6,511.1 874.6,507.1C870.6,503.1 869,496.3 865,492.7C861,489.1 855.4,487.9 850.6,485.5C845.9,483.1 841.1,481.5 836.3,478.3C831.5,475.1 826.3,469.6 821.9,466.4C817.5,463.2 811.9,462.4 809.9,459.2C807.9,456 806.7,451.2 809.9,447.2Z" fill="#f7d98a"  stroke="#8a6a3a" stroke-width="0.7" stroke-opacity="0.35"/><path d="M953.7,552.6C954.1,549.4 961.3,546.6 965.7,545.4C970.1,544.2 975.3,543.8 980.1,545.4C984.8,547 988.8,551.8 994.4,555C1000,558.2 1010.4,555.8 1013.6,564.6C1016.8,573.4 1016,602.2 1013.6,607.7C1011.2,613.3 1003.2,601.8 999.2,598.2C995.2,594.6 993.2,590.2 989.6,586.2C986,582.2 982,577.8 977.7,574.2C973.3,570.6 967.3,568.2 963.3,564.6C959.3,561 953.3,555.8 953.7,552.6Z" fill="#f2ac70"  stroke="#8a6a3a" stroke-width="0.7" stroke-opacity="0.5"/></g><mask id="tR6" maskUnits="userSpaceOnUse" x="968" y="438" width="387" height="274"><rect x="977" y="447" width="369" height="256" fill="#fff" filter="url(#b2)"/></mask><g mask="url(#tR6)"><rect x="968" y="438" width="387" height="274" fill="#f8f37c"/><path d="M945.2,445.2C955.2,442.4 995.5,442.8 1005.1,445.2C1014.7,447.6 1004.7,455.6 1002.7,459.6C1000.7,463.6 997.1,467.2 993.1,469.2C989.1,471.2 983.5,472.4 978.8,471.6C974,470.8 970,466 964.4,464.4C958.8,462.8 948.4,465.2 945.2,462C942,458.8 935.2,448 945.2,445.2Z" fill="#cfe672" /><path d="M1050.6,445.2C1055.8,443.6 1079.4,443.2 1084.2,445.2C1089,447.2 1083,454.8 1079.4,457.2C1075.8,459.6 1067,460 1062.6,459.6C1058.2,459.2 1055,457.2 1053,454.8C1051,452.4 1045.5,446.8 1050.6,445.2Z" fill="#cfe672" /><path d="M945.2,605.8C947.6,600.2 955.6,611.8 959.6,615.3C963.6,618.9 966,622.9 969.2,627.3C972.4,631.7 978,636.9 978.8,641.7C979.6,646.5 979.6,654.9 974,656.1C968.4,657.3 950,657.3 945.2,648.9C940.4,640.5 942.8,611.4 945.2,605.8Z" fill="#cfe672" /><path d="M974,632.1C978,624.1 988.3,626.5 997.9,627.3C1007.5,628.1 1025.9,628.9 1031.5,636.9C1037.1,644.9 1041.1,668.9 1031.5,675.3C1021.9,681.6 983.5,682.4 974,675.3C964.4,668.1 970,640.1 974,632.1Z" fill="#e8ec80"  opacity="0.8" filter="url(#b1)"/><path d="M945.2,507.5C948.4,497.9 958.8,509.9 964.4,512.3C970,514.7 973.2,519.1 978.8,521.9C984.3,524.7 990.7,526.7 997.9,529.1C1005.1,531.5 1014.7,532.7 1021.9,536.3C1029.1,539.9 1037.1,545.9 1041.1,550.6C1045.1,555.4 1045.9,560.2 1045.9,565C1045.9,569.8 1040.3,575.4 1041.1,579.4C1041.9,583.4 1046.7,585.8 1050.6,589C1054.6,592.2 1060.6,594.6 1065,598.6C1069.4,602.6 1076.2,607.4 1077,613C1077.8,618.5 1072.6,626.1 1069.8,632.1C1067,638.1 1062.6,641.7 1060.2,648.9C1057.8,656.1 1060.2,670.9 1055.4,675.3C1050.6,679.7 1035.5,680.8 1031.5,675.3C1027.5,669.7 1033.1,649.7 1031.5,641.7C1029.9,633.7 1025.9,631.3 1021.9,627.3C1017.9,623.3 1012.3,620.1 1007.5,617.7C1002.7,615.3 997.9,615.3 993.1,613C988.3,610.6 983.5,608.2 978.8,603.4C974,598.6 970,589.8 964.4,584.2C958.8,578.6 948.4,582.6 945.2,569.8C942,557 942,517.1 945.2,507.5Z" fill="#f7d98a"  stroke="#8a6a3a" stroke-width="0.7" stroke-opacity="0.35"/><path d="M945.2,517.1C948,511.1 958,514.7 962,517.1C966,519.5 966.8,527.1 969.2,531.5C971.6,535.9 972.4,540.7 976.4,543.5C980.4,546.3 987.9,545.1 993.1,548.3C998.3,551.4 1002.7,558.2 1007.5,562.6C1012.3,567 1017.5,570.2 1021.9,574.6C1026.3,579 1032.3,585 1033.9,589C1035.5,593 1033.5,594.6 1031.5,598.6C1029.5,602.6 1025.9,611 1021.9,613C1017.9,614.9 1011.9,613.4 1007.5,610.6C1003.1,607.8 999.5,600.6 995.5,596.2C991.5,591.8 987.9,588.2 983.5,584.2C979.2,580.2 974,576.6 969.2,572.2C964.4,567.8 958.8,561 954.8,557.8C950.8,554.6 946.8,559.8 945.2,553C943.6,546.3 942.4,523.1 945.2,517.1Z" fill="#f2ac70"  stroke="#8a6a3a" stroke-width="0.7" stroke-opacity="0.5"/></g><path d="M935.9,115.9C939.5,112.3 951.1,110.7 955.1,113.5C959.1,116.3 961.1,127.8 959.9,132.6C958.7,137.4 952.3,141.8 947.9,142.2C943.5,142.6 935.5,139.4 933.5,135C931.6,130.6 932.4,119.4 935.9,115.9Z" fill="#f0dca0"  filter="url(#b1)"/><path d="M993.5,84.7 L1017.4,89.5 L1010.2,120.6 L991.1,115.9Z" fill="#efd49a"  opacity="0.8"/><path d="M988.7,103.9C988.7,99.9 991.1,94.3 993.5,91.9C995.9,89.5 1000.6,87.9 1003,89.5C1005.4,91.1 1007.8,97.5 1007.8,101.5C1007.8,105.5 1005.4,111.1 1003,113.5C1000.6,115.9 995.9,117.5 993.5,115.9C991.1,114.3 988.7,107.9 988.7,103.9Z" fill="#b9dc68" /><path d="M1015,103.9C1016.2,99.9 1019.8,93.5 1024.6,91.9C1029.4,90.3 1037.4,93.1 1043.8,94.3C1050.2,95.5 1058.2,97.1 1063,99.1C1067.7,101.1 1071.7,102.7 1072.5,106.3C1073.3,109.9 1070.1,117.1 1067.7,120.6C1065.3,124.2 1062.2,127 1058.2,127.8C1054.2,128.6 1048.6,126.2 1043.8,125.4C1039,124.6 1033.8,124.6 1029.4,123C1025,121.4 1019.8,119 1017.4,115.9C1015,112.7 1013.8,107.9 1015,103.9Z" fill="#cfe672" /><path d="M1039,60.7C1039.4,55.9 1041,53.5 1043.8,51.2C1046.6,48.8 1052.6,47.6 1055.8,46.4C1059,45.2 1061.4,42.8 1063,44C1064.5,45.2 1065.7,49.6 1065.3,53.5C1064.9,57.5 1062.2,63.1 1060.6,67.9C1059,72.7 1057.8,78.7 1055.8,82.3C1053.8,85.9 1051,89.9 1048.6,89.5C1046.2,89.1 1043,84.7 1041.4,79.9C1039.8,75.1 1038.6,65.5 1039,60.7Z" fill="#cfe672" /><path d="M1067.7,91.9C1068.5,88.7 1073.7,85.5 1077.3,84.7C1080.9,83.9 1086.9,85.1 1089.3,87.1C1091.7,89.1 1092.5,93.9 1091.7,96.7C1090.9,99.5 1087.7,102.7 1084.5,103.9C1081.3,105.1 1075.3,105.9 1072.5,103.9C1069.7,101.9 1066.9,95.1 1067.7,91.9Z" fill="#cfe672" /><path d="M1115.7,123C1116.9,120.6 1123.3,118.3 1127.7,118.3C1132,118.3 1139.2,121 1142,123C1144.8,125 1145.6,128.2 1144.4,130.2C1143.2,132.2 1138.8,134.6 1134.8,135C1130.8,135.4 1123.7,134.6 1120.5,132.6C1117.3,130.6 1114.5,125.4 1115.7,123Z" fill="#f8f37c" /><path d="M1108.5,159C1109.7,157 1114.9,154.2 1118.1,154.2C1121.3,154.2 1125.7,157 1127.7,159C1129.7,161 1131.2,164.6 1130.1,166.2C1128.9,167.8 1123.7,168.6 1120.5,168.6C1117.3,168.6 1112.9,167.8 1110.9,166.2C1108.9,164.6 1107.3,161 1108.5,159Z" fill="#f8f37c" /><path d="M1039,144.6C1039.8,142.2 1045.8,141 1048.6,142.2C1051.4,143.4 1053,149.8 1055.8,151.8C1058.6,153.8 1062.6,154.2 1065.3,154.2C1068.1,154.2 1070.9,151 1072.5,151.8C1074.1,152.6 1075.7,156.2 1074.9,159C1074.1,161.8 1070.5,166.2 1067.7,168.6C1064.9,171 1061,173.4 1058.2,173.4C1055.4,173.4 1053.4,171.4 1051,168.6C1048.6,165.8 1045.8,160.6 1043.8,156.6C1041.8,152.6 1038.2,147 1039,144.6Z" fill="#cfe672" /><path d="M1015,147C1015.4,143.8 1017.8,137 1019.8,135C1021.8,133 1025.4,133.4 1027,135C1028.6,136.6 1029.8,141.4 1029.4,144.6C1029,147.8 1026.6,152.6 1024.6,154.2C1022.6,155.8 1019,155.4 1017.4,154.2C1015.8,153 1014.6,150.2 1015,147Z" fill="#cfe672" /><path d="M987.5,156.6C988.3,154.8 991.3,152.6 993.5,153C995.7,153.4 1000.2,156.8 1000.6,159C1001,161.2 997.9,165.4 995.9,166.2C993.9,167 990.1,165.4 988.7,163.8C987.3,162.2 986.7,158.4 987.5,156.6Z" fill="#cfe672" /><path d="M1096.5,194.9C1097.7,192.9 1102.1,190.1 1106.1,190.1C1110.1,190.1 1117.7,192.9 1120.5,194.9C1123.3,196.9 1124.5,200.3 1122.9,202.1C1121.3,203.9 1114.9,205.7 1110.9,205.7C1106.9,205.7 1101.3,203.9 1098.9,202.1C1096.5,200.3 1095.3,196.9 1096.5,194.9Z" fill="#f8f37c" /><path d="M1039,218.9C1040.2,215.1 1048.6,211.3 1053.4,210.5C1058.2,209.7 1064.5,211.5 1067.7,214.1C1070.9,216.7 1073.3,222.5 1072.5,226.1C1071.7,229.7 1067.3,234.5 1063,235.7C1058.6,236.9 1050.2,236.1 1046.2,233.3C1042.2,230.5 1037.8,222.7 1039,218.9Z" fill="#f8f37c" /><path d="M1089.3,70.3C1090.3,68.3 1094.5,65.1 1096.5,65.5C1098.5,65.9 1101.3,70.3 1101.3,72.7C1101.3,75.1 1098.3,79.1 1096.5,79.9C1094.7,80.7 1091.7,79.1 1090.5,77.5C1089.3,75.9 1088.3,72.3 1089.3,70.3Z" fill="#cfe672" /><ellipse cx="1112.1" cy="69.1" rx="3.5" ry="3.5" fill="#cfe672" /><ellipse cx="961.1" cy="187.7" rx="8.5" ry="9.5" fill="#b9dc68" /><ellipse cx="947.9" cy="230.9" rx="5" ry="9" fill="#b9dc68" /><ellipse cx="934.7" cy="151.8" rx="3.5" ry="4.5" fill="#b9dc68" /><ellipse cx="980.3" cy="133.8" rx="4" ry="3" fill="#b9dc68" /><path d="M1071.3,59.5 L1083.3,63.1 L1078.5,77.5 L1066.5,73.9Z" fill="#fbf668" /><path d="M1103.7,82.3 L1115.7,84.7 L1106.1,115.9 L1095.3,113.5Z" fill="#f3d9a0"  opacity="0.8"/><path d="M956.3,209.3C957.3,206.3 960.1,201.3 962.3,200.9C964.5,200.5 968.3,203.9 969.5,206.9C970.7,209.9 970.7,215.9 969.5,218.9C968.3,221.9 964.5,224.9 962.3,224.9C960.1,224.9 957.3,221.5 956.3,218.9C955.3,216.3 955.3,212.3 956.3,209.3Z" fill="#f3c070" /><path d="M955.1,132.6 L977.1,140.6" fill="none" stroke="#fbf8d0" stroke-width="2.8" opacity="0.6" stroke-linejoin="round"/><path d="M949.4,145.6 L971.4,153.6" fill="none" stroke="#fbf8d0" stroke-width="2.8" opacity="0.6" stroke-linejoin="round"/><path d="M943.6,158.5 L965.6,166.5" fill="none" stroke="#fbf8d0" stroke-width="2.8" opacity="0.6" stroke-linejoin="round"/><path d="M937.9,171.4 L959.9,179.4" fill="none" stroke="#fbf8d0" stroke-width="2.8" opacity="0.6" stroke-linejoin="round"/><path d="M932.1,184.4 L954.1,192.4" fill="none" stroke="#fbf8d0" stroke-width="2.8" opacity="0.6" stroke-linejoin="round"/><path d="M926.4,197.3 L948.4,205.3" fill="none" stroke="#fbf8d0" stroke-width="2.8" opacity="0.6" stroke-linejoin="round"/><path d="M920.6,210.3 L942.6,218.3" fill="none" stroke="#fbf8d0" stroke-width="2.8" opacity="0.6" stroke-linejoin="round"/><path d="M914.9,223.2 L936.9,231.2" fill="none" stroke="#fbf8d0" stroke-width="2.8" opacity="0.6" stroke-linejoin="round"/><path d="M909.1,236.2 L931.1,244.2" fill="none" stroke="#fbf8d0" stroke-width="2.8" opacity="0.6" stroke-linejoin="round"/><ellipse cx="1061.3" cy="138.6" rx="4.6" ry="4.6" fill="#f0b090" /><ellipse cx="1061.3" cy="138.6" rx="2.2" ry="2.2" fill="#c86a50" /><path d="M1068.4,59.5 L1081.6,63.1 L1076.8,77.5 L1065.3,73.9Z" fill="#fbf668" /><path d="M1088.8,72.7C1089,70.1 1091.6,65.1 1093.5,64.3C1095.5,63.5 1099.7,65.7 1100.7,67.9C1101.7,70.1 1100.9,75.5 1099.5,77.5C1098.1,79.5 1094.1,80.7 1092.4,79.9C1090.6,79.1 1088.6,75.3 1088.8,72.7Z" fill="#cfe672" /><path d="M1066,91.9C1067,88.7 1070.6,84.5 1074.4,83.5C1078.2,82.5 1086.2,83.3 1088.8,85.9C1091.4,88.5 1091.6,95.7 1090,99.1C1088.4,102.5 1082.8,105.7 1079.2,106.3C1075.6,106.9 1070.6,105.1 1068.4,102.7C1066.2,100.3 1065,95.1 1066,91.9Z" fill="#cfe672" /><path d="M1104.3,82.3 L1116.3,84.7 L1106.7,115.9 L1095.9,113.5Z" fill="#f3d9a0"  opacity="0.8"/><path d="M1128.3,91.9C1129.5,89.3 1135.7,87.9 1139.1,88.3C1142.5,88.7 1146.9,91.9 1148.7,94.3C1150.5,96.7 1151.1,100.7 1149.9,102.7C1148.7,104.7 1144.5,106.1 1141.5,106.3C1138.5,106.5 1134.1,106.3 1131.9,103.9C1129.7,101.5 1127.1,94.5 1128.3,91.9Z" fill="#f8f37c" /><path d="M1079.2,111.1C1080.4,109.1 1086.4,108.7 1091.2,108.7C1095.9,108.7 1104.5,109.1 1107.9,111.1C1111.3,113.1 1112.7,117.9 1111.5,120.6C1110.3,123.4 1104.1,126.2 1100.7,127.8C1097.3,129.4 1093.9,131.4 1091.2,130.2C1088.4,129 1086,123.8 1084,120.6C1082,117.5 1078,113.1 1079.2,111.1Z" fill="#f8f37c" /><path d="M1116.3,123C1117.5,120.4 1122.9,117.5 1127.1,117.1C1131.3,116.7 1137.9,118.8 1141.5,120.6C1145.1,122.4 1148.3,125.2 1148.7,127.8C1149.1,130.4 1147.1,134.6 1143.9,136.2C1140.7,137.8 1133.5,138 1129.5,137.4C1125.5,136.8 1122.1,135 1119.9,132.6C1117.7,130.2 1115.1,125.6 1116.3,123Z" fill="#f8f37c" /><path d="M1153.5,132.6C1155.1,130.4 1159,129.8 1163,129C1167,128.2 1173.4,126.8 1177.4,127.8C1181.4,128.8 1185.8,131.4 1187,135C1188.2,138.6 1186.6,145.8 1184.6,149.4C1182.6,153 1177.4,153.4 1175,156.6C1172.6,159.8 1171.4,164.2 1170.2,168.6C1169,173 1170.2,180.6 1167.8,183C1165.4,185.3 1159.8,183.8 1155.9,183C1151.9,182.2 1147.5,180.6 1143.9,178.2C1140.3,175.8 1135.1,171.4 1134.3,168.6C1133.5,165.8 1136.3,163.8 1139.1,161.4C1141.9,159 1148.7,157.4 1151.1,154.2C1153.5,151 1153.1,145.8 1153.5,142.2C1153.9,138.6 1151.9,134.8 1153.5,132.6Z" fill="#f8f37c" /><ellipse cx="1196.6" cy="147" rx="7" ry="5" fill="#f8f37c" /><path d="M1109.1,159C1109.9,156.8 1114.5,153.4 1117.5,153C1120.5,152.6 1124.7,154.4 1127.1,156.6C1129.5,158.8 1132.7,164 1131.9,166.2C1131.1,168.4 1125.5,169.8 1122.3,169.8C1119.1,169.8 1114.9,168 1112.7,166.2C1110.5,164.4 1108.3,161.2 1109.1,159Z" fill="#f8f37c" /><path d="M1095.9,194.9C1097.1,192.9 1103.9,190.1 1107.9,190.1C1111.9,190.1 1117.1,192.9 1119.9,194.9C1122.7,196.9 1125.9,200.3 1124.7,202.1C1123.5,203.9 1116.7,205.7 1112.7,205.7C1108.7,205.7 1103.5,203.9 1100.7,202.1C1097.9,200.3 1094.7,196.9 1095.9,194.9Z" fill="#f8f37c" /><path d="M1177.4,183C1179,180.6 1185.4,177.8 1189.4,178.2C1193.4,178.6 1199,182.8 1201.4,185.3C1203.8,187.9 1205.4,191.7 1203.8,193.7C1202.2,195.7 1195.8,197.5 1191.8,197.3C1187.8,197.1 1182.2,194.9 1179.8,192.5C1177.4,190.1 1175.8,185.3 1177.4,183Z" fill="#f8f37c" /><path d="M1163,221.3C1164.6,219.5 1170.2,216.9 1175,216.5C1179.8,216.1 1188.6,217.3 1191.8,218.9C1195,220.5 1196.2,224.3 1194.2,226.1C1192.2,227.9 1184.6,229.5 1179.8,229.7C1175,229.9 1168.2,228.7 1165.4,227.3C1162.6,225.9 1161.4,223.1 1163,221.3Z" fill="#f8f37c" /><path d="M1179.8,106.3C1180.6,104.7 1189.4,109.5 1194.2,111.1C1199,112.7 1205,113.5 1208.6,115.9C1212.2,118.3 1216.6,123.4 1215.8,125.4C1215,127.4 1208.2,128.6 1203.8,127.8C1199.4,127 1193.4,124.2 1189.4,120.6C1185.4,117.1 1179,107.9 1179.8,106.3Z" fill="#f8f37c" /><path d="M1215.8,130.2 L1239.7,129 L1232.5,149.4 L1211,149.4Z" fill="#b4cf78"  opacity="0.9"/><path d="M1209.8,149.4 L1227.7,149.4 L1225.3,161.4 L1208.6,161.4Z" fill="#e9d79a"  opacity="0.9"/><path d="M1166.6,91.9C1167,89.1 1172,86.3 1175,85.9C1178,85.5 1182.4,87.3 1184.6,89.5C1186.8,91.7 1188.6,96.7 1188.2,99.1C1187.8,101.5 1184.8,103.3 1182.2,103.9C1179.6,104.5 1175.2,104.7 1172.6,102.7C1170,100.7 1166.2,94.7 1166.6,91.9Z" fill="#f3b898" /><ellipse cx="1177.4" cy="97.2" rx="3.5" ry="4.5" fill="#e89078" /><path d="M1165.4,103.9C1166.2,101.1 1170.6,100.7 1172.6,101.5C1174.6,102.3 1177,106.1 1177.4,108.7C1177.8,111.3 1176.6,115.5 1175,117.1C1173.4,118.7 1169.4,120.4 1167.8,118.3C1166.2,116.1 1164.6,106.7 1165.4,103.9Z" fill="#9fd070" /><path d="M1225.3,185.3 L1243.3,191.3" fill="none" stroke="#fbf8d0" stroke-width="2.8" opacity="0.6" stroke-linejoin="round"/><path d="M1221,194.9 L1239,200.9" fill="none" stroke="#fbf8d0" stroke-width="2.8" opacity="0.6" stroke-linejoin="round"/><path d="M1216.7,204.5 L1234.7,210.5" fill="none" stroke="#fbf8d0" stroke-width="2.8" opacity="0.6" stroke-linejoin="round"/><path d="M1212.4,214.1 L1230.4,220.1" fill="none" stroke="#fbf8d0" stroke-width="2.8" opacity="0.6" stroke-linejoin="round"/><path d="M1208.1,223.7 L1226.1,229.7" fill="none" stroke="#fbf8d0" stroke-width="2.8" opacity="0.6" stroke-linejoin="round"/><path d="M1203.8,233.3 L1221.8,239.3" fill="none" stroke="#fbf8d0" stroke-width="2.8" opacity="0.6" stroke-linejoin="round"/><path d="M1199.5,242.9 L1217.5,248.9" fill="none" stroke="#fbf8d0" stroke-width="2.8" opacity="0.6" stroke-linejoin="round"/><path d="M859.9,299.5C863.5,295.1 872.3,293.1 879.1,294.7C885.9,296.3 896.7,303.1 900.6,309.1C904.6,315.1 904.6,323.1 903,330.6C901.4,338.2 896.3,351.4 891.1,354.6C885.9,357.8 877.9,351.8 871.9,349.8C865.9,347.8 857.5,347.4 855.1,342.6C852.7,337.8 856.7,328.3 857.5,321.1C858.3,313.9 856.3,303.9 859.9,299.5Z" fill="#efc888"  opacity="0.7" filter="url(#b1)"/><path d="M871.9,277.9C872.3,274.3 873.9,268.3 876.7,265.9C879.5,263.5 885.1,262.4 888.7,263.5C892.3,264.7 897.1,269.1 898.3,273.1C899.4,277.1 898.3,284.3 895.9,287.5C893.5,290.7 887.5,292.3 883.9,292.3C880.3,292.3 876.3,289.9 874.3,287.5C872.3,285.1 871.5,281.5 871.9,277.9Z" fill="#9fd070"  filter="url(#b1)"/><ellipse cx="886.7" cy="280.3" rx="4" ry="4" fill="#7fc86a" /><path d="M906.6,359.4C907.4,355.4 909.6,349.8 912.6,347.4C915.6,345 920.8,343.8 924.6,345C928.4,346.2 933.4,350.6 935.4,354.6C937.4,358.6 937.6,364.8 936.6,369C935.6,373.2 933,377.8 929.4,379.8C925.8,381.8 918.6,382.4 915,381C911.4,379.6 909.2,375 907.8,371.4C906.4,367.8 905.8,363.4 906.6,359.4Z" fill="#f7d98a"  stroke="#8a6a3a" stroke-width="0.7" stroke-opacity="0.4"/><ellipse cx="922.2" cy="364.2" rx="9" ry="8" fill="#f2ac70" /><ellipse cx="921" cy="364.7" rx="3" ry="3" fill="#e9a070" /><path d="M941.4,256.4C942.4,254.6 946,251.6 948.6,251.6C951.2,251.6 955.4,254.4 957,256.4C958.6,258.4 959.6,262 958.2,263.5C956.8,265.1 951.2,265.7 948.6,265.5C946,265.3 943.8,263.9 942.6,262.4C941.4,260.8 940.4,258.2 941.4,256.4Z" fill="#f7d98a" /><path d="M983.3,273.1C983.5,270.7 987.1,266.3 989.3,265.9C991.5,265.5 995.5,268.5 996.5,270.7C997.5,272.9 996.7,277.4 995.3,279.1C993.9,280.8 990.1,281.8 988.1,280.8C986.1,279.8 983.1,275.6 983.3,273.1Z" fill="#f7d98a" /><path d="M982.1,388.2C983.3,385.6 988.1,380.2 991.7,379.8C995.3,379.4 1001.4,383 1003.7,385.8C1006,388.6 1007.2,394.5 1005.6,396.5C1004,398.5 997.6,397.9 994.1,397.7C990.6,397.5 986.5,396.9 984.5,395.3C982.5,393.8 980.9,390.8 982.1,388.2Z" fill="#f7d98a" /><ellipse cx="912.1" cy="279.8" rx="5" ry="6" fill="#f7d98a" /><ellipse cx="1026.5" cy="323.5" rx="4" ry="4" fill="#f7d98a" /><path d="M1006.1,265.9C1006.5,262.4 1010.1,256.6 1013.3,254C1016.5,251.4 1022.1,249.6 1025.3,250.4C1028.5,251.2 1031.6,255.4 1032.4,258.8C1033.2,262.2 1032,267.5 1030.1,270.7C1028.1,273.9 1023.7,277.1 1020.5,277.9C1017.3,278.7 1013.3,277.5 1010.9,275.5C1008.5,273.5 1005.7,269.5 1006.1,265.9Z" fill="#cfe672" /><path d="M998.9,292.3C1000.5,289.9 1006.5,287.7 1010.9,287.5C1015.3,287.3 1022.3,288.9 1025.3,291.1C1028.3,293.3 1029.7,297.9 1028.9,300.7C1028.1,303.5 1023.9,306.7 1020.5,307.9C1017.1,309.1 1011.7,308.9 1008.5,307.9C1005.3,306.9 1002.9,304.5 1001.3,301.9C999.7,299.3 997.3,294.7 998.9,292.3Z" fill="#cfe672" /><path d="M943.8,366.6C943.8,363 944.2,356.6 946.2,352.2C948.2,347.8 952.6,342.8 955.8,340.2C959,337.6 963.4,335.4 965.3,336.6C967.3,337.8 967.7,343.6 967.7,347.4C967.7,351.2 967.3,355.8 965.3,359.4C963.4,363 959,366.6 955.8,369C952.6,371.4 948.2,374.2 946.2,373.8C944.2,373.4 943.8,370.2 943.8,366.6Z" fill="#cfe672" /><path d="M960.6,325.9C961,321.9 965.3,314.7 967.7,311.5C970.1,308.3 972.9,305.9 974.9,306.7C976.9,307.5 979.7,312.7 979.7,316.3C979.7,319.9 977.3,325.1 974.9,328.3C972.5,331.4 967.7,335.8 965.3,335.4C963,335 960.2,329.8 960.6,325.9Z" fill="#cfe672" /><path d="M968.9,299.5C968.7,297.3 970.9,292.3 972.5,291.1C974.1,289.9 977.3,290.7 978.5,292.3C979.7,293.9 980.5,298.7 979.7,300.7C978.9,302.7 975.5,304.5 973.7,304.3C971.9,304.1 969.1,301.7 968.9,299.5Z" fill="#cfe672" /><path d="M982.1,321.1C982.5,317.9 988.1,317.9 991.7,316.3C995.3,314.7 1001.3,310.3 1003.7,311.5C1006.1,312.7 1006.5,319.5 1006.1,323.5C1005.7,327.5 1004.1,333.4 1001.3,335.4C998.5,337.4 992.5,337.8 989.3,335.4C986.1,333 981.7,324.3 982.1,321.1Z" fill="#cfe672" /><path d="M972.5,354.6C972.9,351.6 978.9,347.4 982.1,346.2C985.3,345 990.3,345.2 991.7,347.4C993.1,349.6 992.5,356.6 990.5,359.4C988.5,362.2 982.7,365 979.7,364.2C976.7,363.4 972.1,357.6 972.5,354.6Z" fill="#cfe672" /><path d="M1008.5,373.8C1009.3,370.2 1012.5,366 1015.7,364.2C1018.9,362.4 1024.5,361.4 1027.7,363C1030.8,364.6 1034.4,369.6 1034.8,373.8C1035.2,378 1032.8,384.8 1030.1,388.2C1027.3,391.6 1021.3,394.5 1018.1,394.2C1014.9,393.8 1012.5,389.2 1010.9,385.8C1009.3,382.4 1007.7,377.4 1008.5,373.8Z" fill="#cfe672" /><path d="M1031.2,342.6C1031.2,338.2 1036.6,329.4 1039.6,328.3C1042.6,327.1 1047.2,331.8 1049.2,335.4C1051.2,339 1053.2,346.6 1051.6,349.8C1050,353 1043,355.8 1039.6,354.6C1036.2,353.4 1031.2,347 1031.2,342.6Z" fill="#cfe672" /><path d="M929.4,397.7C929.8,393.8 932.2,388.2 934.2,385.8C936.2,383.4 939.8,382.2 941.4,383.4C943,384.6 944.2,389.4 943.8,393C943.4,396.5 941,402.1 939,404.9C937,407.7 933.4,410.9 931.8,409.7C930.2,408.5 929,401.7 929.4,397.7Z" fill="#cfe672" /><path d="M918.6,426.5C919,423.5 922.4,415.3 924.6,413.3C926.8,411.3 930.8,412.7 931.8,414.5C932.8,416.3 932.2,421.3 930.6,424.1C929,426.9 924.2,430.9 922.2,431.3C920.2,431.7 918.2,429.5 918.6,426.5Z" fill="#cfe672" /><ellipse cx="1010.9" cy="300.7" rx="3.5" ry="3.5" fill="#9fd070" /><path d="M967.7,431.3C969.3,427.7 976.9,422.1 982.1,421.7C987.3,421.3 997.3,425.3 998.9,428.9C1000.5,432.5 996.1,440.9 991.7,443.3C987.3,445.7 976.5,445.3 972.5,443.3C968.5,441.3 966.1,434.9 967.7,431.3Z" fill="#f8f37c" /><ellipse cx="917.4" cy="300.2" rx="3" ry="3" fill="#cfe672" /><ellipse cx="915" cy="339" rx="4.5" ry="3.5" fill="#cfe672" /><path d="M893.5,234.8 L917.5,242.8" fill="none" stroke="#fbf8d0" stroke-width="3" opacity="0.6" stroke-linejoin="round"/><path d="M890.6,244.4 L914.6,252.4" fill="none" stroke="#fbf8d0" stroke-width="3" opacity="0.6" stroke-linejoin="round"/><path d="M887.7,254 L911.7,262" fill="none" stroke="#fbf8d0" stroke-width="3" opacity="0.6" stroke-linejoin="round"/><path d="M884.8,263.5 L908.8,271.5" fill="none" stroke="#fbf8d0" stroke-width="3" opacity="0.6" stroke-linejoin="round"/><path d="M882,273.1 L906,281.1" fill="none" stroke="#fbf8d0" stroke-width="3" opacity="0.6" stroke-linejoin="round"/><path d="M844.3,360.6 L858.3,365.6" fill="none" stroke="#fbf8d0" stroke-width="3" opacity="0.6" stroke-linejoin="round"/><path d="M841,371.1 L855,376.1" fill="none" stroke="#fbf8d0" stroke-width="3" opacity="0.6" stroke-linejoin="round"/><path d="M837.6,381.7 L851.6,386.7" fill="none" stroke="#fbf8d0" stroke-width="3" opacity="0.6" stroke-linejoin="round"/><path d="M834.3,392.2 L848.3,397.2" fill="none" stroke="#fbf8d0" stroke-width="3" opacity="0.6" stroke-linejoin="round"/><path d="M830.9,402.8 L844.9,407.8" fill="none" stroke="#fbf8d0" stroke-width="3" opacity="0.6" stroke-linejoin="round"/><path d="M1053.5,289.9C1052.8,286.5 1052.8,280.3 1053.5,275.5C1054.3,270.7 1056.5,262.8 1058.3,261.2C1060.1,259.6 1063.5,262.4 1064.3,265.9C1065.1,269.5 1064.1,277.7 1063.1,282.7C1062.1,287.7 1059.9,294.7 1058.3,295.9C1056.7,297.1 1054.3,293.3 1053.5,289.9Z" fill="#cfe672" /><path d="M1039.2,313.9C1039.4,309.1 1041.6,302.1 1044,299.5C1046.4,296.9 1051.6,296.7 1053.5,298.3C1055.5,299.9 1056.3,304.9 1055.9,309.1C1055.5,313.3 1053.3,320.3 1051.2,323.5C1049,326.7 1044.8,329.8 1042.8,328.3C1040.8,326.7 1039,318.7 1039.2,313.9Z" fill="#cfe672" /><path d="M1078.7,289.9C1079.9,286.3 1085.3,282.1 1089.5,280.3C1093.7,278.5 1100.1,277.1 1103.9,279.1C1107.7,281.1 1111.9,288.1 1112.3,292.3C1112.7,296.5 1109.7,301.5 1106.3,304.3C1102.9,307.1 1095.9,309.5 1091.9,309.1C1087.9,308.7 1084.5,305.1 1082.3,301.9C1080.1,298.7 1077.5,293.5 1078.7,289.9Z" fill="#cfe672" /><path d="M1073.9,325.9C1074.9,321.5 1079.3,312.5 1082.3,311.5C1085.3,310.5 1090.1,316.7 1091.9,319.9C1093.7,323.1 1094.3,327.3 1093.1,330.6C1091.9,334 1087.5,339 1084.7,340.2C1081.9,341.4 1078.1,340.2 1076.3,337.8C1074.5,335.4 1072.9,330.2 1073.9,325.9Z" fill="#cfe672" /><path d="M1032,342.6C1032.8,338.8 1036.4,330.6 1039.2,329.4C1042,328.3 1047,332.4 1048.8,335.4C1050.6,338.4 1051.2,344.2 1050,347.4C1048.8,350.6 1044.2,353.8 1041.6,354.6C1039,355.4 1036,354.2 1034.4,352.2C1032.8,350.2 1031.2,346.4 1032,342.6Z" fill="#cfe672" /><path d="M1103.9,333C1106.1,329.4 1116.1,323.5 1120.6,323.5C1125.2,323.5 1129.8,329.4 1131.4,333C1133,336.6 1132.8,341.4 1130.2,345C1127.6,348.6 1119.6,354.6 1115.9,354.6C1112.1,354.6 1109.5,348.6 1107.5,345C1105.5,341.4 1101.7,336.6 1103.9,333Z" fill="#cfe672" /><path d="M1124.2,309.1C1124.2,304.7 1126,298.7 1127.8,294.7C1129.6,290.7 1133,285.1 1135,285.1C1137,285.1 1139.4,291.1 1139.8,294.7C1140.2,298.3 1139.4,302.3 1137.4,306.7C1135.4,311.1 1130,320.7 1127.8,321.1C1125.6,321.5 1124.2,313.5 1124.2,309.1Z" fill="#cfe672" /><path d="M1131.4,275.5C1132.2,272.1 1136.8,265.5 1139.8,264.7C1142.8,263.9 1148.6,267.7 1149.4,270.7C1150.2,273.7 1147,280.3 1144.6,282.7C1142.2,285.1 1137.2,286.3 1135,285.1C1132.8,283.9 1130.6,278.9 1131.4,275.5Z" fill="#cfe672" /><path d="M1160.2,277.9C1161.4,274.9 1168.4,273.1 1171,274.3C1173.6,275.5 1175.8,281.7 1175.8,285.1C1175.8,288.5 1173,293.5 1171,294.7C1169,295.9 1165.6,295.1 1163.8,292.3C1162,289.5 1159,280.9 1160.2,277.9Z" fill="#cfe672" /><path d="M1167.4,261.2C1167.8,258 1171.2,254.4 1173.4,254C1175.6,253.6 1179.8,256 1180.6,258.8C1181.4,261.6 1179.8,268.3 1178.2,270.7C1176.6,273.1 1172.8,274.7 1171,273.1C1169.2,271.5 1167,264.3 1167.4,261.2Z" fill="#cfe672" /><path d="M1151.8,313.9C1153.8,311.3 1163.4,310.3 1168.6,310.3C1173.8,310.3 1182.2,311.3 1183,313.9C1183.8,316.5 1176.6,322.3 1173.4,325.9C1170.2,329.4 1166.6,335.4 1163.8,335.4C1161,335.4 1158.6,329.4 1156.6,325.9C1154.6,322.3 1149.8,316.5 1151.8,313.9Z" fill="#cfe672" /><path d="M1135,340.2C1136.6,337.2 1145.4,338.6 1149.4,339C1153.4,339.4 1158.2,339.6 1159,342.6C1159.8,345.6 1156.2,352.6 1154.2,357C1152.2,361.4 1149.4,369 1147,369C1144.6,369 1141.8,361.8 1139.8,357C1137.8,352.2 1133.4,343.2 1135,340.2Z" fill="#cfe672" /><path d="M1048.8,354.6C1050.8,350.6 1057.9,346.2 1063.1,345C1068.3,343.8 1074.3,345.4 1079.9,347.4C1085.5,349.4 1091.5,353.8 1096.7,357C1101.9,360.2 1107.9,363 1111.1,366.6C1114.3,370.2 1115.9,375 1115.9,378.6C1115.9,382.2 1115.1,385.4 1111.1,388.2C1107.1,391 1098.3,394.5 1091.9,395.3C1085.5,396.1 1077.9,395.7 1072.7,393C1067.5,390.2 1064.3,382.6 1060.7,378.6C1057.1,374.6 1053.1,373 1051.2,369C1049.2,365 1046.8,358.6 1048.8,354.6Z" fill="#cfe672" /><path d="M1075.1,407.3C1076.7,404.3 1084.7,401.3 1089.5,401.3C1094.3,401.3 1100.7,404.7 1103.9,407.3C1107.1,409.9 1110.7,414.1 1108.7,416.9C1106.7,419.7 1096.7,423.7 1091.9,424.1C1087.1,424.5 1082.7,422.1 1079.9,419.3C1077.1,416.5 1073.5,410.3 1075.1,407.3Z" fill="#cfe672" /><path d="M1052.4,407.3C1051.8,403.3 1054.1,391.8 1055.9,388.2C1057.7,384.6 1061.5,383.4 1063.1,385.8C1064.7,388.2 1066.1,398.1 1065.5,402.5C1064.9,406.9 1061.7,411.3 1059.5,412.1C1057.3,412.9 1052.9,411.3 1052.4,407.3Z" fill="#cfe672" /><path d="M1125.4,373.8 L1147,371.4 L1149.4,385.8 L1135,443.3 L1111.1,440.9 L1115.9,397.7Z" fill="#c0d084"  opacity="0.75" filter="url(#b1)"/><path d="M1129,256.4C1129.8,254.6 1132.6,251.8 1135,251.6C1137.4,251.4 1141.8,253.4 1143.4,255.2C1145,257 1145.6,260.8 1144.6,262.4C1143.6,263.9 1139.8,264.7 1137.4,264.7C1135,264.7 1131.6,263.7 1130.2,262.4C1128.8,261 1128.2,258.2 1129,256.4Z" fill="#f6d890" /><ellipse cx="1137.4" cy="249.2" rx="2.6" ry="3.2" fill="#a0705c" /><ellipse cx="1132.1" cy="245.6" rx="2.5" ry="3.5" fill="#6ab0a0" /><path d="M1209.3,237.2 L1227.3,243.2" fill="none" stroke="#fbf8d0" stroke-width="2.8" opacity="0.55" stroke-linejoin="round"/><path d="M1206.1,246.1 L1224.1,252.1" fill="none" stroke="#fbf8d0" stroke-width="2.8" opacity="0.55" stroke-linejoin="round"/><path d="M1202.8,254.9 L1220.8,260.9" fill="none" stroke="#fbf8d0" stroke-width="2.8" opacity="0.55" stroke-linejoin="round"/><path d="M1199.6,263.8 L1217.6,269.8" fill="none" stroke="#fbf8d0" stroke-width="2.8" opacity="0.55" stroke-linejoin="round"/><path d="M1196.4,272.7 L1214.4,278.7" fill="none" stroke="#fbf8d0" stroke-width="2.8" opacity="0.55" stroke-linejoin="round"/><path d="M1193.1,281.5 L1211.1,287.5" fill="none" stroke="#fbf8d0" stroke-width="2.8" opacity="0.55" stroke-linejoin="round"/><path d="M1189.9,290.4 L1207.9,296.4" fill="none" stroke="#fbf8d0" stroke-width="2.8" opacity="0.55" stroke-linejoin="round"/><path d="M1186.7,299.3 L1204.7,305.3" fill="none" stroke="#fbf8d0" stroke-width="2.8" opacity="0.55" stroke-linejoin="round"/><path d="M1183.4,308.1 L1201.4,314.1" fill="none" stroke="#fbf8d0" stroke-width="2.8" opacity="0.55" stroke-linejoin="round"/><path d="M1180.2,317 L1198.2,323" fill="none" stroke="#fbf8d0" stroke-width="2.8" opacity="0.55" stroke-linejoin="round"/><path d="M1177,325.9 L1195,331.9" fill="none" stroke="#fbf8d0" stroke-width="2.8" opacity="0.55" stroke-linejoin="round"/><path d="M1173.7,334.7 L1191.7,340.7" fill="none" stroke="#fbf8d0" stroke-width="2.8" opacity="0.55" stroke-linejoin="round"/><ellipse cx="1027.2" cy="323.5" rx="3.5" ry="3.5" fill="#f7d98a" stroke="#d8b070" stroke-width="0.5"/><ellipse cx="1042.8" cy="291.1" rx="3.5" ry="3.5" fill="#f7d98a" stroke="#d8b070" stroke-width="0.5"/><ellipse cx="1057.1" cy="254" rx="3.5" ry="3.5" fill="#f7d98a" stroke="#d8b070" stroke-width="0.5"/><ellipse cx="1118.3" cy="358.2" rx="3.5" ry="3.5" fill="#f7d98a" stroke="#d8b070" stroke-width="0.5"/><ellipse cx="1188.9" cy="261.2" rx="3.5" ry="3.5" fill="#f7d98a" stroke="#d8b070" stroke-width="0.5"/><path d="M797.9,526.3 L819.5,528.7 L814.7,559.8 L793.1,557.4Z" fill="#f0d49a"  opacity="0.8" filter="url(#b1)"/><path d="M841.1,555C841.9,551.4 846.7,546.2 850.6,543C854.6,539.8 860.2,537.9 865,535.9C869.8,533.9 876.2,529.5 879.4,531.1C882.6,532.7 885,541 884.2,545.4C883.4,549.8 879,554.6 874.6,557.4C870.2,560.2 862.6,561 857.8,562.2C853,563.4 848.7,565.8 845.9,564.6C843.1,563.4 840.3,558.6 841.1,555Z" fill="#f7d98a"  filter="url(#b1)"/><path d="M886.6,555C887.8,552.2 892.8,549 896.2,549C899.6,549 905,552.4 907,555C909,557.6 909.6,562.2 908.2,564.6C906.8,567 901.8,569.2 898.6,569.4C895.4,569.6 891,568.2 889,565.8C887,563.4 885.4,557.8 886.6,555Z" fill="#f7d98a" /><path d="M855.4,511.9C856.2,508.3 861.8,504.7 865,504.7C868.2,504.7 873.4,508.7 874.6,511.9C875.8,515.1 874.6,521.5 872.2,523.9C869.8,526.3 863,528.3 860.2,526.3C857.4,524.3 854.6,515.5 855.4,511.9Z" fill="#f7d98a" /><path d="M807.5,509.5C808.7,507.1 815.9,504.7 819.5,504.7C823.1,504.7 827.9,507.1 829.1,509.5C830.3,511.9 829.5,517.5 826.7,519.1C823.9,520.7 815.5,520.7 812.3,519.1C809.1,517.5 806.3,511.9 807.5,509.5Z" fill="#f7d98a" /><path d="M893.8,607.7C896.6,604.2 906.6,601 913,600.6C919.3,600.2 928.9,601.8 932.1,605.3C935.3,608.9 935.3,618.5 932.1,622.1C928.9,625.7 918.9,626.9 913,626.9C907,626.9 899.4,625.3 896.2,622.1C893,618.9 891,611.3 893.8,607.7Z" fill="#f7d98a"  filter="url(#b1)"/><path d="M872.2,598.2C872.8,595.4 877.8,594.2 879.4,595.8C881,597.4 882.4,604.9 881.8,607.7C881.2,610.5 877.4,614.1 875.8,612.5C874.2,610.9 871.6,601 872.2,598.2Z" fill="#f7d98a" /><path d="M975.3,483.1C976.9,479.5 979.7,473.1 982.4,473.5C985.2,473.9 990.8,481.1 992,485.5C993.2,489.9 992,496.7 989.6,499.9C987.2,503.1 980.4,505.5 977.7,504.7C974.9,503.9 973.3,498.7 972.9,495.1C972.5,491.5 973.7,486.7 975.3,483.1Z" fill="#cfe672" /><path d="M936.9,468.8C936.5,466 939.3,461.2 941.7,459.2C944.1,457.2 949.7,455.6 951.3,456.8C952.9,458 952.5,463.2 951.3,466.4C950.1,469.6 946.5,475.5 944.1,475.9C941.7,476.3 937.3,471.6 936.9,468.8Z" fill="#cfe672" /><path d="M795.5,574.2C796.7,571.6 800.7,567 805.1,565.8C809.5,564.6 817.5,565.2 821.9,567C826.3,568.8 830.7,573 831.5,576.6C832.3,580.2 830.3,587.4 826.7,588.6C823.1,589.8 814.7,585 809.9,583.8C805.1,582.6 800.3,583 797.9,581.4C795.5,579.8 794.3,576.8 795.5,574.2Z" fill="#cfe672" /><path d="M867.4,583.8C867,580.4 871.8,571.8 874.6,570.6C877.4,569.4 882.2,574 884.2,576.6C886.2,579.2 887.8,583.8 886.6,586.2C885.4,588.6 880.2,591.4 877,591C873.8,590.6 867.8,587.2 867.4,583.8Z" fill="#cfe672" /><path d="M843.5,595.8C843.9,593.4 849,590.2 853,588.6C857,587 865.8,584.6 867.4,586.2C869,587.8 865.4,595.4 862.6,598.2C859.8,601 853.8,603.4 850.6,603C847.5,602.6 843.1,598.2 843.5,595.8Z" fill="#cfe672" /><path d="M956.1,626.9C957.3,621.7 962.1,614.1 965.7,612.5C969.3,610.9 975.3,613.3 977.7,617.3C980.1,621.3 981.2,631.3 980.1,636.5C978.9,641.7 974.1,647.3 970.5,648.5C966.9,649.7 960.9,647.3 958.5,643.7C956.1,640.1 954.9,632.1 956.1,626.9Z" fill="#cfe672" /><path d="M940.5,612.5C941.3,609.7 946.3,605.7 948.9,605.3C951.5,604.9 955.3,607.5 956.1,610.1C956.9,612.7 955.7,618.9 953.7,620.9C951.7,622.9 946.3,623.5 944.1,622.1C941.9,620.7 939.7,615.3 940.5,612.5Z" fill="#cfe672" /><ellipse cx="794.3" cy="513.1" rx="8" ry="8.5" fill="#9fd070"  filter="url(#b1)"/><path d="M958.5,552.6C959.3,550.6 965.3,548.6 968.1,549C970.9,549.4 974.5,552.8 975.3,555C976.1,557.2 974.9,561.2 972.9,562.2C970.9,563.2 965.7,562.6 963.3,561C960.9,559.4 957.7,554.6 958.5,552.6Z" fill="#e47c4a"  filter="url(#b05)"/><path d="M989.6,562.2C990.8,560.2 996.8,559 999.2,559.8C1001.6,560.6 1003.8,564.6 1004,567C1004.2,569.4 1002.4,573.4 1000.4,574.2C998.4,575 993.8,573.8 992,571.8C990.2,569.8 988.4,564.2 989.6,562.2Z" fill="#e47c4a"  filter="url(#b05)"/><path d="M992,564.6C992.8,563.4 997.6,562.6 999.2,563.4C1000.8,564.2 1002.4,568.2 1001.6,569.4C1000.8,570.6 996,571.4 994.4,570.6C992.8,569.8 991.2,565.8 992,564.6Z" fill="#cc5430"  filter="url(#b05)"/><path d="M814.2,428.5C816.5,426.1 821.2,423.3 825.5,422.8C829.7,422.4 834.9,423.3 839.7,425.7C844.4,428 849.8,433.2 853.8,437C857.8,440.8 860.9,445.5 863.7,448.3C866.6,451.2 870.1,452.1 870.8,454C871.5,455.9 869.9,459.2 868,459.7C866.1,460.1 862.8,458.7 859.5,456.8C856.2,454.9 851.9,450.7 848.2,448.3C844.4,446 840.6,443.8 836.8,442.7C833.1,441.5 829,441 825.5,441.2C822,441.5 817.9,444.8 815.6,444.1C813.2,443.4 811.6,439.6 811.3,437C811.1,434.4 811.8,430.9 814.2,428.5Z" fill="#f2ac70"  stroke="#8a6a3a" stroke-width="0.7" stroke-opacity="0.5"/><path d="M818.4,435.6C819.6,433.9 825,432.3 828.3,432.7C831.6,433.2 835.2,436.1 838.2,438.4C841.3,440.8 846,445.3 846.7,446.9C847.5,448.6 845.1,448.8 842.5,448.3C839.9,447.9 834.7,445 831.2,444.1C827.6,443.1 823.4,444.1 821.2,442.7C819.1,441.2 817.2,437.2 818.4,435.6Z" fill="#e47c4a"  filter="url(#b05)"/><path d="M824.1,437.7C825,437 829,436.4 831.2,437C833.3,437.6 836.6,440.2 836.8,441.2C837.1,442.3 834.5,443.4 832.6,443.4C830.7,443.4 826.9,442.2 825.5,441.2C824.1,440.3 823.1,438.4 824.1,437.7Z" fill="#cc5430"  filter="url(#b05)"/><path d="M828.3,452.6C829.5,450.5 833.8,448.3 836.8,448.3C839.9,448.3 843.4,451.2 846.7,452.6C850,454 854.1,454.7 856.7,456.8C859.3,459 861.9,462 862.3,465.3C862.8,468.6 861.4,473.8 859.5,476.7C857.6,479.5 854.1,481.9 851,482.3C847.9,482.8 843.9,481.4 841.1,479.5C838.2,477.6 835.9,474.1 834,471C832.1,467.9 830.7,464.1 829.7,461.1C828.8,458 827.1,454.7 828.3,452.6Z" fill="#f2ac70"  stroke="#8a6a3a" stroke-width="0.7" stroke-opacity="0.5"/><path d="M841.1,461.1C842.1,459.4 845.6,458.2 848.2,458.2C850.8,458.2 854.8,459.4 856.7,461.1C858.5,462.7 859.7,466 859.5,468.2C859.3,470.3 857.4,472.9 855.2,473.8C853.1,474.8 849,474.8 846.7,473.8C844.5,472.9 842.7,470.3 841.8,468.2C840.8,466 840,462.7 841.1,461.1Z" fill="#e47c4a"  filter="url(#b05)"/><path d="M845.3,463.2C846.2,462.3 849.2,461.4 851,461.8C852.8,462.1 855.4,463.9 855.9,465.3C856.5,466.7 855.7,469.3 854.5,470.3C853.4,471.2 850.4,471.5 848.9,471C847.4,470.5 846.2,468.7 845.6,467.5C845,466.2 844.4,464.1 845.3,463.2Z" fill="#cc5430"  opacity="0.8" filter="url(#b05)"/><path d="M873.7,476.7C874.6,472.4 877,467.7 879.3,465.3C881.7,463 884.5,462 887.8,462.5C891.1,463 895.4,465.3 899.2,468.2C902.9,471 906.9,476.2 910.5,479.5C914,482.8 916.9,485.2 920.4,488C923.9,490.8 928.9,493.2 931.7,496.5C934.6,499.8 936.2,503.6 937.4,507.8C938.6,512.1 938.3,517.3 938.8,522C939.3,526.7 940.9,532.4 940.2,536.1C939.5,539.9 936.9,543.5 934.6,544.6C932.2,545.8 928.7,545.1 926.1,543.2C923.5,541.3 921.6,536.9 919,533.3C916.4,529.8 913.3,525.3 910.5,522C907.6,518.7 905.3,515.8 902,513.5C898.7,511.1 894.4,509.7 890.7,507.8C886.9,505.9 882.2,505 879.3,502.2C876.5,499.3 874.6,495.1 873.7,490.8C872.7,486.6 872.7,480.9 873.7,476.7Z" fill="#f2ac70"  stroke="#8a6a3a" stroke-width="0.7" stroke-opacity="0.5"/><path d="M879.3,468.2C881.6,467.2 887.3,468.4 890.7,471C894,473.6 896.3,480 899.2,483.7C902,487.5 904.6,491.1 907.6,493.7C910.7,496.3 914.3,497.4 917.6,499.3C920.9,501.2 924.4,501.7 927.5,505C930.5,508.3 934.1,514.4 936,519.2C937.9,523.9 939.3,530 938.8,533.3C938.3,536.6 935.5,539.5 933.1,539C930.8,538.5 928,533.8 924.6,530.5C921.3,527.2 917.1,522.9 913.3,519.2C909.5,515.4 905.8,511.1 902,507.8C898.2,504.5 894,502.6 890.7,499.3C887.3,496 884.4,491.8 882.2,488C879.9,484.2 877.7,480 877.2,476.7C876.7,473.4 877.1,469.1 879.3,468.2Z" fill="#e47c4a"  filter="url(#b05)"/><path d="M885,472.4C886.6,472.2 891.1,474.3 893.5,476.7C895.8,479 898.7,484.2 899.2,486.6C899.6,488.9 898,491.3 896.3,490.8C894.7,490.3 891.4,485.9 889.2,483.7C887.1,481.6 884.3,480 883.6,478.1C882.9,476.2 883.3,472.6 885,472.4Z" fill="#cc5430"  opacity="0.85" filter="url(#b05)"/><path d="M899.2,499.3C900.1,498.6 905.3,499.3 907.6,500.7C910,502.2 913.1,506.2 913.3,507.8C913.6,509.5 911,511.1 909.1,510.7C907.2,510.2 903.6,506.9 902,505C900.3,503.1 898.2,500 899.2,499.3Z" fill="#cc5430"  opacity="0.85" filter="url(#b05)"/><path d="M921.8,502.2C923,501.2 925.8,504 927.5,506.4C929.1,508.8 930.5,512.8 931.7,516.3C932.9,519.9 934.8,524.8 934.6,527.6C934.3,530.5 932,534.3 930.3,533.3C928.7,532.4 926.3,525.5 924.6,522C923,518.4 920.9,515.4 920.4,512.1C919.9,508.8 920.6,503.1 921.8,502.2Z" fill="#cc5430"  opacity="0.85" filter="url(#b05)"/><path d="M950.1,522C951.1,519.9 953.4,518.2 955.8,517.7C958.2,517.3 961.9,517.7 964.3,519.2C966.7,520.6 969.3,523.4 970,526.2C970.7,529.1 969.7,533.8 968.6,536.1C967.4,538.5 965.3,540.2 962.9,540.4C960.5,540.6 956.5,539.2 954.4,537.6C952.3,535.9 950.8,533.1 950.1,530.5C949.4,527.9 949.2,524.1 950.1,522Z" fill="#f2ac70"  stroke="#8a6a3a" stroke-width="0.7" stroke-opacity="0.5"/><path d="M953,524.8C953.4,522.6 956.8,521.3 958.6,521.3C960.5,521.3 963.1,523 964.3,524.8C965.5,526.6 966.2,530 965.7,531.9C965.3,533.8 963.1,535.7 961.5,536.1C959.8,536.6 957.2,536.6 955.8,534.7C954.4,532.8 952.5,527.1 953,524.8Z" fill="#e47c4a"  filter="url(#b05)"/><path d="M860.9,468.2C861.9,465.1 864.2,463.7 866.6,462.5C868.9,461.3 873.4,460.1 875.1,461.1C876.7,462 877,465.1 876.5,468.2C876,471.2 873.9,476.7 872.2,479.5C870.6,482.3 868.5,484.9 866.6,485.2C864.7,485.4 861.9,483.7 860.9,480.9C860,478.1 860,471.2 860.9,468.2Z" fill="#5cc8a0"  filter="url(#b1)"/><ellipse cx="866.9" cy="474.5" rx="3.5" ry="5" fill="#3aa0d0"  filter="url(#b05)"/><path d="M941.6,523.4C942.2,520.3 944.8,520.3 945.9,522C947,523.6 948,529.8 948,533.3C948,536.9 946.8,542 945.9,543.2C944.9,544.4 943.1,543.7 942.4,540.4C941.6,537.1 941.1,526.5 941.6,523.4Z" fill="#5cc8a0"  filter="url(#b1)"/><ellipse cx="882.9" cy="455.4" rx="4" ry="4" fill="#f7d98a" stroke="#c8a060" stroke-width="0.5"/><path d="M1113,493.1 L1127.3,497.9 L1074.6,632.1 L1065,627.3Z" fill="#f3ec98"  opacity="0.8"/><path d="M974,493.1C974,488.7 976.4,481.6 978.8,478.8C981.2,476 985.9,474.8 988.3,476.4C990.7,478 993.1,483.9 993.1,488.3C993.1,492.7 990.7,499.9 988.3,502.7C985.9,505.5 981.2,506.7 978.8,505.1C976.4,503.5 974,497.5 974,493.1Z" fill="#cfe672" /><path d="M1003.9,469.2C1004.3,466.4 1008.9,462 1012.3,460.8C1015.7,459.6 1021.3,460.2 1024.3,462C1027.3,463.8 1030.7,468.8 1030.3,471.6C1029.9,474.4 1025.3,477.8 1021.9,478.8C1018.5,479.8 1012.9,479.2 1009.9,477.6C1006.9,476 1003.5,472 1003.9,469.2Z" fill="#cfe672" /><path d="M1045.9,478.8C1045.9,474 1049,467.2 1053,464.4C1057,461.6 1065.2,460.4 1069.8,462C1074.4,463.6 1079,469.6 1080.6,474C1082.2,478.4 1081.6,484.3 1079.4,488.3C1077.2,492.3 1071.8,497.1 1067.4,497.9C1063,498.7 1056.6,496.3 1053,493.1C1049.4,489.9 1045.9,483.5 1045.9,478.8Z" fill="#cfe672" /><path d="M1003.9,493.1C1005.9,488.3 1012.1,483.9 1017.1,483.5C1022.1,483.1 1029.1,488.3 1033.9,490.7C1038.7,493.1 1041.1,495.9 1045.9,497.9C1050.6,499.9 1058.6,499.9 1062.6,502.7C1066.6,505.5 1069.4,510.3 1069.8,514.7C1070.2,519.1 1067.8,525.9 1065,529.1C1062.2,532.3 1056.2,535.1 1053,533.9C1049.8,532.7 1049.4,525.1 1045.9,521.9C1042.3,518.7 1035.9,514.7 1031.5,514.7C1027.1,514.7 1023.1,519.9 1019.5,521.9C1015.9,523.9 1012.3,528.3 1009.9,526.7C1007.5,525.1 1006.1,517.9 1005.1,512.3C1004.1,506.7 1001.9,497.9 1003.9,493.1Z" fill="#cfe672" /><path d="M1072.2,521.9C1073.8,518.1 1079.8,514.3 1084.2,513.5C1088.6,512.7 1095,514.5 1098.6,517.1C1102.2,519.7 1105.8,525.1 1105.8,529.1C1105.8,533.1 1102.2,538.3 1098.6,541.1C1095,543.9 1088.2,546.7 1084.2,545.9C1080.2,545.1 1076.6,540.3 1074.6,536.3C1072.6,532.3 1070.6,525.7 1072.2,521.9Z" fill="#cfe672" /><path d="M1084.2,497.9C1085,494.7 1092.2,492.7 1096.2,493.1C1100.2,493.5 1107,497.3 1108.2,500.3C1109.4,503.3 1106.2,509.1 1103.4,511.1C1100.6,513.1 1094.6,514.5 1091.4,512.3C1088.2,510.1 1083.4,501.1 1084.2,497.9Z" fill="#cfe672" /><path d="M1105.8,474C1106.6,470.6 1111.8,465.6 1115.3,464.4C1118.9,463.2 1124.5,464.8 1127.3,466.8C1130.1,468.8 1132.9,473.2 1132.1,476.4C1131.3,479.6 1126.1,484.5 1122.5,485.9C1118.9,487.3 1113.4,486.7 1110.6,484.7C1107.8,482.8 1105,477.4 1105.8,474Z" fill="#cfe672" /><path d="M1062.6,560.2C1063,557.4 1066.6,553.2 1068.6,553C1070.6,552.8 1073.8,556.6 1074.6,559C1075.4,561.4 1074.8,565.6 1073.4,567.4C1072,569.2 1068,571 1066.2,569.8C1064.4,568.6 1062.2,563 1062.6,560.2Z" fill="#cfe672" /><ellipse cx="1114.9" cy="474.4" rx="5" ry="5" fill="#9fd070"  filter="url(#b1)"/><ellipse cx="1101" cy="501.5" rx="4" ry="4" fill="#9fd070"  filter="url(#b1)"/><path d="M1041.1,598.6C1043.5,594.6 1049,592.6 1053,593.8C1057,595 1061.4,601.8 1065,605.8C1068.6,609.8 1073.8,612.6 1074.6,617.7C1075.4,622.9 1072.6,632.9 1069.8,636.9C1067,640.9 1061.8,642.5 1057.8,641.7C1053.8,640.9 1049,636.1 1045.9,632.1C1042.7,628.1 1039.5,623.3 1038.7,617.7C1037.9,612.2 1038.7,602.6 1041.1,598.6Z" fill="#f2ac70"  stroke="#8a6a3a" stroke-width="0.7" stroke-opacity="0.5"/><path d="M952.4,521.9C953.8,519.7 959.6,519.1 962,520.7C964.4,522.3 966.8,528.5 966.8,531.5C966.8,534.5 964.2,538.3 962,538.7C959.8,539.1 955.2,536.7 953.6,533.9C952,531.1 951,524.1 952.4,521.9Z" fill="#e47c4a"  filter="url(#b05)"/><path d="M957.2,553C958.4,551.2 964.4,549.8 966.8,550.6C969.2,551.4 971.6,555.8 971.6,557.8C971.6,559.8 968.8,562 966.8,562.6C964.8,563.2 961.2,563 959.6,561.4C958,559.8 956,554.8 957.2,553Z" fill="#e47c4a"  filter="url(#b05)"/><path d="M990.7,565C992.3,563.2 999.9,561.8 1002.7,562.6C1005.5,563.4 1007.5,567.8 1007.5,569.8C1007.5,571.8 1005.1,574 1002.7,574.6C1000.3,575.2 995.1,575 993.1,573.4C991.1,571.8 989.1,566.8 990.7,565Z" fill="#e47c4a"  filter="url(#b05)"/><path d="M994.3,566.9C995.1,565.8 1001,564.9 1002.7,565.5C1004.4,566.1 1005.4,569.2 1004.6,570.3C1003.8,571.4 999.6,572.8 997.9,572.2C996.2,571.7 993.5,568.1 994.3,566.9Z" fill="#cc5430"  filter="url(#b05)"/><path d="M985.9,579.4C986.7,577.8 993.5,576.2 995.5,577C997.5,577.8 998.7,582.6 997.9,584.2C997.1,585.8 992.7,587.4 990.7,586.6C988.7,585.8 985.1,581 985.9,579.4Z" fill="#e47c4a"  filter="url(#b05)"/><path d="M1021.9,586.6C1022.7,584.6 1029.5,583.2 1031.5,584.2C1033.5,585.2 1034.7,590.6 1033.9,592.6C1033.1,594.6 1028.7,597.2 1026.7,596.2C1024.7,595.2 1021.1,588.6 1021.9,586.6Z" fill="#e47c4a"  filter="url(#b05)"/><path d="M1012.3,601C1013.1,599.4 1019.9,597.8 1021.9,598.6C1023.9,599.4 1025.1,604.2 1024.3,605.8C1023.5,607.4 1019.1,609 1017.1,608.2C1015.1,607.4 1011.5,602.6 1012.3,601Z" fill="#e47c4a"  filter="url(#b05)"/><path d="M1045.9,605.8C1047.5,602.2 1053.8,601.4 1057.8,603.4C1061.8,605.4 1068.2,611.8 1069.8,617.7C1071.4,623.7 1069.4,635.7 1067.4,639.3C1065.4,642.9 1061,641.7 1057.8,639.3C1054.6,636.9 1050.2,630.5 1048.3,624.9C1046.3,619.3 1044.3,609.4 1045.9,605.8Z" fill="#e47c4a"  filter="url(#b05)"/><path d="M1050.6,610.6C1051.8,609 1057.8,610.2 1060.2,613C1062.6,615.7 1065,623.7 1065,627.3C1065,630.9 1062.2,635.3 1060.2,634.5C1058.2,633.7 1054.6,626.5 1053,622.5C1051.4,618.5 1049.4,612.2 1050.6,610.6Z" fill="#cc5430"  filter="url(#b05)"/><path d="M1026.7,603.4C1027.1,599.4 1031.5,596.2 1033.9,596.2C1036.3,596.2 1040.3,599.8 1041.1,603.4C1041.9,607 1040.3,614.9 1038.7,617.7C1037.1,620.5 1033.5,622.5 1031.5,620.1C1029.5,617.7 1026.3,607.4 1026.7,603.4Z" fill="#5cc8a0"  filter="url(#b1)"/><path d="M1115.3,500.3 L1131.3,505.8" fill="none" stroke="#fbf8d0" stroke-width="2.8" opacity="0.5" stroke-linejoin="round"/><path d="M1112.1,509.2 L1128.1,514.7" fill="none" stroke="#fbf8d0" stroke-width="2.8" opacity="0.5" stroke-linejoin="round"/><path d="M1108.9,518.1 L1124.9,523.6" fill="none" stroke="#fbf8d0" stroke-width="2.8" opacity="0.5" stroke-linejoin="round"/><path d="M1105.6,526.9 L1121.6,532.4" fill="none" stroke="#fbf8d0" stroke-width="2.8" opacity="0.5" stroke-linejoin="round"/><path d="M1102.4,535.8 L1118.4,541.3" fill="none" stroke="#fbf8d0" stroke-width="2.8" opacity="0.5" stroke-linejoin="round"/><path d="M1099.2,544.7 L1115.2,550.2" fill="none" stroke="#fbf8d0" stroke-width="2.8" opacity="0.5" stroke-linejoin="round"/><path d="M1095.9,553.5 L1111.9,559" fill="none" stroke="#fbf8d0" stroke-width="2.8" opacity="0.5" stroke-linejoin="round"/><path d="M1092.7,562.4 L1108.7,567.9" fill="none" stroke="#fbf8d0" stroke-width="2.8" opacity="0.5" stroke-linejoin="round"/><path d="M1089.5,571.3 L1105.5,576.8" fill="none" stroke="#fbf8d0" stroke-width="2.8" opacity="0.5" stroke-linejoin="round"/><path d="M1086.2,580.1 L1102.2,585.6" fill="none" stroke="#fbf8d0" stroke-width="2.8" opacity="0.5" stroke-linejoin="round"/><path d="M1083,589 L1099,594.5" fill="none" stroke="#fbf8d0" stroke-width="2.8" opacity="0.5" stroke-linejoin="round"/><path d="M1079.8,597.9 L1095.8,603.4" fill="none" stroke="#fbf8d0" stroke-width="2.8" opacity="0.5" stroke-linejoin="round"/></g></g><polygon points="1028.0,24.5 1032.9,27.5 1038.8,27.8 1043.3,31.6 1049.2,32.0 1053.7,35.8 1059.7,36.1 1064.2,40.0 1070.1,40.3 1074.6,44.2 1080.5,44.5 1085.0,48.3 1091.0,48.7 1095.5,52.5 1101.4,52.8 1105.9,56.7 1111.8,57.0 1116.3,60.9 1122.3,61.2 1126.8,65.0 1132.7,65.4 1137.2,69.2 1143.1,69.5 1147.6,73.4 1153.6,73.7 1158.1,77.6 1164.0,77.9 1168.5,81.7 1174.4,82.1 1179.0,85.9 1184.9,86.2 1189.4,90.1 1195.3,90.4 1199.8,94.3 1205.7,94.6 1210.3,98.4 1216.2,98.7 1220.7,102.6 1226.6,102.9 1231.1,106.8 1237.0,107.1 1241.6,110.9 1247.5,111.3 1252.0,115.1 1257.9,115.4 1262.4,119.3 1268.0,120.5 1265.7,125.6 1264.3,130.9 1261.8,135.9 1260.3,141.3 1257.8,146.2 1256.4,151.6 1253.8,156.6 1252.4,162.0 1249.8,166.9 1248.4,172.3 1245.9,177.2 1244.4,182.6 1241.9,187.6 1240.5,193.0 1237.9,197.9 1236.5,203.3 1234.0,208.3 1232.5,213.6 1230.0,218.6 1228.6,224.0 1226.0,228.9 1224.6,234.3 1222.0,239.3 1220.6,244.6 1218.1,249.6 1216.6,255.0 1214.1,259.9 1212.7,265.3 1210.1,270.3 1208.7,275.7 1206.1,280.6 1204.7,286.0 1202.2,290.9 1200.7,296.3 1198.2,301.3 1196.8,306.7 1194.2,311.6 1192.8,317.0 1190.3,322.0 1188.8,327.3 1186.3,332.3 1184.9,337.7 1182.3,342.6 1180.9,348.0 1178.3,353.0 1176.9,358.3 1174.4,363.3 1172.9,368.7 1170.4,373.6 1169.0,379.0 1166.4,384.0 1165.0,389.4 1162.4,394.3 1161.0,399.7 1158.5,404.6 1157.0,410.0 1154.5,415.0 1153.1,420.4 1150.5,425.3 1149.1,430.7 1146.6,435.7 1145.1,441.0 1142.6,446.0 1141.2,451.4 1138.6,456.3 1137.2,461.7 1134.6,466.7 1133.2,472.0 1130.7,477.0 1129.2,482.4 1126.7,487.3 1125.3,492.7 1122.7,497.7 1121.3,503.1 1118.7,508.0 1117.3,513.4 1114.8,518.3 1113.3,523.7 1110.8,528.7 1109.4,534.1 1106.8,539.0 1105.4,544.4 1102.9,549.4 1101.4,554.7 1098.9,559.7 1097.5,565.1 1094.9,570.0 1093.5,575.4 1090.9,580.4 1089.5,585.7 1087.0,590.7 1085.5,596.1 1083.0,601.0 1081.6,606.4 1079.0,611.4 1077.6,616.8 1075.0,621.7 1073.6,627.1 1071.1,632.0 1069.6,637.4 1067.1,642.4 1065.7,647.8 1063.1,652.7 1061.7,658.1 1059.2,663.1 1057.7,668.4 1055.2,673.4 1053.8,678.8 1051.2,683.7 1049.5,689.0 1044.8,685.9 1038.9,685.5 1034.5,681.6 1028.7,681.1 1024.3,677.2 1018.4,676.8 1014.0,672.9 1008.2,672.4 1003.8,668.5 997.9,668.1 993.6,664.1 987.7,663.7 983.3,659.8 977.5,659.3 973.1,655.4 967.2,655.0 962.9,651.0 957.0,650.6 952.6,646.7 946.8,646.2 942.4,642.3 936.5,641.9 932.2,637.9 926.3,637.5 921.9,633.6 916.1,633.1 911.7,629.2 905.8,628.8 901.4,624.9 895.6,624.4 891.2,620.5 885.3,620.1 881.0,616.1 875.1,615.7 870.7,611.8 864.9,611.3 860.5,607.4 854.6,607.0 850.3,603.0 844.4,602.6 840.0,598.7 834.2,598.2 829.8,594.3 823.9,593.9 819.6,589.9 813.7,589.5 809.3,585.6 803.5,585.1 799.1,581.2 793.2,580.8 788.8,576.9 783.0,576.4 778.6,572.5 772.7,572.1 768.0,569.0 770.0,563.8 771.4,558.4 773.7,553.4 775.0,548.0 777.3,542.9 778.6,537.5 780.9,532.4 782.2,527.0 784.5,521.9 785.8,516.5 788.1,511.5 789.4,506.1 791.7,501.0 793.1,495.6 795.3,490.5 796.7,485.1 799.0,480.0 800.3,474.6 802.6,469.5 803.9,464.1 806.2,459.1 807.5,453.7 809.8,448.6 811.1,443.2 813.4,438.1 814.7,432.7 817.0,427.6 818.4,422.2 820.6,417.2 822.0,411.8 824.2,406.7 825.6,401.3 827.9,396.2 829.2,390.8 831.5,385.7 832.8,380.3 835.1,375.3 836.4,369.9 838.7,364.8 840.0,359.4 842.3,354.3 843.7,348.9 845.9,343.8 847.3,338.4 849.5,333.3 850.9,327.9 853.2,322.9 854.5,317.5 856.8,312.4 858.1,307.0 860.4,301.9 861.7,296.5 864.0,291.4 865.3,286.0 867.6,281.0 868.9,275.6 871.2,270.5 872.6,265.1 874.8,260.0 876.2,254.6 878.5,249.5 879.8,244.1 882.1,239.0 883.4,233.6 885.7,228.6 887.0,223.2 889.3,218.1 890.6,212.7 892.9,207.6 894.2,202.2 896.5,197.1 897.9,191.7 900.1,186.7 901.5,181.3 903.7,176.2 905.1,170.8 907.4,165.7 908.7,160.3 911.0,155.2 912.3,149.8 914.6,144.8 915.9,139.4 918.2,134.3 919.5,128.9 921.8,123.8 923.2,118.4 925.4,113.3 927.0,108.0 931.8,104.9 935.3,100.2 940.6,97.6 944.1,92.9 949.4,90.4 952.9,85.7 958.2,83.1 961.7,78.4 967.0,75.9 970.5,71.2 975.8,68.6 979.2,63.9 984.5,61.3 988.0,56.6 993.3,54.1 996.8,49.4 1002.1,46.8 1005.6,42.1 1010.9,39.6 1014.4,34.9 1019.7,32.3 1023.2,27.6" fill="none" stroke="#22150e" stroke-width="1.65" stroke-linejoin="round"/><path d="M776.4,386.8 L812,417 L842,443 L857,457.5 L870,471 L884,483 L968,550.5 L1118.8,674.5" fill="none" stroke="#0a00ee" stroke-width="7" stroke-linecap="round" stroke-linejoin="round"/><path d="M1058.9,84.7h5.3V118h7.5L1061.6,136L1051.4,118h7.5z" fill="#e8151a"/><path d="M1175.2,44h5.3V77.5h7.5L1177.9,95.5L1167.7,77.5h7.5z" fill="#e8151a"/><path d="M1134.9,192.5h5.3V225.5h7.5L1137.6,243.5L1127.4,225.5h7.5z" fill="#e8151a"/><text x="952.5" y="509.5" font-size="29.5" fill="#000" text-anchor="middle" font-weight="bold" >C</text><text transform="translate(819.5,455.6) rotate(10)" font-size="12" fill="#3a1a08" text-anchor="middle" dominant-baseline="central" font-style="italic" opacity="0.9">5</text><text transform="translate(893.3,510.7) rotate(15)" font-size="12" fill="#3a1a08" text-anchor="middle" dominant-baseline="central" font-style="italic" opacity="0.9">5</text><text transform="translate(966.3,522.3) rotate(25)" font-size="12" fill="#3a1a08" text-anchor="middle" dominant-baseline="central" font-style="italic" opacity="0.9">5</text><text transform="translate(987.8,587.6) rotate(20)" font-size="12" fill="#3a1a08" text-anchor="middle" dominant-baseline="central" font-style="italic" opacity="0.9">5</text><text transform="translate(992,549) rotate(30)" font-size="12" fill="#3a1a08" text-anchor="middle" dominant-baseline="central" font-style="italic" opacity="0.9">5</text><text transform="translate(1063.8,607) rotate(20)" font-size="12" fill="#3a1a08" text-anchor="middle" dominant-baseline="central" font-style="italic" opacity="0.9">5</text><text transform="translate(827.6,412.1) rotate(10)" font-size="12" fill="#3a1a08" text-anchor="middle" dominant-baseline="central" font-style="italic" opacity="0.9">5</text><polygon points="1298.9,42.6 1277.0,53.5 1277.0,64.5 1288.0,64.5" fill="#fff" fill-opacity="0.55" stroke="#333" stroke-width="0.45"/><polygon points="1298.9,42.6 1277.0,53.5 1277.0,64.5" fill="#000"/><polygon points="1298.9,86.4 1288.0,64.5 1277.0,64.5 1277.0,75.5" fill="#fff" fill-opacity="0.55" stroke="#333" stroke-width="0.45"/><polygon points="1298.9,86.4 1288.0,64.5 1277.0,64.5" fill="#000"/><polygon points="1255.1,86.4 1277.0,75.5 1277.0,64.5 1266.0,64.5" fill="#fff" fill-opacity="0.55" stroke="#333" stroke-width="0.45"/><polygon points="1255.1,86.4 1277.0,75.5 1277.0,64.5" fill="#000"/><polygon points="1255.1,42.6 1266.0,64.5 1277.0,64.5 1277.0,53.5" fill="#fff" fill-opacity="0.55" stroke="#333" stroke-width="0.45"/><polygon points="1255.1,42.6 1266.0,64.5 1277.0,64.5" fill="#000"/><polygon points="1277.0,15.0 1267.8,55.3 1277.0,64.5 1286.2,55.3" fill="#fff" fill-opacity="0.55" stroke="#333" stroke-width="0.45"/><polygon points="1277.0,15.0 1286.2,55.3 1277.0,64.5" fill="#000"/><polygon points="1326.5,64.5 1286.2,55.3 1277.0,64.5 1286.2,73.7" fill="#fff" fill-opacity="0.55" stroke="#333" stroke-width="0.45"/><polygon points="1326.5,64.5 1286.2,73.7 1277.0,64.5" fill="#000"/><polygon points="1277.0,115.5 1286.2,73.7 1277.0,64.5 1267.8,73.7" fill="#fff" fill-opacity="0.55" stroke="#333" stroke-width="0.45"/><polygon points="1277.0,115.5 1267.8,73.7 1277.0,64.5" fill="#000"/><polygon points="1226.5,64.5 1267.8,73.7 1277.0,64.5 1267.8,55.3" fill="#fff" fill-opacity="0.55" stroke="#333" stroke-width="0.45"/><polygon points="1226.5,64.5 1267.8,55.3 1277.0,64.5" fill="#000"/><text x="1276.3" y="12.100000000000001" font-size="11" font-weight="bold" class="sans" text-anchor="middle" fill="#000">N</text>
</g>
<path d="M723.5,0V674.5H1328.5V0" fill="none" stroke="#8a8a8a" stroke-width="1"/><path d="M717.5,7.5H723.5M717.5,90.1H723.5M717.5,172.7H723.5M717.5,255.3H723.5M717.5,337.9H723.5M717.5,420.5H723.5M717.5,503.1H723.5M717.5,585.7H723.5M717.5,668.3H723.5M789.6,674.5V680.5M871.9,674.5V680.5M954.3,674.5V680.5M1036.6,674.5V680.5M1118.9,674.5V680.5M1201.2,674.5V680.5M1283.6,674.5V680.5" stroke="#8a8a8a" stroke-width="1" fill="none"/><rect x="723.5" y="-1" width="190" height="33" fill="#fff" stroke="#333" stroke-width="1"/><text x="749.5" y="14" font-size="12.5" fill="#000" text-anchor="start" font-weight="bold" textLength="108" lengthAdjust="spacingAndGlyphs" >Uśredniony rozkład</text><text x="749.5" y="28" font-size="12.5" fill="#000" text-anchor="start" font-weight="bold" textLength="109" lengthAdjust="spacingAndGlyphs" >parametru In Phase</text>
<text x="0.5" y="693.5" font-size="19.7" fill="#000" text-anchor="start" font-weight="bold" font-style="italic" textLength="105" lengthAdjust="spacingAndGlyphs" text-decoration="underline">Objaśnienia:</text><path d="M0.5,696.5H105.5" stroke="#000" stroke-width="1.6"/><text x="238" y="720.5" font-size="19.7" fill="#000" text-anchor="middle" >Przewodność [mS/m]</text><rect x="39" y="740" width="22.9" height="25.5" fill="#33006b"/><rect x="61.6" y="740" width="22.9" height="25.5" fill="#4a1a86"/><rect x="84.3" y="740" width="22.9" height="25.5" fill="#5f35a0"/><rect x="106.9" y="740" width="22.9" height="25.5" fill="#8f009c"/><rect x="129.6" y="740" width="22.9" height="25.5" fill="#930000"/><rect x="152.2" y="740" width="22.9" height="25.5" fill="#cc3300"/><rect x="174.8" y="740" width="22.9" height="25.5" fill="#ff0000"/><rect x="197.5" y="740" width="22.9" height="25.5" fill="#ff3318"/><rect x="220.1" y="740" width="22.9" height="25.5" fill="#ff6633"/><rect x="242.8" y="740" width="22.9" height="25.5" fill="#ff7f3f"/><rect x="265.4" y="740" width="22.9" height="25.5" fill="#ff9933"/><rect x="288" y="740" width="22.9" height="25.5" fill="#ffa620"/><rect x="310.7" y="740" width="22.9" height="25.5" fill="#ffee00"/><rect x="333.3" y="740" width="22.9" height="25.5" fill="#00ff00"/><rect x="355.9" y="740" width="22.9" height="25.5" fill="#009933"/><rect x="378.6" y="740" width="22.9" height="25.5" fill="#009933"/><rect x="401.2" y="740" width="22.9" height="25.5" fill="#1e90ff"/><rect x="423.9" y="740" width="22.9" height="25.5" fill="#00006e"/><path d="M242.8,740V765.5M288,740V765.5" stroke="#3a2a1a" stroke-width="0.6" fill="none" opacity="0.75"/><text transform="translate(34.5,773) rotate(50)" font-size="14.5" fill="#111" dominant-baseline="middle">0</text><text transform="translate(57.1,773) rotate(50)" font-size="14.5" fill="#111" dominant-baseline="middle">1</text><text transform="translate(79.8,773) rotate(50)" font-size="14.5" fill="#111" dominant-baseline="middle">2</text><text transform="translate(102.4,773) rotate(50)" font-size="14.5" fill="#111" dominant-baseline="middle">4</text><text transform="translate(125.1,773) rotate(50)" font-size="14.5" fill="#111" dominant-baseline="middle">6</text><text transform="translate(147.7,773) rotate(50)" font-size="14.5" fill="#111" dominant-baseline="middle">8</text><text transform="translate(170.3,773) rotate(50)" font-size="14.5" fill="#111" dominant-baseline="middle">10</text><text transform="translate(193,773) rotate(50)" font-size="14.5" fill="#111" dominant-baseline="middle">12</text><text transform="translate(215.6,773) rotate(50)" font-size="14.5" fill="#111" dominant-baseline="middle">14</text><text transform="translate(238.2,773) rotate(50)" font-size="14.5" fill="#111" dominant-baseline="middle">16</text><text transform="translate(260.9,773) rotate(50)" font-size="14.5" fill="#111" dominant-baseline="middle">18</text><text transform="translate(283.5,773) rotate(50)" font-size="14.5" fill="#111" dominant-baseline="middle">20</text><text transform="translate(306.2,773) rotate(50)" font-size="14.5" fill="#111" dominant-baseline="middle">25</text><text transform="translate(328.8,773) rotate(50)" font-size="14.5" fill="#111" dominant-baseline="middle">30</text><text transform="translate(351.4,773) rotate(50)" font-size="14.5" fill="#111" dominant-baseline="middle">35</text><text transform="translate(374.1,773) rotate(50)" font-size="14.5" fill="#111" dominant-baseline="middle">40</text><text transform="translate(396.7,773) rotate(50)" font-size="14.5" fill="#111" dominant-baseline="middle">45</text><text transform="translate(419.4,773) rotate(50)" font-size="14.5" fill="#111" dominant-baseline="middle">50</text><text x="238" y="834" font-size="19.7" fill="#000" text-anchor="middle" >In Phase [ppt]</text><rect x="39" y="854" width="20.7" height="26" fill="#0d74b5"/><rect x="59.4" y="854" width="20.7" height="26" fill="#4a97c9"/><rect x="79.8" y="854" width="20.7" height="26" fill="#92c5de"/><rect x="100.1" y="854" width="20.7" height="26" fill="#66c7a4"/><rect x="120.5" y="854" width="20.7" height="26" fill="#33c76a"/><rect x="140.9" y="854" width="20.7" height="26" fill="#66d977"/><rect x="161.2" y="854" width="20.7" height="26" fill="#99e680"/><rect x="181.6" y="854" width="20.7" height="26" fill="#ccf08e"/><rect x="202" y="854" width="20.7" height="26" fill="#ffff99"/><rect x="222.4" y="854" width="20.7" height="26" fill="#fde48c"/><rect x="242.8" y="854" width="20.7" height="26" fill="#fbd082"/><rect x="263.1" y="854" width="20.7" height="26" fill="#f7b884"/><rect x="283.5" y="854" width="20.7" height="26" fill="#f0a083"/><rect x="303.9" y="854" width="20.7" height="26" fill="#de6842"/><rect x="324.2" y="854" width="20.7" height="26" fill="#d43205"/><rect x="344.6" y="854" width="20.7" height="26" fill="#d32a10"/><rect x="365" y="854" width="20.7" height="26" fill="#d1201c"/><rect x="385.4" y="854" width="20.7" height="26" fill="#cf1621"/><rect x="405.8" y="854" width="20.7" height="26" fill="#cc0b28"/><rect x="426.1" y="854" width="20.7" height="26" fill="#c9052b"/><path d="M100.1,854V880M202,854V880M263.1,854V880M283.5,854V880" stroke="#3a2a1a" stroke-width="0.6" fill="none" opacity="0.75"/><text transform="translate(34.5,887.5) rotate(50)" font-size="14.5" fill="#111" dominant-baseline="middle">0</text><text transform="translate(54.9,887.5) rotate(50)" font-size="14.5" fill="#111" dominant-baseline="middle">1</text><text transform="translate(75.2,887.5) rotate(50)" font-size="14.5" fill="#111" dominant-baseline="middle">2</text><text transform="translate(95.6,887.5) rotate(50)" font-size="14.5" fill="#111" dominant-baseline="middle">2,5</text><text transform="translate(116,887.5) rotate(50)" font-size="14.5" fill="#111" dominant-baseline="middle">3</text><text transform="translate(136.4,887.5) rotate(50)" font-size="14.5" fill="#111" dominant-baseline="middle">3,25</text><text transform="translate(156.8,887.5) rotate(50)" font-size="14.5" fill="#111" dominant-baseline="middle">3,5</text><text transform="translate(177.1,887.5) rotate(50)" font-size="14.5" fill="#111" dominant-baseline="middle">3,75</text><text transform="translate(197.5,887.5) rotate(50)" font-size="14.5" fill="#111" dominant-baseline="middle">4</text><text transform="translate(217.9,887.5) rotate(50)" font-size="14.5" fill="#111" dominant-baseline="middle">4,25</text><text transform="translate(238.2,887.5) rotate(50)" font-size="14.5" fill="#111" dominant-baseline="middle">4,5</text><text transform="translate(258.6,887.5) rotate(50)" font-size="14.5" fill="#111" dominant-baseline="middle">4,75</text><text transform="translate(279,887.5) rotate(50)" font-size="14.5" fill="#111" dominant-baseline="middle">5</text><text transform="translate(299.4,887.5) rotate(50)" font-size="14.5" fill="#111" dominant-baseline="middle">5,5</text><text transform="translate(319.8,887.5) rotate(50)" font-size="14.5" fill="#111" dominant-baseline="middle">6</text><text transform="translate(340.1,887.5) rotate(50)" font-size="14.5" fill="#111" dominant-baseline="middle">6,5</text><text transform="translate(360.5,887.5) rotate(50)" font-size="14.5" fill="#111" dominant-baseline="middle">7</text><text transform="translate(380.9,887.5) rotate(50)" font-size="14.5" fill="#111" dominant-baseline="middle">7,5</text><text transform="translate(401.2,887.5) rotate(50)" font-size="14.5" fill="#111" dominant-baseline="middle">8</text><text transform="translate(421.6,887.5) rotate(50)" font-size="14.5" fill="#111" dominant-baseline="middle">9</text><rect x="490" y="708" width="49" height="31" fill="#930606"/><text x="514.7" y="731.3" font-size="19" fill="#fff" text-anchor="middle" font-weight="bold" >A</text><path d="M490.5,763.5H538.5" stroke="#0000e6" stroke-width="5" stroke-linecap="round"/><path d="M515,781h4v27h6.3l-8.3,14l-8.3,-14h6.3z" fill="#e01515"/><text x="576" y="728.5" font-size="15.6" fill="#000" text-anchor="start" >-Obszar anomalny</text><text x="576" y="769" font-size="15.6" fill="#000" text-anchor="start" textLength="312" lengthAdjust="spacingAndGlyphs" >-Obiekt liniowy, niezinwentaryzowane uzbrojenie</text><text x="576" y="802.5" font-size="15.6" fill="#000" text-anchor="start" >-Artefakt metalowy w podłożu</text>
<rect x="936" y="694.7" width="405.70000000000005" height="222.69999999999993" fill="#fff" stroke="#555" stroke-width="1.2"/><path d="M936,718.4H1341.7M936,755.2H1341.7M936,826.8H1341.7M936,871.6H1341.7M986.4,755.2V917.4M1238.5,826.8V917.4M1288.6,826.8V871.6M1188,871.6V917.4" stroke="#444" stroke-width="1" fill="none"/><path d="M936,917.4H1341.7" stroke="#888" stroke-width="1.6" fill="none"/><text x="939.5" y="712" font-size="17.8" fill="#000" text-anchor="start" font-weight="bold" textLength="168.5" lengthAdjust="spacingAndGlyphs" >SC2000 Poland zone 6</text><text x="1336" y="712" font-size="17.8" fill="#000" text-anchor="end" font-weight="bold" textLength="97" lengthAdjust="spacingAndGlyphs" >Skala 1:2000</text><g font-weight="bold" fill="#000" style="font-family:'DejaVu Sans','Liberation Sans',sans-serif"><text x="939.6" y="739.6" style="font-family:'DejaVu Sans','Liberation Sans',sans-serif"><tspan font-size="24" textLength="20.5" lengthAdjust="spacingAndGlyphs">G</tspan><tspan x="963.8" font-size="19.2" textLength="120.2" lengthAdjust="spacingAndGlyphs">EOSOLU</tspan></text><text x="1122.5" y="749" font-size="7.5" textLength="17.5" lengthAdjust="spacingAndGlyphs" style="font-family:'DejaVu Sans','Liberation Sans',sans-serif">S.C</text><text x="1217" y="733.4" style="font-family:'DejaVu Sans','Liberation Sans',sans-serif"><tspan font-size="10.5" textLength="13" lengthAdjust="spacingAndGlyphs">G</tspan><tspan x="1232" font-size="8.4" textLength="69" lengthAdjust="spacingAndGlyphs">EOSOLUM</tspan></text></g><path d="M1030.5,745.5 L1061.5,752 L1083.5,751 L1089.5,746.5 L1098.5,725 L1105.5,746.5 L1114.5,725 L1121.5,746.5" fill="none" stroke="#0a7a3a" stroke-width="4.2" stroke-linejoin="round" stroke-linecap="round"/><path d="M1029,743 L1060,749.5 L1082,748.5 L1088,744 L1097,722.5 L1104,744 L1113,722.5 L1120,744" fill="none" stroke="#f2e500" stroke-width="3" stroke-linejoin="round" stroke-linecap="round"/><path d="M1029,743 L1060,749.5 L1082,748.5 L1088,744 L1097,722.5 L1104,744 L1113,722.5 L1120,744" fill="none" stroke="#222" stroke-width="0.6" stroke-dasharray="0.8 1.6" stroke-linejoin="round"/><text x="1340.6" y="745" font-size="7.9" fill="#222" text-anchor="end" font-weight="bold" textLength="159.6" lengthAdjust="spacingAndGlyphs" >H. Bukowy-Olejnik D.Sowiński Spółka Cywilna</text><text x="1341" y="754" font-size="7.9" fill="#222" text-anchor="end" textLength="140" lengthAdjust="spacingAndGlyphs" >41-208 Sosnowiec, ul. Orląt Lwowskich 122</text><text x="946.4" y="794.6" font-size="10.6" fill="#222" text-anchor="start" >Temat:</text><text x="1166.5" y="786.3" font-size="14.6" fill="#000" text-anchor="middle" font-weight="bold" textLength="297.7" lengthAdjust="spacingAndGlyphs" >Dokumentacja geofizyczna z wyników badań,</text><text x="1166.5" y="802.3" font-size="14.6" fill="#000" text-anchor="middle" font-weight="bold" textLength="314" lengthAdjust="spacingAndGlyphs" >wykonanych na potrzeby planowanej inwestycji</text><text x="948.8" y="852.5" font-size="10.5" fill="#222" text-anchor="start" >Tytuł:</text><text x="1114.6" y="845.6" font-size="12" fill="#222" text-anchor="middle" font-style="italic" textLength="186" lengthAdjust="spacingAndGlyphs" >Wyniki badań konduktometrem</text><text x="1114.2" y="860" font-size="12" fill="#222" text-anchor="middle" font-style="italic" textLength="130.6" lengthAdjust="spacingAndGlyphs" >Głębokość ~7 m p.p.t.</text><text x="1249" y="852.5" font-size="10.5" fill="#222" text-anchor="start" >Nr zał.</text><text x="1318" y="852.5" font-size="10.5" fill="#222" text-anchor="middle" >---</text><text x="936.8" y="897.7" font-size="10.4" fill="#222" text-anchor="start" textLength="48.2" lengthAdjust="spacingAndGlyphs" >Opracował:</text><text x="1081.5" y="897.7" font-size="11.3" fill="#222" text-anchor="middle" textLength="102" lengthAdjust="spacingAndGlyphs" >mgr Dawid Sowiński</text><text x="1196.8" y="897.7" font-size="10.5" fill="#222" text-anchor="start" >Podpis:</text>
</svg></body></html>
